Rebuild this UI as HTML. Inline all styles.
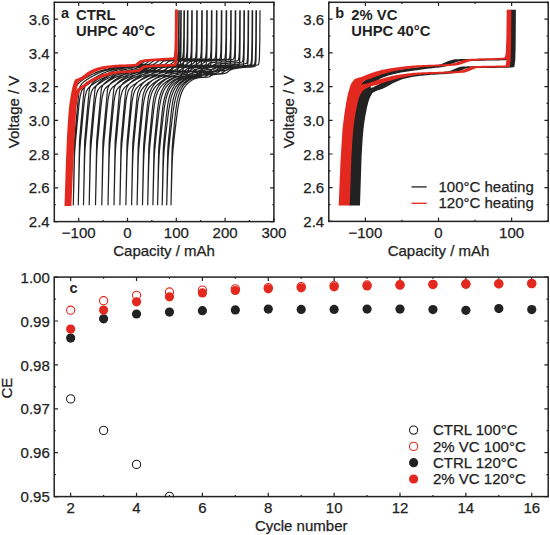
<!DOCTYPE html>
<html><head><meta charset="utf-8"><style>
html,body{margin:0;padding:0;background:#fff;width:550px;height:535px;overflow:hidden}
svg{display:block}
text{font-family:"Liberation Sans", sans-serif}
</style></head><body>
<svg width="550" height="535" viewBox="0 0 550 535" font-family='"Liberation Sans", sans-serif' fill="#222222"><rect width="550" height="535" fill="#fff"/><clipPath id="ca"><rect x="54.3" y="2.3" width="219.59999999999997" height="219.29999999999998"/></clipPath><clipPath id="cb"><rect x="328.8" y="2.3" width="219.40000000000003" height="219.1"/></clipPath><clipPath id="cc"><rect x="54.2" y="277.1" width="494.00000000000006" height="220.5"/></clipPath><g clip-path="url(#ca)" fill="none" stroke-linejoin="round" stroke-linecap="square"><path d="M69.50,204.73 70.72,140.63 70.73,140.47 71.96,126.02 72.09,124.60 73.18,112.07 73.89,104.36 74.41,98.28 75.50,88.33 75.64,87.90 76.87,85.33 77.80,84.12 78.10,83.75 79.32,82.51 79.99,81.92 80.55,81.46 81.78,80.53 82.19,80.24 83.01,79.65 84.14,78.89 84.24,78.83 85.47,78.10 86.69,77.41 87.07,77.20 87.92,76.71 89.15,76.01 90.38,75.32 91.61,74.67 91.95,74.50 92.83,74.06 94.06,73.46 95.29,72.89 96.52,72.34 97.75,71.84 98.78,71.46 98.97,71.40 100.20,70.99 101.43,70.61 102.66,70.25 103.89,69.91 105.11,69.59 106.34,69.29 107.57,68.99 108.54,68.76 108.80,68.70 110.03,68.43 111.26,68.16 112.48,67.90 113.71,67.66 114.94,67.42 116.17,67.19 117.40,66.97 118.62,66.75 118.69,66.74 119.85,66.55 121.08,66.38 122.31,66.22 123.54,66.07 124.76,65.94 125.99,65.81 127.22,65.68 128.45,65.55 129.68,65.41 130.90,65.26 132.13,65.10 133.36,64.91 134.59,64.71 135.82,64.47 137.04,64.20 138.27,63.90 138.36,63.87 139.50,63.33 140.73,62.39 141.96,61.40 143.19,60.67 143.82,60.50 144.41,60.43 145.64,60.29 146.87,60.17 148.10,60.07 149.33,59.98 150.55,59.91 151.78,59.84 153.01,59.78 154.24,59.73 155.47,59.69 156.69,59.64 157.92,59.60 159.15,59.55 160.38,59.50 161.61,59.45 162.83,59.39 164.06,59.32 164.16,59.32 165.29,59.25 166.52,59.20 167.75,59.14 168.98,59.08 170.20,59.02 171.43,58.95 172.66,58.86 173.89,58.75 174.90,58.64 175.12,58.62 176.34,58.40 177.34,57.97 177.57,57.34 178.21,51.22 178.60,36.04 178.80,10.73 M179.20,10.73 179.05,44.47 178.81,57.97 178.22,64.21 178.01,64.40 176.82,64.95 176.27,65.05 175.63,65.16 174.44,65.32 173.25,65.46 172.06,65.57 170.87,65.66 169.68,65.74 168.49,65.81 167.30,65.88 166.11,65.95 164.92,66.04 164.56,66.07 163.73,66.13 162.54,66.22 161.35,66.29 160.16,66.36 158.97,66.43 157.78,66.49 156.59,66.56 155.40,66.63 154.21,66.71 153.02,66.80 151.83,66.90 150.64,67.01 149.45,67.14 148.26,67.30 147.43,67.42 147.07,67.49 145.88,67.93 144.69,68.58 143.50,69.28 142.31,69.90 141.12,70.28 141.08,70.28 139.93,70.45 138.74,70.61 137.55,70.74 136.36,70.86 135.17,70.96 133.98,71.05 132.79,71.13 131.60,71.20 130.41,71.26 129.22,71.33 128.03,71.39 126.84,71.47 125.66,71.54 124.47,71.63 123.28,71.73 122.09,71.84 120.96,71.97 120.90,71.98 119.71,72.13 118.52,72.31 117.33,72.51 116.14,72.72 114.95,72.95 113.76,73.19 112.57,73.44 112.34,73.49 111.38,73.70 110.19,73.98 109.00,74.27 107.81,74.58 106.62,74.91 105.43,75.26 104.24,75.63 103.05,76.03 102.58,76.19 101.86,76.45 100.67,76.93 99.48,77.46 98.29,78.02 97.10,78.62 96.24,79.06 95.91,79.23 94.72,79.88 93.53,80.57 92.34,81.30 91.36,81.92 91.15,82.06 89.96,82.87 88.77,83.71 88.43,83.95 87.58,84.52 86.48,85.30 86.39,85.36 85.20,86.30 84.28,87.15 84.01,87.43 82.82,88.82 82.08,90.02 81.63,91.03 80.44,95.04 79.89,97.61 79.25,102.21 78.18,112.79 78.06,113.98 76.87,126.69 76.23,133.88 75.68,139.35 74.76,150.75 74.49,156.83 73.30,204.73 M73.30,204.73 74.51,140.87 74.52,140.63 75.72,126.43 75.89,124.60 76.92,112.75 77.69,104.36 78.13,99.26 79.30,88.33 79.34,88.21 80.55,85.51 81.60,84.12 81.76,83.92 82.96,82.65 83.79,81.92 84.17,81.60 85.38,80.68 85.99,80.24 86.59,79.80 87.79,78.98 87.94,78.89 89.00,78.25 90.21,77.57 90.87,77.20 91.42,76.89 92.63,76.20 93.83,75.51 95.04,74.86 95.75,74.50 96.25,74.25 97.46,73.66 98.67,73.08 99.87,72.54 101.08,72.03 102.29,71.57 102.58,71.46 103.50,71.16 104.70,70.77 105.91,70.41 107.12,70.08 108.33,69.75 109.54,69.45 110.74,69.15 111.95,68.86 112.34,68.76 113.16,68.57 114.37,68.29 115.58,68.02 116.78,67.76 117.99,67.51 119.20,67.27 120.41,67.04 121.61,66.82 121.68,66.80 122.82,66.61 124.03,66.43 125.24,66.27 126.45,66.13 127.65,65.99 128.86,65.87 130.07,65.74 131.28,65.61 132.49,65.47 133.69,65.33 134.90,65.16 136.11,64.98 137.32,64.77 138.52,64.54 139.73,64.27 140.94,63.97 141.03,63.94 142.15,63.40 143.36,62.46 144.56,61.48 145.77,60.75 146.40,60.57 146.98,60.50 148.19,60.37 149.40,60.25 150.60,60.14 151.81,60.06 153.02,59.98 154.23,59.91 155.43,59.85 156.64,59.80 157.85,59.76 159.06,59.71 160.27,59.67 161.47,59.62 162.68,59.57 163.89,59.52 165.10,59.46 166.16,59.40 166.31,59.39 167.51,59.32 168.72,59.26 169.93,59.21 171.14,59.15 172.34,59.09 173.55,59.02 174.76,58.93 175.97,58.82 176.90,58.72 177.18,58.69 178.38,58.47 179.34,58.04 179.59,57.32 180.21,51.30 180.60,36.10 180.80,10.73 M181.20,10.73 181.05,44.47 180.81,57.99 180.22,64.23 180.04,64.40 178.89,64.96 178.27,65.07 177.73,65.16 176.58,65.32 175.42,65.46 174.26,65.57 173.11,65.66 171.95,65.73 170.79,65.80 169.64,65.87 168.48,65.94 167.33,66.02 166.56,66.08 166.17,66.12 165.01,66.20 163.86,66.28 162.70,66.36 161.54,66.43 160.39,66.49 159.23,66.56 158.08,66.64 156.92,66.72 155.76,66.81 154.61,66.91 153.45,67.03 152.30,67.16 151.14,67.32 150.33,67.44 149.98,67.51 148.83,67.96 147.67,68.61 146.51,69.32 145.36,69.93 144.20,70.31 144.16,70.32 143.05,70.49 141.89,70.64 140.73,70.78 139.58,70.89 138.42,70.99 137.27,71.08 136.11,71.15 134.95,71.22 133.80,71.29 132.64,71.35 131.48,71.42 130.33,71.49 129.17,71.57 128.02,71.66 126.86,71.76 125.70,71.88 124.61,72.02 124.55,72.02 123.39,72.20 122.23,72.40 121.08,72.64 119.92,72.89 118.77,73.16 117.61,73.43 117.34,73.49 116.45,73.70 115.30,73.97 114.14,74.26 112.99,74.55 111.83,74.87 110.67,75.20 109.52,75.55 108.36,75.92 107.58,76.19 107.20,76.32 106.05,76.77 104.89,77.27 103.74,77.81 102.58,78.37 101.42,78.96 101.24,79.06 100.27,79.57 99.11,80.23 97.96,80.92 96.80,81.64 96.36,81.92 95.64,82.39 94.49,83.20 93.43,83.95 93.33,84.01 92.17,84.79 91.48,85.30 91.02,85.65 89.86,86.59 89.28,87.15 88.71,87.75 87.55,89.22 87.08,90.02 86.39,91.66 85.24,95.93 84.89,97.61 84.08,103.76 83.18,112.79 82.92,115.33 81.77,127.82 81.23,133.88 80.61,140.00 79.76,150.75 79.46,157.74 78.30,204.73 M78.30,204.73 79.49,141.30 79.52,140.63 80.68,126.83 80.89,124.60 81.86,113.43 82.69,104.36 83.05,100.25 84.24,88.57 84.30,88.33 85.43,85.71 86.60,84.12 86.61,84.09 87.80,82.80 88.79,81.92 88.99,81.75 90.18,80.83 90.99,80.24 91.36,79.96 92.55,79.14 92.94,78.89 93.74,78.40 94.93,77.73 95.87,77.20 96.11,77.06 97.30,76.38 98.49,75.71 99.68,75.05 100.75,74.50 100.87,74.44 102.05,73.86 103.24,73.28 104.43,72.73 105.62,72.22 106.80,71.74 107.58,71.46 107.99,71.32 109.18,70.94 110.37,70.58 111.55,70.24 112.74,69.92 113.93,69.61 115.12,69.31 116.30,69.02 117.34,68.76 117.49,68.73 118.68,68.44 119.87,68.15 121.06,67.88 122.24,67.61 123.43,67.35 124.62,67.11 125.81,66.88 125.87,66.87 126.99,66.67 128.18,66.49 129.37,66.33 130.56,66.18 131.74,66.05 132.93,65.92 134.12,65.80 135.31,65.67 136.49,65.53 137.68,65.39 138.87,65.23 140.06,65.05 141.24,64.84 142.43,64.61 143.62,64.34 144.81,64.04 144.89,64.02 146.00,63.47 147.18,62.54 148.37,61.55 149.56,60.82 150.18,60.65 150.75,60.58 151.93,60.44 153.12,60.32 154.31,60.22 155.50,60.13 156.68,60.05 157.87,59.98 159.06,59.93 160.25,59.87 161.43,59.83 162.62,59.78 163.81,59.74 165.00,59.69 166.19,59.64 167.37,59.58 168.56,59.52 169.36,59.47 169.75,59.45 170.94,59.39 172.12,59.33 173.31,59.28 174.50,59.22 175.69,59.16 176.87,59.09 178.06,59.00 179.25,58.89 180.10,58.80 180.44,58.75 181.62,58.53 182.54,58.12 182.81,57.29 183.41,51.38 183.80,36.16 184.00,10.73 M184.40,10.73 184.25,44.47 184.01,58.01 183.42,64.25 183.27,64.40 182.13,64.97 181.47,65.09 181.00,65.17 179.87,65.33 178.73,65.46 177.60,65.57 176.46,65.66 175.33,65.74 174.20,65.81 173.06,65.87 171.93,65.94 170.80,66.02 169.76,66.10 169.66,66.11 168.53,66.20 167.39,66.28 166.26,66.36 165.13,66.43 163.99,66.50 162.86,66.57 161.73,66.65 160.59,66.73 159.46,66.82 158.32,66.93 157.19,67.05 156.06,67.19 154.92,67.35 154.13,67.47 153.79,67.54 152.66,67.99 151.52,68.64 150.39,69.35 149.26,69.96 148.12,70.34 148.08,70.35 146.99,70.52 145.85,70.68 144.72,70.81 143.59,70.93 142.45,71.02 141.32,71.11 140.19,71.18 139.05,71.25 137.92,71.32 136.78,71.38 135.65,71.45 134.52,71.52 133.38,71.60 132.25,71.69 131.12,71.80 129.98,71.93 128.91,72.06 128.85,72.07 127.71,72.26 126.58,72.49 125.45,72.76 124.31,73.04 123.18,73.33 122.54,73.49 122.05,73.61 120.91,73.89 119.78,74.17 118.64,74.45 117.51,74.75 116.38,75.06 115.24,75.39 114.11,75.74 112.98,76.12 112.78,76.19 111.84,76.53 110.71,77.00 109.58,77.51 108.44,78.05 107.31,78.61 106.44,79.06 106.17,79.19 105.04,79.81 103.91,80.47 102.77,81.16 101.64,81.87 101.56,81.92 100.51,82.63 99.37,83.43 98.63,83.95 98.24,84.21 97.10,84.98 96.68,85.30 95.97,85.84 94.84,86.80 94.48,87.15 93.70,87.97 92.57,89.51 92.28,90.02 91.44,92.13 90.30,96.56 90.09,97.61 89.17,104.84 88.38,112.79 88.03,116.25 86.90,128.58 86.43,133.88 85.77,140.43 84.96,150.75 84.63,158.37 83.50,204.73 M83.50,204.73 84.67,141.73 84.72,140.63 85.84,127.20 86.09,124.60 87.01,114.08 87.89,104.36 88.17,101.17 89.34,89.04 89.50,88.33 90.51,85.90 91.68,84.26 91.80,84.12 92.85,82.95 93.99,81.92 94.02,81.90 95.19,80.97 96.19,80.24 96.35,80.12 97.52,79.29 98.14,78.89 98.69,78.55 99.86,77.87 101.03,77.22 101.07,77.20 102.20,76.56 103.37,75.89 104.53,75.24 105.70,74.62 105.95,74.50 106.87,74.04 108.04,73.48 109.21,72.93 110.38,72.40 111.54,71.92 112.71,71.49 112.78,71.46 113.88,71.10 115.05,70.73 116.22,70.40 117.39,70.07 118.56,69.77 119.72,69.47 120.89,69.18 122.06,68.89 122.54,68.76 123.23,68.59 124.40,68.29 125.57,68.00 126.74,67.71 127.90,67.44 129.07,67.18 130.24,66.94 130.30,66.93 131.41,66.73 132.58,66.55 133.75,66.39 134.92,66.24 136.08,66.10 137.25,65.98 138.42,65.85 139.59,65.72 140.76,65.59 141.93,65.45 143.10,65.29 144.26,65.11 145.43,64.91 146.60,64.68 147.77,64.41 148.94,64.11 149.02,64.09 150.11,63.54 151.28,62.61 152.44,61.63 153.61,60.90 154.22,60.73 154.78,60.65 155.95,60.51 157.12,60.39 158.29,60.29 159.46,60.20 160.62,60.12 161.79,60.06 162.96,60.00 164.13,59.94 165.30,59.90 166.47,59.85 167.63,59.80 168.80,59.76 169.97,59.71 171.14,59.65 172.31,59.59 172.86,59.55 173.48,59.51 174.65,59.45 175.81,59.40 176.98,59.34 178.15,59.29 179.32,59.23 180.49,59.16 181.66,59.07 182.83,58.96 183.60,58.87 183.99,58.82 185.16,58.59 186.04,58.19 186.33,57.26 186.91,51.45 187.30,36.21 187.50,10.73 M187.90,10.73 187.75,44.47 187.51,58.03 186.92,64.27 186.79,64.40 185.68,64.97 184.97,65.11 184.57,65.18 183.46,65.34 182.36,65.47 181.25,65.58 180.14,65.66 179.03,65.74 177.92,65.81 176.81,65.87 175.70,65.94 174.59,66.01 173.48,66.10 173.26,66.12 172.37,66.19 171.27,66.28 170.16,66.36 169.05,66.43 167.94,66.50 166.83,66.58 165.72,66.66 164.61,66.74 163.50,66.84 162.39,66.94 161.28,67.07 160.18,67.21 159.07,67.37 158.29,67.50 157.96,67.57 156.85,68.02 155.74,68.67 154.63,69.38 153.52,70.00 152.41,70.37 152.37,70.38 151.30,70.56 150.19,70.71 149.09,70.84 147.98,70.96 146.87,71.05 145.76,71.14 144.65,71.21 143.54,71.28 142.43,71.34 141.32,71.41 140.21,71.47 139.10,71.54 138.00,71.63 136.89,71.72 135.78,71.83 134.67,71.96 133.62,72.11 133.56,72.12 132.45,72.33 131.34,72.61 130.23,72.92 129.12,73.24 128.24,73.49 128.01,73.55 126.91,73.83 125.80,74.11 124.69,74.39 123.58,74.68 122.47,74.97 121.36,75.28 120.25,75.61 119.14,75.96 118.48,76.19 118.03,76.35 116.92,76.78 115.82,77.26 114.71,77.77 113.60,78.31 112.49,78.87 112.14,79.06 111.38,79.45 110.27,80.08 109.16,80.73 108.05,81.42 107.26,81.92 106.94,82.13 105.83,82.89 104.73,83.67 104.33,83.95 103.62,84.43 102.51,85.20 102.38,85.30 101.40,86.05 100.29,87.04 100.18,87.15 99.18,88.23 98.07,89.86 97.98,90.02 96.96,92.68 95.85,97.28 95.79,97.61 94.74,106.07 94.08,112.79 93.64,117.28 92.53,129.41 92.13,133.88 91.42,140.92 90.66,150.75 90.31,159.08 89.20,204.73 M89.20,204.73 90.35,142.10 90.42,140.63 91.51,127.50 91.79,124.60 92.66,114.62 93.59,104.36 93.81,101.91 94.96,89.53 95.20,88.33 96.12,86.07 97.27,84.40 97.50,84.12 98.42,83.07 99.58,82.02 99.69,81.92 100.73,81.09 101.88,80.24 101.89,80.24 103.03,79.42 103.84,78.89 104.19,78.67 105.34,78.00 106.49,77.35 106.77,77.20 107.64,76.70 108.80,76.04 109.95,75.39 111.10,74.78 111.65,74.50 112.26,74.20 113.41,73.63 114.56,73.09 115.71,72.56 116.87,72.07 118.02,71.63 118.48,71.46 119.17,71.23 120.33,70.86 121.48,70.52 122.63,70.20 123.78,69.90 124.94,69.60 126.09,69.31 127.24,69.02 128.24,68.76 128.40,68.72 129.55,68.42 130.70,68.11 131.85,67.81 133.01,67.52 134.16,67.25 135.31,67.01 135.37,67.00 136.47,66.80 137.62,66.61 138.77,66.44 139.92,66.30 141.08,66.16 142.23,66.03 143.38,65.91 144.53,65.78 145.69,65.65 146.84,65.51 147.99,65.35 149.15,65.18 150.30,64.98 151.45,64.75 152.60,64.48 153.76,64.18 153.84,64.16 154.91,63.62 156.06,62.69 157.22,61.70 158.37,60.98 158.97,60.80 159.52,60.73 160.67,60.59 161.83,60.47 162.98,60.36 164.13,60.27 165.29,60.19 166.44,60.13 167.59,60.07 168.74,60.02 169.90,59.97 171.05,59.92 172.20,59.87 173.36,59.83 174.51,59.77 175.66,59.72 176.81,59.65 177.16,59.63 177.97,59.58 179.12,59.52 180.27,59.47 181.42,59.41 182.58,59.36 183.73,59.30 184.88,59.23 186.04,59.14 187.19,59.03 187.90,58.95 188.34,58.89 189.49,58.66 190.34,58.26 190.65,57.24 191.21,51.53 191.60,36.27 191.80,10.73 M192.20,10.73 192.05,44.47 191.81,58.05 191.22,64.30 191.11,64.40 190.03,64.98 189.27,65.13 188.94,65.19 187.85,65.34 186.77,65.47 185.68,65.58 184.59,65.67 183.51,65.74 182.42,65.81 181.33,65.87 180.25,65.94 179.16,66.01 178.08,66.09 177.56,66.14 176.99,66.19 175.90,66.27 174.82,66.36 173.73,66.43 172.64,66.51 171.56,66.58 170.47,66.66 169.38,66.75 168.30,66.85 167.21,66.96 166.12,67.08 165.04,67.23 163.95,67.39 163.19,67.52 162.86,67.60 161.78,68.05 160.69,68.71 159.60,69.41 158.52,70.03 157.43,70.41 157.39,70.42 156.34,70.59 155.26,70.75 154.17,70.88 153.09,70.99 152.00,71.08 150.91,71.16 149.83,71.24 148.74,71.30 147.65,71.36 146.57,71.43 145.48,71.49 144.39,71.57 143.31,71.65 142.22,71.75 141.13,71.87 140.05,72.00 139.02,72.16 138.96,72.17 137.87,72.41 136.79,72.75 135.70,73.12 134.61,73.47 134.54,73.49 133.53,73.77 132.44,74.06 131.36,74.33 130.27,74.61 129.18,74.89 128.10,75.17 127.01,75.48 125.92,75.81 124.84,76.17 124.78,76.19 123.75,76.57 122.66,77.02 121.58,77.51 120.49,78.02 119.40,78.56 118.44,79.06 118.32,79.12 117.23,79.70 116.14,80.32 115.06,80.98 113.97,81.66 113.56,81.92 112.88,82.37 111.80,83.12 110.71,83.89 110.63,83.95 109.62,84.62 108.68,85.30 108.54,85.40 107.45,86.26 106.48,87.15 106.37,87.27 105.28,88.48 104.28,90.02 104.19,90.20 103.11,93.23 102.09,97.61 102.02,97.98 100.93,107.21 100.38,112.79 99.85,118.22 98.76,130.16 98.43,133.88 97.67,141.38 96.96,150.75 96.59,159.74 95.50,204.73 M95.50,204.73 96.64,142.47 96.72,140.63 97.78,127.77 98.09,124.60 98.91,115.11 99.89,104.36 100.05,102.59 101.19,90.04 101.50,88.33 102.33,86.24 103.47,84.53 103.80,84.12 104.61,83.19 105.74,82.14 105.99,81.92 106.88,81.20 108.02,80.36 108.19,80.24 109.16,79.54 110.14,78.89 110.30,78.79 111.43,78.11 112.57,77.48 113.07,77.20 113.71,76.83 114.85,76.18 115.99,75.54 117.13,74.92 117.95,74.50 118.26,74.34 119.40,73.78 120.54,73.24 121.68,72.71 122.82,72.22 123.96,71.76 124.78,71.46 125.09,71.36 126.23,70.99 127.37,70.65 128.51,70.33 129.65,70.02 130.78,69.73 131.92,69.44 133.06,69.15 134.20,68.86 134.54,68.76 135.34,68.55 136.48,68.23 137.61,67.91 138.75,67.61 139.89,67.33 141.03,67.07 141.09,67.06 142.17,66.86 143.30,66.67 144.44,66.50 145.58,66.35 146.72,66.22 147.86,66.09 149.00,65.97 150.13,65.84 151.27,65.71 152.41,65.57 153.55,65.42 154.69,65.24 155.82,65.05 156.96,64.82 158.10,64.56 159.24,64.26 159.32,64.23 160.38,63.69 161.52,62.76 162.65,61.78 163.79,61.05 164.38,60.88 164.93,60.80 166.07,60.66 167.21,60.54 168.34,60.44 169.48,60.35 170.62,60.27 171.76,60.20 172.90,60.14 174.04,60.09 175.17,60.04 176.31,59.99 177.45,59.95 178.59,59.90 179.73,59.84 180.87,59.78 182.00,59.72 182.16,59.71 183.14,59.65 184.28,59.59 185.42,59.54 186.56,59.49 187.69,59.43 188.83,59.37 189.97,59.30 191.11,59.21 192.25,59.10 192.90,59.02 193.39,58.96 194.52,58.72 195.34,58.34 195.66,57.23 196.21,51.61 196.60,36.33 196.80,10.73 M197.20,10.73 197.05,44.47 196.81,58.07 196.22,64.32 196.13,64.41 195.06,64.99 194.27,65.15 193.98,65.20 192.91,65.36 191.84,65.48 190.77,65.59 189.70,65.68 188.62,65.75 187.55,65.82 186.48,65.88 185.41,65.94 184.34,66.01 183.27,66.09 182.56,66.15 182.19,66.19 181.12,66.28 180.05,66.36 178.98,66.44 177.91,66.52 176.83,66.59 175.76,66.68 174.69,66.77 173.62,66.86 172.55,66.98 171.47,67.10 170.40,67.25 169.33,67.42 168.58,67.55 168.26,67.63 167.19,68.08 166.11,68.74 165.04,69.44 163.97,70.06 162.90,70.44 162.86,70.45 161.83,70.62 160.76,70.78 159.68,70.91 158.61,71.02 157.54,71.11 156.47,71.19 155.40,71.26 154.32,71.33 153.25,71.39 152.18,71.45 151.11,71.52 150.04,71.59 148.96,71.68 147.89,71.78 146.82,71.90 145.75,72.04 144.73,72.20 144.68,72.21 143.60,72.49 142.53,72.88 141.46,73.28 140.84,73.49 140.39,73.62 139.32,73.93 138.24,74.21 137.17,74.48 136.10,74.75 135.03,75.02 133.96,75.30 132.89,75.61 131.81,75.94 131.08,76.19 130.74,76.31 129.67,76.72 128.60,77.18 127.53,77.67 126.45,78.19 125.38,78.72 124.74,79.06 124.31,79.28 123.24,79.87 122.17,80.49 121.09,81.14 120.02,81.82 119.86,81.92 118.95,82.53 117.88,83.28 116.93,83.95 116.81,84.03 115.73,84.75 114.98,85.30 114.66,85.53 113.59,86.39 112.78,87.15 112.52,87.42 111.45,88.65 110.58,90.02 110.38,90.45 109.30,93.60 108.39,97.61 108.23,98.50 107.16,107.95 106.68,112.79 106.09,118.84 105.02,130.66 104.73,133.88 103.94,141.68 103.26,150.75 102.87,160.17 101.80,204.73 M101.80,204.73 102.92,142.85 103.02,140.63 104.05,128.05 104.39,124.60 105.17,115.61 106.19,104.36 106.29,103.25 107.42,90.62 107.80,88.33 108.54,86.41 109.67,84.66 110.10,84.12 110.79,83.31 111.91,82.25 112.29,81.92 113.04,81.31 114.16,80.47 114.49,80.24 115.28,79.66 116.41,78.91 116.44,78.89 117.53,78.23 118.65,77.60 119.37,77.20 119.78,76.97 120.90,76.32 122.02,75.69 123.15,75.07 124.25,74.50 124.27,74.49 125.40,73.93 126.52,73.39 127.64,72.86 128.77,72.37 129.89,71.90 131.01,71.49 131.08,71.46 132.14,71.11 133.26,70.77 134.38,70.45 135.51,70.15 136.63,69.86 137.76,69.57 138.88,69.28 140.00,68.99 140.84,68.76 141.13,68.69 142.25,68.36 143.37,68.03 144.50,67.70 145.62,67.40 146.74,67.14 146.80,67.13 147.87,66.92 148.99,66.72 150.11,66.56 151.24,66.41 152.36,66.27 153.49,66.14 154.61,66.02 155.73,65.90 156.86,65.77 157.98,65.63 159.10,65.48 160.23,65.31 161.35,65.11 162.47,64.89 163.60,64.63 164.72,64.33 164.80,64.30 165.84,63.76 166.97,62.84 168.09,61.86 169.22,61.13 169.80,60.95 170.34,60.88 171.46,60.74 172.59,60.62 173.71,60.51 174.83,60.42 175.96,60.34 177.08,60.27 178.20,60.21 179.33,60.16 180.45,60.11 181.58,60.06 182.70,60.02 183.82,59.97 184.95,59.91 186.07,59.85 187.16,59.79 187.19,59.78 188.32,59.72 189.44,59.66 190.56,59.61 191.69,59.56 192.81,59.50 193.93,59.44 195.06,59.37 196.18,59.28 197.31,59.17 197.90,59.10 198.43,59.03 199.55,58.79 200.34,58.41 200.68,57.22 201.21,51.69 201.60,36.39 201.80,10.73 M202.20,10.73 202.05,44.47 201.81,58.09 201.22,64.34 201.14,64.42 200.08,65.01 199.27,65.17 199.02,65.21 197.97,65.37 196.91,65.50 195.85,65.60 194.79,65.69 193.73,65.76 192.67,65.83 191.62,65.89 190.56,65.95 189.50,66.02 188.44,66.09 187.56,66.17 187.38,66.19 186.32,66.28 185.27,66.36 184.21,66.44 183.15,66.52 182.09,66.60 181.03,66.69 179.97,66.78 178.91,66.88 177.86,66.99 176.80,67.12 175.74,67.27 174.68,67.44 173.94,67.58 173.62,67.66 172.56,68.11 171.51,68.77 170.45,69.48 169.39,70.09 168.33,70.47 168.29,70.48 167.27,70.66 166.21,70.81 165.16,70.94 164.10,71.05 163.04,71.15 161.98,71.22 160.92,71.29 159.86,71.35 158.80,71.41 157.75,71.48 156.69,71.54 155.63,71.62 154.57,71.71 153.51,71.81 152.45,71.93 151.40,72.08 150.39,72.25 150.34,72.26 149.28,72.58 148.22,73.02 147.16,73.45 147.04,73.49 146.10,73.78 145.04,74.08 143.99,74.35 142.93,74.62 141.87,74.88 140.81,75.14 139.75,75.43 138.69,75.73 137.64,76.07 137.28,76.19 136.58,76.44 135.52,76.87 134.46,77.33 133.40,77.82 132.34,78.34 131.29,78.88 130.94,79.06 130.23,79.43 129.17,80.02 128.11,80.64 127.05,81.29 126.06,81.92 125.99,81.96 124.93,82.68 123.88,83.42 123.13,83.95 122.82,84.16 121.76,84.87 121.18,85.30 120.70,85.66 119.64,86.52 118.98,87.15 118.58,87.56 117.53,88.81 116.78,90.02 116.47,90.69 115.41,93.95 114.59,97.61 114.35,99.03 113.29,108.64 112.88,112.79 112.23,119.41 111.18,131.11 110.93,133.88 110.12,141.96 109.46,150.75 109.06,160.58 108.00,204.73 M108.00,204.73 109.11,143.21 109.22,140.63 110.22,128.30 110.59,124.60 111.33,116.07 112.39,104.36 112.44,103.84 113.55,91.21 114.00,88.33 114.66,86.58 115.77,84.78 116.30,84.12 116.88,83.42 117.99,82.36 118.49,81.92 119.10,81.42 120.21,80.58 120.69,80.24 121.32,79.78 122.43,79.02 122.64,78.89 123.54,78.34 124.65,77.71 125.57,77.20 125.76,77.09 126.87,76.46 127.98,75.82 129.09,75.21 130.20,74.62 130.45,74.50 131.31,74.07 132.42,73.53 133.53,73.01 134.64,72.51 135.75,72.04 136.86,71.61 137.28,71.46 137.97,71.23 139.08,70.88 140.19,70.56 141.30,70.26 142.41,69.97 143.52,69.69 144.63,69.41 145.74,69.12 146.85,68.82 147.04,68.76 147.96,68.49 149.07,68.14 150.18,67.80 151.29,67.48 152.40,67.20 152.46,67.19 153.51,66.98 154.62,66.78 155.73,66.61 156.84,66.46 157.96,66.32 159.07,66.20 160.18,66.08 161.29,65.96 162.40,65.83 163.51,65.69 164.62,65.54 165.73,65.37 166.84,65.18 167.95,64.96 169.06,64.70 170.17,64.40 170.24,64.38 171.28,63.84 172.39,62.91 173.50,61.93 174.61,61.21 175.18,61.03 175.72,60.95 176.83,60.81 177.94,60.69 179.05,60.58 180.16,60.49 181.27,60.41 182.38,60.34 183.49,60.28 184.60,60.23 185.71,60.18 186.82,60.13 187.93,60.09 189.04,60.04 190.15,59.98 191.26,59.92 192.16,59.86 192.37,59.85 193.48,59.78 194.59,59.73 195.70,59.68 196.81,59.63 197.92,59.57 199.03,59.51 200.14,59.44 201.25,59.35 202.36,59.24 202.90,59.17 203.47,59.10 204.58,58.85 205.34,58.49 205.69,57.21 206.21,51.77 206.60,36.45 206.80,10.73 M207.20,10.73 207.05,44.47 206.81,58.10 206.22,64.36 206.15,64.43 205.11,65.02 204.27,65.19 204.06,65.23 203.01,65.38 201.96,65.51 200.92,65.61 199.87,65.70 198.82,65.77 197.78,65.84 196.73,65.90 195.68,65.96 194.63,66.02 193.59,66.10 192.56,66.19 192.54,66.19 191.49,66.28 190.44,66.37 189.40,66.45 188.35,66.53 187.30,66.61 186.26,66.70 185.21,66.79 184.16,66.90 183.11,67.01 182.07,67.15 181.02,67.30 179.97,67.47 179.24,67.61 178.93,67.68 177.88,68.14 176.83,68.80 175.78,69.51 174.74,70.12 173.69,70.51 173.65,70.51 172.64,70.69 171.60,70.85 170.55,70.98 169.50,71.09 168.45,71.18 167.41,71.25 166.36,71.32 165.31,71.38 164.27,71.44 163.22,71.50 162.17,71.57 161.12,71.64 160.08,71.73 159.03,71.84 157.98,71.97 156.93,72.12 155.94,72.30 155.89,72.31 154.84,72.67 153.79,73.17 153.04,73.49 152.75,73.59 151.70,73.91 150.65,74.21 149.60,74.48 148.56,74.73 147.51,74.99 146.46,75.25 145.42,75.53 144.37,75.83 143.32,76.17 143.28,76.19 142.27,76.56 141.23,76.99 140.18,77.46 139.13,77.95 138.09,78.47 137.04,79.00 136.94,79.06 135.99,79.56 134.94,80.15 133.90,80.77 132.85,81.42 132.06,81.92 131.80,82.09 130.76,82.80 129.71,83.54 129.13,83.95 128.66,84.26 127.61,84.98 127.18,85.30 126.57,85.76 125.52,86.63 124.98,87.15 124.47,87.68 123.42,88.96 122.78,90.02 122.38,90.90 121.33,94.26 120.59,97.61 120.28,99.50 119.24,109.22 118.88,112.79 118.19,119.89 117.14,131.49 116.93,133.88 116.09,142.20 115.46,150.75 115.05,160.92 114.00,204.73 M114.00,204.73 115.10,143.62 115.22,140.63 116.19,128.56 116.59,124.60 117.29,116.57 118.38,104.46 118.39,104.36 119.48,91.89 120.00,88.33 120.57,86.78 121.67,84.91 122.30,84.12 122.76,83.55 123.86,82.47 124.49,81.92 124.96,81.53 126.05,80.70 126.69,80.24 127.15,79.90 128.24,79.14 128.64,78.89 129.34,78.46 130.43,77.83 131.53,77.22 131.57,77.20 132.62,76.60 133.72,75.97 134.81,75.36 135.91,74.77 136.45,74.50 137.01,74.22 138.10,73.69 139.20,73.16 140.29,72.66 141.39,72.19 142.48,71.75 143.28,71.46 143.58,71.36 144.67,71.01 145.77,70.69 146.87,70.39 147.96,70.10 149.06,69.83 150.15,69.55 151.25,69.26 152.34,68.97 153.04,68.76 153.44,68.64 154.53,68.28 155.63,67.91 156.72,67.56 157.82,67.27 157.88,67.25 158.92,67.04 160.01,66.84 161.11,66.66 162.20,66.51 163.30,66.37 164.39,66.25 165.49,66.13 166.58,66.01 167.68,65.89 168.78,65.75 169.87,65.61 170.97,65.44 172.06,65.25 173.16,65.02 174.25,64.77 175.35,64.47 175.43,64.45 176.44,63.91 177.54,62.99 178.63,62.01 179.73,61.28 180.30,61.11 180.83,61.03 181.92,60.89 183.02,60.76 184.11,60.66 185.21,60.56 186.30,60.49 187.40,60.42 188.49,60.36 189.59,60.30 190.69,60.25 191.78,60.20 192.88,60.16 193.97,60.10 195.07,60.05 196.16,59.99 196.86,59.94 197.26,59.92 198.35,59.85 199.45,59.80 200.54,59.75 201.64,59.70 202.74,59.64 203.83,59.58 204.93,59.51 206.02,59.42 207.12,59.31 207.60,59.25 208.21,59.17 209.31,58.92 210.04,58.56 210.40,57.18 210.91,51.84 211.30,36.51 211.50,10.73 M211.90,10.73 211.75,44.47 211.51,58.12 210.92,64.38 210.87,64.44 209.83,65.03 208.97,65.21 208.80,65.24 207.77,65.39 206.73,65.52 205.70,65.62 204.66,65.71 203.63,65.78 202.60,65.85 201.56,65.90 200.53,65.96 199.50,66.03 198.46,66.10 197.43,66.19 197.26,66.21 196.39,66.29 195.36,66.37 194.33,66.46 193.29,66.54 192.26,66.62 191.23,66.71 190.19,66.81 189.16,66.91 188.12,67.03 187.09,67.16 186.06,67.32 185.02,67.50 184.30,67.63 183.99,67.71 182.96,68.17 181.92,68.83 180.89,69.54 179.86,70.16 178.82,70.54 178.78,70.55 177.79,70.73 176.75,70.88 175.72,71.01 174.69,71.12 173.65,71.20 172.62,71.28 171.59,71.34 170.55,71.40 169.52,71.46 168.48,71.52 167.45,71.58 166.42,71.66 165.38,71.75 164.35,71.86 163.32,72.00 162.28,72.16 161.30,72.34 161.25,72.35 160.21,72.81 159.18,73.39 158.94,73.49 158.15,73.77 157.11,74.09 156.08,74.37 155.05,74.63 154.01,74.88 152.98,75.12 151.94,75.37 150.91,75.65 149.88,75.96 149.18,76.19 148.84,76.31 147.81,76.71 146.78,77.14 145.74,77.61 144.71,78.11 143.68,78.63 142.84,79.06 142.64,79.16 141.61,79.71 140.57,80.31 139.54,80.93 138.51,81.57 137.96,81.92 137.47,82.24 136.44,82.95 135.41,83.68 135.03,83.95 134.37,84.39 133.34,85.10 133.08,85.30 132.30,85.89 131.27,86.77 130.88,87.15 130.24,87.82 129.20,89.14 128.68,90.02 128.17,91.18 127.14,94.64 126.49,97.61 126.10,100.10 125.07,109.91 124.78,112.79 124.03,120.47 123.00,131.94 122.83,133.88 121.97,142.49 121.36,150.75 120.93,161.34 119.90,204.73 M119.90,204.73 120.99,144.73 121.12,141.47 122.07,129.67 122.49,125.55 123.16,117.92 124.24,106.04 124.29,105.52 125.33,94.02 125.90,90.02 126.41,88.46 127.50,86.31 128.20,85.28 128.58,84.73 129.67,83.46 130.39,82.72 130.75,82.38 131.84,81.43 132.59,80.83 132.92,80.56 134.01,79.76 134.54,79.39 135.10,79.03 136.18,78.37 137.27,77.74 137.47,77.62 138.35,77.11 139.44,76.48 140.52,75.87 141.61,75.29 142.35,74.92 142.69,74.75 143.78,74.23 144.86,73.73 145.95,73.24 147.03,72.79 148.12,72.36 149.18,71.99 149.21,71.98 150.29,71.65 151.38,71.35 152.46,71.08 153.55,70.83 154.63,70.59 155.72,70.33 156.80,70.05 157.89,69.74 158.94,69.40 158.97,69.39 160.06,68.90 161.14,68.32 162.23,67.75 163.32,67.33 163.37,67.32 164.40,67.07 165.49,66.84 166.57,66.65 167.66,66.48 168.74,66.34 169.83,66.22 170.91,66.10 172.00,65.99 173.08,65.88 174.17,65.76 175.26,65.63 176.34,65.48 177.43,65.30 178.51,65.09 179.60,64.84 180.68,64.54 180.76,64.52 181.77,63.98 182.85,63.06 183.94,62.08 185.02,61.36 185.59,61.18 186.11,61.11 187.19,60.96 188.28,60.84 189.37,60.73 190.45,60.64 191.54,60.56 192.62,60.49 193.71,60.43 194.79,60.38 195.88,60.33 196.96,60.28 198.05,60.23 199.13,60.18 200.22,60.12 201.30,60.05 201.86,60.02 202.39,59.98 203.48,59.92 204.56,59.87 205.65,59.82 206.73,59.77 207.82,59.71 208.90,59.65 209.99,59.58 211.07,59.49 212.16,59.38 212.60,59.33 213.24,59.24 214.33,58.99 215.04,58.63 215.41,57.19 215.91,51.92 216.30,36.56 216.50,10.73 M216.90,10.73 216.75,44.47 216.51,58.14 215.92,64.40 215.88,64.45 214.86,65.04 213.97,65.23 213.83,65.25 212.81,65.40 211.79,65.53 210.77,65.63 209.74,65.72 208.72,65.79 207.70,65.86 206.68,65.91 205.65,65.97 204.63,66.04 203.61,66.11 202.59,66.19 202.26,66.22 201.56,66.29 200.54,66.38 199.52,66.46 198.50,66.55 197.47,66.63 196.45,66.72 195.43,66.82 194.41,66.93 193.38,67.05 192.36,67.19 191.34,67.34 190.32,67.52 189.60,67.66 189.29,67.74 188.27,68.20 187.25,68.86 186.23,69.57 185.20,70.19 184.18,70.57 184.14,70.58 183.16,70.76 182.14,70.91 181.11,71.03 180.09,71.13 179.07,71.21 178.05,71.28 177.02,71.34 176.00,71.39 174.98,71.44 173.96,71.49 172.93,71.56 171.91,71.64 170.89,71.73 169.87,71.85 168.84,72.00 167.82,72.18 166.85,72.39 166.80,72.40 165.78,73.21 164.94,73.89 164.75,73.97 163.73,74.35 162.71,74.66 161.69,74.92 160.66,75.14 159.64,75.33 158.62,75.53 157.60,75.73 156.57,75.96 155.55,76.24 155.18,76.36 154.53,76.57 153.51,76.95 152.48,77.36 151.46,77.81 150.44,78.27 149.42,78.77 148.84,79.06 148.39,79.28 147.37,79.84 146.35,80.44 145.33,81.08 144.30,81.74 143.96,81.96 143.28,82.42 142.26,83.16 141.24,83.92 141.03,84.07 140.21,84.67 139.19,85.47 139.08,85.57 138.17,86.37 137.15,87.41 136.88,87.72 136.12,88.66 135.10,90.24 134.68,91.07 134.08,92.63 133.06,96.42 132.49,99.19 132.03,102.25 131.01,111.90 130.78,114.16 129.99,122.12 128.97,133.19 128.83,134.72 127.94,143.57 127.36,151.59 126.92,162.42 125.90,204.73 M125.90,204.73 126.97,145.90 127.12,142.31 128.05,130.81 128.49,126.50 129.12,119.34 130.19,107.69 130.29,106.68 131.27,96.24 131.90,91.71 132.34,90.23 133.41,87.76 134.20,86.44 134.48,85.97 135.56,84.49 136.39,83.53 136.63,83.27 137.70,82.20 138.59,81.42 138.78,81.26 139.85,80.40 140.54,79.90 140.92,79.63 142.00,78.94 143.07,78.28 143.47,78.04 144.14,77.64 145.21,77.02 146.29,76.41 147.36,75.84 148.35,75.34 148.43,75.30 149.51,74.80 150.58,74.31 151.65,73.84 152.73,73.40 153.80,72.99 154.87,72.62 155.18,72.52 155.94,72.29 157.02,72.01 158.09,71.77 159.16,71.55 160.24,71.33 161.31,71.10 162.38,70.84 163.46,70.55 164.53,70.19 164.94,70.03 165.60,69.68 166.68,68.85 167.75,67.99 168.82,67.40 168.88,67.38 169.89,67.10 170.97,66.85 172.04,66.64 173.11,66.47 174.19,66.33 175.26,66.20 176.33,66.09 177.41,65.99 178.48,65.89 179.55,65.78 180.62,65.66 181.70,65.52 182.77,65.35 183.84,65.15 184.92,64.91 185.99,64.62 186.06,64.59 187.06,64.06 188.14,63.14 189.21,62.16 190.28,61.43 190.84,61.26 191.36,61.18 192.43,61.04 193.50,60.91 194.57,60.80 195.65,60.71 196.72,60.63 197.79,60.56 198.87,60.50 199.94,60.45 201.01,60.40 202.09,60.35 203.16,60.30 204.23,60.25 205.30,60.19 206.38,60.12 206.76,60.10 207.45,60.05 208.52,59.99 209.60,59.94 210.67,59.89 211.74,59.84 212.82,59.79 213.89,59.72 214.96,59.65 216.03,59.56 217.11,59.45 217.50,59.40 218.18,59.31 219.25,59.05 219.94,58.71 220.33,57.18 220.81,52.00 221.20,36.62 221.40,10.73 M221.80,10.73 221.65,44.47 221.41,58.16 220.82,64.42 220.79,64.46 219.77,65.06 218.87,65.25 218.76,65.27 217.75,65.42 216.73,65.54 215.72,65.65 214.71,65.73 213.69,65.80 212.68,65.87 211.67,65.92 210.65,65.98 209.64,66.04 208.62,66.12 207.61,66.20 207.16,66.24 206.60,66.29 205.58,66.39 204.57,66.47 203.56,66.56 202.54,66.64 201.53,66.74 200.52,66.83 199.50,66.94 198.49,67.07 197.48,67.21 196.46,67.36 195.45,67.55 194.74,67.69 194.44,67.77 193.42,68.23 192.41,68.89 191.40,69.60 190.38,70.22 189.37,70.61 189.33,70.61 188.36,70.79 187.34,70.94 186.33,71.06 185.31,71.16 184.30,71.23 183.29,71.29 182.27,71.34 181.26,71.39 180.25,71.43 179.23,71.49 178.22,71.55 177.21,71.63 176.19,71.73 175.18,71.86 174.17,72.02 173.15,72.21 172.19,72.44 172.14,72.45 171.13,73.78 170.64,74.29 170.11,74.52 169.10,74.88 168.09,75.16 167.07,75.38 166.06,75.56 165.04,75.71 164.03,75.86 163.02,76.03 162.00,76.23 160.99,76.49 160.88,76.52 159.98,76.81 158.96,77.16 157.95,77.54 156.94,77.96 155.92,78.40 154.91,78.88 154.54,79.06 153.90,79.38 152.88,79.94 151.87,80.56 150.86,81.21 149.84,81.88 149.66,82.01 148.83,82.59 147.82,83.35 146.80,84.14 146.73,84.20 145.79,84.95 144.78,85.84 144.78,85.85 143.76,86.87 142.75,88.07 142.58,88.29 141.73,89.51 140.72,91.36 140.38,92.13 139.71,94.07 138.69,98.18 138.19,100.77 137.68,104.29 136.67,113.75 136.48,115.53 135.65,123.64 134.64,134.35 134.53,135.57 133.63,144.61 133.06,152.44 132.61,163.42 131.60,204.73 M131.60,204.73 132.66,147.00 132.82,143.16 133.73,131.91 134.19,127.45 134.79,120.68 135.85,109.23 135.99,107.84 136.91,98.32 137.60,93.39 137.98,92.00 139.04,89.23 139.90,87.60 140.10,87.22 141.17,85.54 142.09,84.33 142.23,84.16 143.29,82.97 144.29,82.01 144.36,81.95 145.42,81.04 146.24,80.40 146.48,80.23 147.54,79.49 148.61,78.81 149.17,78.46 149.67,78.16 150.73,77.53 151.80,76.92 152.86,76.35 153.92,75.83 154.05,75.77 154.98,75.33 156.05,74.86 157.11,74.41 158.17,73.99 159.24,73.59 160.30,73.23 160.88,73.05 161.36,72.90 162.42,72.64 163.49,72.41 164.55,72.21 165.61,72.02 166.68,71.82 167.74,71.59 168.80,71.31 169.87,70.97 170.64,70.66 170.93,70.51 171.99,69.50 173.05,68.28 174.12,67.47 174.17,67.45 175.18,67.14 176.24,66.88 177.31,66.66 178.37,66.48 179.43,66.33 180.49,66.21 181.56,66.10 182.62,66.01 183.68,65.91 184.75,65.81 185.81,65.70 186.87,65.57 187.93,65.41 189.00,65.21 190.06,64.97 191.12,64.69 191.20,64.66 192.19,64.13 193.25,63.21 194.31,62.23 195.38,61.51 195.93,61.33 196.44,61.26 197.50,61.11 198.56,60.99 199.63,60.88 200.69,60.78 201.75,60.71 202.82,60.64 203.88,60.57 204.94,60.52 206.00,60.47 207.07,60.42 208.13,60.37 209.19,60.32 210.26,60.26 211.32,60.19 211.56,60.17 212.38,60.12 213.44,60.06 214.51,60.01 215.57,59.96 216.63,59.91 217.70,59.86 218.76,59.79 219.82,59.72 220.89,59.63 221.95,59.52 222.30,59.48 223.01,59.39 224.07,59.12 224.74,58.78 225.14,57.18 225.61,52.08 226.00,36.68 226.20,10.73 M226.60,10.73 226.45,44.47 226.21,58.18 225.62,64.45 225.59,64.47 224.59,65.07 223.67,65.27 223.58,65.28 222.58,65.43 221.57,65.56 220.57,65.66 219.56,65.75 218.56,65.82 217.55,65.88 216.54,65.94 215.54,65.99 214.53,66.05 213.53,66.12 212.52,66.21 211.96,66.26 211.52,66.30 210.51,66.39 209.50,66.48 208.50,66.57 207.49,66.66 206.49,66.75 205.48,66.85 204.48,66.96 203.47,67.09 202.47,67.23 201.46,67.39 200.45,67.57 199.75,67.71 199.45,67.80 198.44,68.26 197.44,68.92 196.43,69.63 195.43,70.25 194.42,70.64 194.38,70.65 193.41,70.83 192.41,70.97 191.40,71.09 190.40,71.18 189.39,71.25 188.39,71.31 187.38,71.36 186.38,71.40 185.37,71.44 184.36,71.49 183.36,71.55 182.35,71.63 181.35,71.74 180.34,71.87 179.34,72.04 178.33,72.24 177.38,72.48 177.32,72.51 176.32,74.51 176.14,74.69 175.31,75.03 174.31,75.36 173.30,75.60 172.30,75.78 171.29,75.92 170.29,76.04 169.28,76.16 168.27,76.30 167.27,76.48 166.38,76.69 166.26,76.73 165.26,77.02 164.25,77.34 163.25,77.70 162.24,78.09 161.23,78.51 160.23,78.97 160.04,79.06 159.22,79.46 158.22,80.03 157.21,80.66 156.21,81.33 155.20,82.02 155.16,82.05 154.20,82.74 153.19,83.53 152.23,84.33 152.18,84.36 151.18,85.24 150.28,86.12 150.17,86.23 149.17,87.37 148.16,88.74 148.08,88.86 147.16,90.38 146.15,92.50 145.88,93.18 145.14,95.53 144.14,99.93 143.69,102.36 143.13,106.28 142.13,115.53 141.98,116.91 141.12,125.10 140.12,135.46 140.03,136.41 139.11,145.62 138.56,153.28 138.11,164.38 137.10,204.73 M137.10,204.73 138.15,148.11 138.32,144.00 139.21,133.01 139.69,128.40 140.26,122.01 141.31,110.76 141.49,109.00 142.36,100.36 143.10,95.08 143.42,93.82 144.47,90.73 145.40,88.75 145.52,88.50 146.58,86.62 147.59,85.13 147.63,85.08 148.68,83.77 149.73,82.65 149.79,82.60 150.79,81.68 151.74,80.91 151.84,80.83 152.89,80.06 153.94,79.35 154.67,78.89 155.00,78.68 156.05,78.05 157.10,77.44 158.16,76.87 159.21,76.35 159.55,76.19 160.26,75.87 161.31,75.41 162.37,74.98 163.42,74.57 164.47,74.19 165.53,73.83 166.38,73.57 166.58,73.52 167.63,73.25 168.68,73.04 169.74,72.86 170.79,72.69 171.84,72.52 172.90,72.31 173.95,72.06 175.00,71.74 176.05,71.33 176.14,71.30 177.11,70.30 178.16,68.65 179.21,67.53 179.27,67.51 180.27,67.19 181.32,66.91 182.37,66.68 183.42,66.49 184.48,66.34 185.53,66.22 186.58,66.12 187.63,66.03 188.69,65.94 189.74,65.85 190.79,65.74 191.85,65.62 192.90,65.47 193.95,65.28 195.00,65.04 196.06,64.76 196.13,64.74 197.11,64.20 198.16,63.28 199.22,62.31 200.27,61.59 200.82,61.41 201.32,61.33 202.37,61.19 203.43,61.06 204.48,60.95 205.53,60.86 206.59,60.78 207.64,60.71 208.69,60.65 209.74,60.59 210.80,60.54 211.85,60.49 212.90,60.44 213.96,60.39 215.01,60.33 216.06,60.26 216.16,60.25 217.11,60.19 218.17,60.13 219.22,60.08 220.27,60.03 221.32,59.98 222.38,59.93 223.43,59.87 224.48,59.79 225.54,59.70 226.59,59.59 226.90,59.55 227.64,59.46 228.69,59.19 229.34,58.86 229.75,57.18 230.21,52.16 230.60,36.74 230.80,10.73 M231.20,10.73 231.05,44.47 230.81,58.20 230.22,64.47 230.20,64.49 229.21,65.09 228.27,65.29 228.21,65.30 227.21,65.45 226.22,65.57 225.22,65.67 224.22,65.76 223.23,65.83 222.23,65.89 221.23,65.95 220.24,66.00 219.24,66.06 218.24,66.13 217.25,66.21 216.56,66.28 216.25,66.31 215.25,66.40 214.26,66.49 213.26,66.58 212.26,66.67 211.27,66.76 210.27,66.86 209.27,66.98 208.28,67.10 207.28,67.25 206.28,67.41 205.29,67.60 204.59,67.74 204.29,67.82 203.29,68.29 202.30,68.95 201.30,69.67 200.30,70.29 199.31,70.67 199.27,70.68 198.31,70.86 197.31,71.01 196.32,71.12 195.32,71.21 194.32,71.28 193.33,71.33 192.33,71.37 191.33,71.40 190.34,71.44 189.34,71.49 188.34,71.55 187.35,71.64 186.35,71.74 185.36,71.88 184.36,72.06 183.36,72.28 182.42,72.53 182.37,72.57 181.54,75.09 181.37,75.17 180.37,75.54 179.38,75.82 178.38,76.01 177.38,76.15 176.39,76.26 175.39,76.35 174.39,76.44 173.40,76.56 172.40,76.73 171.78,76.86 171.40,76.96 170.41,77.23 169.41,77.53 168.41,77.86 167.42,78.23 166.42,78.63 165.44,79.06 165.42,79.06 164.43,79.56 163.43,80.14 162.43,80.78 161.44,81.47 160.56,82.09 160.44,82.17 159.44,82.92 158.45,83.74 157.63,84.45 157.45,84.61 156.45,85.56 155.68,86.39 155.46,86.65 154.46,87.93 153.48,89.43 153.46,89.46 152.47,91.32 151.47,93.71 151.28,94.24 150.47,97.07 149.48,101.76 149.09,103.94 148.48,108.32 147.48,117.34 147.38,118.28 146.49,126.58 145.49,136.60 145.43,137.25 144.49,146.67 143.96,154.12 143.50,165.37 142.50,204.73 M142.50,204.73 143.54,149.21 143.72,144.84 144.59,134.11 145.09,129.35 145.63,123.34 146.67,112.28 146.89,110.16 147.71,102.35 148.50,96.77 148.76,95.68 149.80,92.28 150.80,89.91 150.84,89.81 151.88,87.73 152.93,86.03 152.99,85.93 153.97,84.59 155.01,83.37 155.19,83.19 156.06,82.34 157.10,81.45 157.14,81.42 158.14,80.64 159.18,79.89 160.07,79.31 160.23,79.21 161.27,78.57 162.31,77.96 163.35,77.39 164.40,76.86 164.95,76.61 165.44,76.39 166.48,75.95 167.52,75.53 168.57,75.14 169.61,74.77 170.65,74.43 171.70,74.12 171.78,74.10 172.74,73.86 173.78,73.66 174.82,73.49 175.87,73.34 176.91,73.19 177.95,73.01 178.99,72.79 180.04,72.50 181.08,72.13 181.54,71.93 182.12,71.29 183.17,69.15 184.21,67.60 184.26,67.58 185.25,67.24 186.29,66.94 187.34,66.71 188.38,66.52 189.42,66.36 190.46,66.24 191.51,66.14 192.55,66.06 193.59,65.97 194.63,65.89 195.68,65.79 196.72,65.67 197.76,65.53 198.81,65.34 199.85,65.11 200.89,64.83 200.96,64.81 201.93,64.28 202.98,63.36 204.02,62.39 205.06,61.66 205.60,61.49 206.10,61.41 207.15,61.26 208.19,61.13 209.23,61.03 210.28,60.93 211.32,60.85 212.36,60.78 213.40,60.72 214.45,60.67 215.49,60.61 216.53,60.56 217.57,60.51 218.62,60.46 219.66,60.40 220.66,60.33 220.70,60.33 221.74,60.26 222.79,60.20 223.83,60.15 224.87,60.11 225.92,60.06 226.96,60.00 228.00,59.94 229.04,59.86 230.09,59.77 231.13,59.66 231.40,59.63 232.17,59.53 233.21,59.25 233.84,58.93 234.26,57.18 234.71,52.23 235.10,36.80 235.30,10.73 M235.70,10.73 235.55,44.47 235.31,58.22 234.72,64.49 234.71,64.50 233.72,65.10 232.77,65.31 232.73,65.31 231.74,65.46 230.76,65.59 229.77,65.69 228.78,65.77 227.79,65.84 226.80,65.90 225.81,65.96 224.82,66.02 223.83,66.07 222.85,66.14 221.86,66.22 221.06,66.29 220.87,66.31 219.88,66.41 218.89,66.50 217.90,66.59 216.91,66.68 215.92,66.77 214.94,66.88 213.95,66.99 212.96,67.12 211.97,67.27 210.98,67.43 209.99,67.62 209.30,67.77 209.00,67.85 208.01,68.32 207.03,68.98 206.04,69.70 205.05,70.32 204.06,70.70 204.02,70.71 203.07,70.89 202.08,71.04 201.09,71.15 200.10,71.24 199.12,71.30 198.13,71.35 197.14,71.38 196.15,71.42 195.16,71.45 194.17,71.50 193.18,71.56 192.19,71.64 191.21,71.75 190.22,71.90 189.23,72.08 188.24,72.31 187.30,72.58 187.25,72.65 186.74,75.49 186.26,75.68 185.27,75.99 184.28,76.22 183.30,76.37 182.31,76.48 181.32,76.55 180.33,76.62 179.34,76.69 178.35,76.80 177.36,76.95 176.98,77.03 176.37,77.17 175.39,77.41 174.40,77.69 173.41,78.00 172.42,78.35 171.43,78.73 170.64,79.06 170.44,79.14 169.45,79.64 168.46,80.24 167.48,80.90 166.49,81.60 165.76,82.13 165.50,82.32 164.51,83.10 163.52,83.94 162.83,84.58 162.53,84.86 161.54,85.88 160.88,86.67 160.55,87.08 159.57,88.49 158.68,90.00 158.58,90.19 157.59,92.27 156.60,94.93 156.48,95.29 155.61,98.61 154.62,103.57 154.29,105.52 153.63,110.30 152.64,119.08 152.58,119.65 151.66,128.00 150.67,137.70 150.63,138.10 149.68,147.69 149.16,154.97 148.69,166.31 147.70,204.73 M147.70,204.73 148.73,150.25 148.92,145.69 149.77,135.16 150.29,130.30 150.80,124.59 151.84,113.69 152.09,111.32 152.87,104.21 153.70,98.45 153.91,97.52 154.94,93.83 155.98,91.12 156.00,91.07 157.01,88.83 158.05,86.96 158.19,86.73 159.08,85.40 160.12,84.09 160.39,83.78 161.15,82.99 162.19,82.05 162.34,81.92 163.22,81.20 164.26,80.42 165.27,79.73 165.29,79.71 166.33,79.06 167.36,78.45 168.40,77.88 169.43,77.36 170.15,77.03 170.47,76.89 171.50,76.46 172.54,76.06 173.57,75.68 174.61,75.33 175.64,75.01 176.68,74.71 176.98,74.63 177.71,74.45 178.74,74.25 179.78,74.09 180.81,73.95 181.85,73.81 182.88,73.65 183.92,73.45 184.95,73.20 185.99,72.86 186.74,72.56 187.02,72.33 188.06,70.38 189.09,68.78 189.15,68.76 190.13,68.43 191.16,68.15 192.20,67.93 193.23,67.74 194.27,67.60 195.30,67.48 196.34,67.39 197.37,67.31 198.41,67.24 199.44,67.16 200.48,67.07 201.51,66.96 202.55,66.82 203.58,66.65 204.62,66.43 205.65,66.16 205.72,66.14 206.69,65.62 207.72,64.72 208.76,63.77 209.79,63.06 210.33,62.88 210.82,62.81 211.86,62.66 212.89,62.54 213.93,62.44 214.96,62.35 216.00,62.27 217.03,62.20 218.07,62.14 219.10,62.09 220.14,62.04 221.17,61.99 222.21,61.94 223.24,61.89 224.28,61.82 225.16,61.76 225.31,61.75 226.35,61.69 227.38,61.63 228.42,61.58 229.45,61.53 230.49,61.47 231.52,61.42 232.56,61.35 233.59,61.27 234.63,61.17 235.66,61.06 235.90,61.03 236.70,60.92 237.73,60.62 238.34,60.29 238.77,58.51 239.21,53.67 239.60,37.87 239.80,10.73 M240.20,10.73 240.05,44.47 239.81,58.58 239.22,64.88 239.22,64.89 238.24,65.46 237.27,65.67 237.26,65.67 236.28,65.81 235.30,65.93 234.31,66.02 233.33,66.10 232.35,66.17 231.37,66.23 230.39,66.28 229.41,66.33 228.43,66.39 227.45,66.45 226.47,66.53 225.56,66.62 225.49,66.62 224.51,66.72 223.52,66.82 222.54,66.92 221.56,67.03 220.58,67.14 219.60,67.26 218.62,67.39 217.64,67.54 216.66,67.71 215.68,67.90 214.70,68.11 214.01,68.27 213.72,68.36 212.73,68.85 211.75,69.53 210.77,70.26 209.79,70.90 208.81,71.31 208.77,71.32 207.83,71.52 206.85,71.68 205.87,71.81 204.89,71.90 203.91,71.96 202.93,72.01 201.94,72.05 200.96,72.09 199.98,72.13 199.00,72.18 198.02,72.25 197.04,72.34 196.06,72.47 195.08,72.64 194.10,72.85 193.12,73.12 192.19,73.44 192.14,73.70 191.94,75.89 191.16,76.16 190.17,76.41 189.19,76.58 188.21,76.70 187.23,76.77 186.25,76.82 185.27,76.87 184.29,76.93 183.31,77.03 182.33,77.17 182.18,77.20 181.35,77.37 180.37,77.59 179.38,77.85 178.40,78.13 177.42,78.46 176.44,78.82 175.84,79.06 175.46,79.22 174.48,79.73 173.50,80.34 172.52,81.02 171.54,81.74 170.96,82.18 170.56,82.48 169.58,83.28 168.59,84.16 168.03,84.71 167.61,85.13 166.63,86.23 166.08,86.94 165.65,87.53 164.67,89.08 163.88,90.57 163.69,90.96 162.71,93.26 161.73,96.20 161.68,96.35 160.75,100.19 159.77,105.42 159.49,107.10 158.79,112.27 157.80,120.81 157.78,121.02 156.82,129.40 155.84,138.79 155.83,138.94 154.86,148.72 154.36,155.81 153.88,167.25 152.90,204.73 M152.90,204.73 153.92,151.38 154.12,146.53 154.95,136.28 155.49,131.24 155.97,125.95 156.99,115.22 157.29,112.48 158.02,106.16 158.90,100.14 159.04,99.48 160.07,95.50 161.09,92.52 161.20,92.23 162.11,90.02 163.14,87.98 163.39,87.53 164.16,86.29 165.18,84.86 165.59,84.37 166.21,83.69 167.23,82.70 167.54,82.43 168.25,81.82 169.28,81.00 170.30,80.26 170.47,80.15 171.32,79.60 172.35,78.98 173.37,78.41 174.40,77.88 175.35,77.45 175.42,77.42 176.44,77.00 177.47,76.61 178.49,76.25 179.51,75.92 180.54,75.60 181.56,75.32 182.18,75.15 182.58,75.06 183.61,74.85 184.63,74.69 185.66,74.56 186.68,74.44 187.70,74.30 188.73,74.14 189.75,73.92 190.77,73.63 191.80,73.25 191.94,73.19 192.82,71.77 193.84,69.96 193.89,69.94 194.87,69.63 195.89,69.35 196.91,69.14 197.94,68.96 198.96,68.83 199.99,68.72 201.01,68.63 202.03,68.56 203.06,68.49 204.08,68.42 205.10,68.34 206.13,68.24 207.15,68.11 208.17,67.95 209.20,67.74 210.22,67.48 210.29,67.46 211.24,66.96 212.27,66.08 213.29,65.15 214.32,64.45 214.85,64.28 215.34,64.21 216.36,64.07 217.39,63.95 218.41,63.85 219.43,63.76 220.46,63.69 221.48,63.62 222.50,63.57 223.53,63.52 224.55,63.47 225.58,63.42 226.60,63.37 227.62,63.31 228.65,63.25 229.36,63.20 229.67,63.18 230.69,63.11 231.72,63.05 232.74,63.00 233.76,62.95 234.79,62.89 235.81,62.83 236.83,62.76 237.86,62.67 238.88,62.57 239.91,62.45 240.10,62.43 240.93,62.30 241.95,61.99 242.54,61.65 242.98,59.81 243.41,55.10 243.80,38.95 244.00,10.73 M244.40,10.73 244.25,44.47 244.01,58.94 243.42,65.28 243.42,65.28 242.45,65.83 241.47,66.02 241.47,66.02 240.50,66.16 239.52,66.27 238.55,66.36 237.57,66.44 236.60,66.50 235.62,66.55 234.65,66.60 233.67,66.65 232.70,66.71 231.72,66.77 230.75,66.84 229.77,66.94 229.76,66.94 228.80,67.04 227.82,67.15 226.84,67.26 225.87,67.37 224.89,67.50 223.92,67.64 222.94,67.79 221.97,67.96 220.99,68.15 220.02,68.36 219.04,68.59 218.36,68.77 218.07,68.87 217.09,69.38 216.12,70.08 215.14,70.83 214.17,71.49 213.19,71.92 213.15,71.93 212.22,72.15 211.24,72.32 210.27,72.46 209.29,72.55 208.31,72.62 207.34,72.67 206.36,72.71 205.39,72.75 204.41,72.79 203.44,72.85 202.46,72.92 201.49,73.03 200.51,73.18 199.54,73.37 198.56,73.62 197.59,73.94 196.66,74.30 196.64,76.29 196.61,76.30 195.64,76.58 194.66,76.77 193.69,76.90 192.71,76.99 191.73,77.04 190.76,77.07 189.78,77.11 188.81,77.16 187.83,77.24 186.88,77.37 186.86,77.37 185.88,77.54 184.91,77.74 183.93,77.98 182.96,78.24 181.98,78.54 181.01,78.88 180.54,79.06 180.03,79.27 179.06,79.79 178.08,80.42 177.11,81.12 176.13,81.86 175.66,82.22 175.16,82.61 174.18,83.43 173.20,84.35 172.73,84.83 172.23,85.37 171.25,86.56 170.78,87.22 170.28,87.97 169.30,89.66 168.58,91.14 168.33,91.71 167.35,94.23 166.38,97.40 166.38,97.42 165.40,101.72 164.43,107.20 164.19,108.68 163.45,114.11 162.48,122.39 162.48,122.42 161.50,130.70 160.53,139.78 160.53,139.81 159.55,149.69 159.06,156.65 158.58,168.12 157.60,204.73 M157.60,204.73 158.62,152.35 158.82,147.38 159.64,137.29 160.19,132.19 160.65,127.12 161.67,116.53 161.99,113.64 162.69,107.85 163.60,101.83 163.71,101.31 164.73,97.07 165.74,93.83 165.90,93.39 166.76,91.14 167.78,88.93 168.09,88.33 168.80,87.10 169.82,85.57 170.29,84.96 170.83,84.32 171.85,83.30 172.24,82.93 172.87,82.37 173.89,81.52 174.91,80.75 175.17,80.57 175.92,80.08 176.94,79.45 177.96,78.88 178.98,78.35 180.00,77.90 180.05,77.87 181.01,77.49 182.03,77.11 183.05,76.77 184.07,76.45 185.09,76.15 186.10,75.88 186.88,75.68 187.12,75.62 188.14,75.42 189.16,75.27 190.18,75.14 191.19,75.03 192.21,74.91 193.23,74.76 194.25,74.56 195.27,74.31 196.28,73.97 196.64,73.83 197.30,72.89 198.32,71.15 198.37,71.12 199.34,70.83 200.36,70.57 201.37,70.36 202.39,70.20 203.41,70.07 204.43,69.97 205.44,69.89 206.46,69.82 207.48,69.76 208.50,69.69 209.52,69.62 210.53,69.52 211.55,69.40 212.57,69.25 213.59,69.05 214.61,68.81 214.68,68.79 215.62,68.30 216.64,67.44 217.66,66.53 218.68,65.85 219.21,65.68 219.70,65.61 220.71,65.47 221.73,65.36 222.75,65.26 223.77,65.18 224.79,65.11 225.80,65.04 226.82,64.99 227.84,64.94 228.86,64.89 229.88,64.85 230.89,64.80 231.91,64.74 232.93,64.68 233.56,64.63 233.95,64.60 234.97,64.54 235.98,64.48 237.00,64.42 238.02,64.37 239.04,64.31 240.06,64.25 241.07,64.17 242.09,64.08 243.11,63.98 244.13,63.85 244.30,63.82 245.15,63.69 246.16,63.36 246.74,63.02 247.18,61.16 247.61,56.53 248.00,40.02 248.20,10.73 M248.60,10.73 248.45,44.47 248.21,59.30 247.63,65.67 247.62,65.67 246.66,66.19 245.69,66.38 245.67,66.38 244.72,66.51 243.75,66.62 242.78,66.70 241.80,66.77 240.83,66.83 239.86,66.88 238.89,66.93 237.92,66.97 236.95,67.03 235.98,67.09 235.01,67.16 234.04,67.25 233.96,67.26 233.07,67.36 232.10,67.47 231.13,67.59 230.16,67.72 229.18,67.86 228.21,68.01 227.24,68.19 226.27,68.38 225.30,68.59 224.33,68.82 223.36,69.08 222.68,69.28 222.39,69.38 221.42,69.91 220.45,70.63 219.48,71.40 218.51,72.08 217.53,72.53 217.50,72.54 216.56,72.78 215.59,72.97 214.62,73.11 213.65,73.22 212.68,73.29 211.71,73.35 210.74,73.39 209.77,73.44 208.80,73.49 207.83,73.55 206.86,73.65 205.89,73.78 204.91,73.95 203.94,74.18 202.97,74.47 202.00,74.83 201.26,75.16 201.24,76.69 201.03,76.75 200.06,76.95 199.09,77.09 198.12,77.18 197.15,77.24 196.18,77.28 195.21,77.30 194.24,77.33 193.27,77.37 192.29,77.45 191.48,77.54 191.32,77.56 190.35,77.70 189.38,77.88 188.41,78.09 187.44,78.34 186.47,78.61 185.50,78.93 185.14,79.06 184.53,79.31 183.56,79.83 182.59,80.48 181.62,81.20 180.64,81.96 180.26,82.26 179.67,82.73 178.70,83.58 177.73,84.53 177.33,84.96 176.76,85.61 175.79,86.87 175.38,87.49 174.82,88.39 173.85,90.22 173.18,91.71 172.88,92.44 171.91,95.20 170.98,98.45 170.94,98.64 169.97,103.23 169.00,108.94 168.79,110.26 168.02,115.89 167.08,123.76 167.05,123.97 166.08,131.95 165.13,140.63 165.11,140.78 164.14,150.64 163.66,157.50 163.17,168.95 162.20,204.73 M162.20,204.73 163.21,152.55 163.42,147.38 164.22,137.41 164.79,132.19 165.23,127.34 166.24,116.79 166.59,113.64 167.26,108.12 168.20,101.83 168.27,101.51 169.28,97.24 170.29,93.98 170.50,93.39 171.30,91.28 172.31,89.06 172.69,88.33 173.32,87.23 174.33,85.68 174.89,84.96 175.35,84.42 176.36,83.38 176.84,82.93 177.37,82.46 178.38,81.60 179.39,80.83 179.77,80.57 180.40,80.16 181.41,79.53 182.42,78.95 183.44,78.42 184.45,77.96 184.65,77.87 185.46,77.55 186.47,77.17 187.48,76.82 188.49,76.50 189.50,76.20 190.51,75.92 191.48,75.68 191.53,75.67 192.54,75.46 193.55,75.29 194.56,75.15 195.57,75.03 196.58,74.90 197.59,74.76 198.60,74.58 199.62,74.35 200.63,74.05 201.24,73.83 201.64,73.49 202.65,72.33 202.70,72.31 203.66,72.04 204.67,71.81 205.68,71.62 206.69,71.47 207.71,71.36 208.72,71.26 209.73,71.19 210.74,71.12 211.75,71.06 212.76,70.99 213.77,70.91 214.78,70.82 215.80,70.70 216.81,70.55 217.82,70.36 218.83,70.13 218.90,70.11 219.84,69.64 220.85,68.81 221.86,67.91 222.87,67.24 223.40,67.08 223.89,67.01 224.90,66.88 225.91,66.77 226.92,66.67 227.93,66.59 228.94,66.52 229.95,66.47 230.96,66.41 231.98,66.37 232.99,66.32 234.00,66.27 235.01,66.22 236.02,66.17 237.03,66.10 237.56,66.07 238.04,66.03 239.05,65.96 240.07,65.91 241.08,65.85 242.09,65.79 243.10,65.73 244.11,65.66 245.12,65.58 246.13,65.49 247.14,65.38 248.16,65.24 248.30,65.22 249.17,65.08 250.18,64.73 250.74,64.38 251.19,62.50 251.61,57.97 252.00,41.10 252.20,10.73 M252.60,10.73 252.45,44.47 252.21,59.66 251.63,66.05 251.62,66.07 250.67,66.56 249.70,66.74 249.67,66.74 248.74,66.86 247.77,66.96 246.81,67.04 245.84,67.11 244.88,67.16 243.91,67.21 242.95,67.25 241.98,67.30 241.02,67.35 240.05,67.41 239.09,67.48 238.12,67.57 237.96,67.58 237.16,67.67 236.19,67.79 235.23,67.92 234.26,68.06 233.30,68.21 232.33,68.39 231.37,68.58 230.40,68.79 229.44,69.03 228.47,69.28 227.51,69.56 226.83,69.78 226.54,69.89 225.58,70.44 224.61,71.18 223.64,71.97 222.68,72.66 221.71,73.14 221.68,73.15 220.75,73.41 219.78,73.62 218.82,73.77 217.85,73.89 216.89,73.97 215.92,74.03 214.96,74.08 213.99,74.13 213.03,74.19 212.06,74.27 211.10,74.38 210.13,74.54 209.17,74.74 208.20,75.00 207.24,75.34 206.27,75.76 205.76,76.02 205.74,76.69 205.31,76.80 204.34,76.98 203.38,77.11 202.41,77.19 201.45,77.25 200.48,77.28 199.52,77.31 198.55,77.34 197.59,77.39 196.62,77.46 195.98,77.54 195.66,77.58 194.69,77.73 193.72,77.91 192.76,78.13 191.79,78.37 190.83,78.66 189.86,78.97 189.64,79.06 188.90,79.37 187.93,79.91 186.97,80.56 186.00,81.29 185.04,82.04 184.76,82.26 184.07,82.81 183.11,83.67 182.14,84.62 181.83,84.96 181.18,85.71 180.21,86.99 179.88,87.49 179.25,88.52 178.28,90.36 177.68,91.71 177.32,92.60 176.35,95.38 175.48,98.45 175.39,98.84 174.42,103.47 173.46,109.19 173.29,110.26 172.49,116.16 171.58,123.76 171.53,124.20 170.56,132.14 169.63,140.63 169.60,140.95 168.63,150.78 168.16,157.50 167.67,169.12 166.70,204.73 M166.70,204.73 167.70,152.80 167.92,147.38 168.71,137.55 169.29,132.19 169.71,127.60 170.71,117.09 171.09,113.64 171.72,108.43 172.70,101.83 172.72,101.74 173.72,97.44 174.73,94.17 175.00,93.39 175.73,91.46 176.73,89.22 177.19,88.33 177.74,87.37 178.74,85.82 179.39,84.96 179.74,84.54 180.75,83.49 181.34,82.93 181.75,82.56 182.75,81.70 183.76,80.93 184.27,80.57 184.76,80.25 185.76,79.62 186.77,79.04 187.77,78.50 188.77,78.03 189.15,77.87 189.78,77.62 190.78,77.24 191.78,76.89 192.79,76.56 193.79,76.26 194.79,75.98 195.80,75.73 195.98,75.68 196.80,75.50 197.80,75.33 198.81,75.20 199.81,75.08 200.81,74.97 201.82,74.84 202.82,74.67 203.82,74.45 204.83,74.16 205.74,73.83 205.83,73.77 206.83,72.33 206.88,72.31 207.84,72.03 208.84,71.78 209.84,71.59 210.85,71.44 211.85,71.32 212.86,71.22 213.86,71.15 214.86,71.09 215.87,71.03 216.87,70.97 217.87,70.90 218.88,70.81 219.88,70.69 220.88,70.55 221.89,70.36 222.89,70.13 222.96,70.11 223.89,69.64 224.90,68.81 225.90,67.91 226.90,67.24 227.42,67.08 227.91,67.01 228.91,66.88 229.91,66.76 230.92,66.67 231.92,66.59 232.92,66.52 233.93,66.46 234.93,66.41 235.93,66.36 236.94,66.32 237.94,66.27 238.94,66.22 239.95,66.16 240.95,66.10 241.36,66.07 241.95,66.02 242.96,65.96 243.96,65.90 244.96,65.84 245.97,65.79 246.97,65.73 247.97,65.66 248.98,65.58 249.98,65.48 250.98,65.37 251.99,65.24 252.10,65.22 252.99,65.07 253.99,64.72 254.54,64.38 255.00,62.44 255.41,57.97 255.80,41.10 256.00,10.73 M256.40,10.73 256.25,44.47 256.01,59.66 255.44,66.05 255.42,66.07 254.48,66.56 253.52,66.73 253.47,66.74 252.56,66.86 251.60,66.96 250.64,67.04 249.68,67.10 248.72,67.16 247.76,67.21 246.80,67.25 245.84,67.29 244.89,67.34 243.93,67.40 242.97,67.47 242.01,67.56 241.76,67.58 241.05,67.66 240.09,67.78 239.13,67.91 238.17,68.05 237.21,68.21 236.25,68.38 235.29,68.57 234.33,68.79 233.37,69.02 232.41,69.28 231.45,69.56 230.78,69.78 230.49,69.89 229.53,70.44 228.57,71.18 227.61,71.96 226.65,72.66 225.69,73.14 225.66,73.15 224.73,73.41 223.78,73.62 222.82,73.78 221.86,73.89 220.90,73.97 219.94,74.03 218.98,74.08 218.02,74.13 217.06,74.20 216.10,74.28 215.14,74.40 214.18,74.57 213.22,74.78 212.26,75.07 211.30,75.43 210.34,75.87 210.06,76.02 210.04,76.69 209.38,76.85 208.42,77.02 207.46,77.13 206.50,77.21 205.54,77.25 204.58,77.29 203.62,77.31 202.67,77.34 201.71,77.40 200.75,77.48 200.28,77.54 199.79,77.61 198.83,77.76 197.87,77.95 196.91,78.16 195.95,78.41 194.99,78.70 194.03,79.02 193.94,79.06 193.07,79.43 192.11,79.99 191.15,80.65 190.19,81.37 189.23,82.12 189.06,82.26 188.27,82.90 187.31,83.76 186.35,84.72 186.13,84.96 185.39,85.81 184.43,87.10 184.18,87.49 183.47,88.65 182.51,90.51 181.98,91.71 181.56,92.76 180.60,95.56 179.78,98.45 179.64,99.05 178.68,103.71 177.72,109.44 177.59,110.26 176.76,116.44 175.88,123.76 175.80,124.44 174.84,132.33 173.93,140.63 173.88,141.11 172.92,150.92 172.46,157.50 171.96,169.28 171.00,204.73 M171.00,204.73 172.00,152.91 172.22,147.38 173.00,137.61 173.59,132.19 174.00,127.71 175.00,117.22 175.39,113.64 176.00,108.56 177.00,101.84 177.00,101.83 178.00,97.53 179.00,94.25 179.30,93.39 180.00,91.53 181.00,89.29 181.49,88.33 182.00,87.43 183.00,85.87 183.69,84.96 184.00,84.59 185.00,83.54 185.64,82.93 186.00,82.61 187.00,81.75 188.00,80.97 188.57,80.57 189.00,80.29 190.00,79.66 191.00,79.07 192.00,78.54 193.00,78.07 193.45,77.87 194.00,77.65 195.00,77.27 196.00,76.92 197.00,76.59 198.00,76.29 199.00,76.01 200.00,75.75 200.28,75.68 201.00,75.52 202.00,75.35 203.00,75.22 204.00,75.11 205.00,75.00 206.00,74.87 207.00,74.71 208.00,74.50 209.00,74.21 210.00,73.84 210.04,73.83 211.00,72.33 211.05,72.31 212.00,72.02 213.00,71.77 214.00,71.57 215.00,71.42 216.00,71.30 217.00,71.21 218.00,71.13 219.00,71.07 220.00,71.01 221.00,70.96 222.00,70.89 223.00,70.80 224.00,70.69 225.00,70.55 226.00,70.36 227.00,70.13 227.07,70.11 228.00,69.64 229.00,68.81 230.00,67.91 231.00,67.24 231.52,67.08 232.00,67.01 233.00,66.88 234.00,66.76 235.00,66.67 236.00,66.59 237.00,66.52 238.00,66.46 239.00,66.41 240.00,66.36 241.00,66.31 242.00,66.27 243.00,66.22 244.00,66.16 245.00,66.09 245.36,66.07 246.00,66.02 247.00,65.95 248.00,65.90 249.00,65.84 250.00,65.78 251.00,65.72 252.00,65.65 253.00,65.58 254.00,65.48 255.00,65.37 256.00,65.24 256.10,65.22 257.00,65.07 258.00,64.72 258.54,64.38 259.00,62.41 259.41,57.97 259.80,41.10 260.00,10.73" stroke="#222222" stroke-width="1.2"/><path d="M65.80,204.73 67.02,165.93 67.04,165.38 68.28,135.82 68.39,133.88 69.52,116.21 70.19,108.58 70.76,103.67 71.80,96.77 72.00,95.61 73.24,89.17 74.10,85.80 74.48,84.51 75.72,80.97 76.29,80.24 76.96,79.96 78.20,79.66 78.49,79.56 79.44,79.10 80.44,78.55 80.69,78.42 81.93,77.73 83.17,76.99 83.37,76.86 84.41,76.12 85.65,75.11 86.89,74.11 88.13,73.22 88.25,73.15 89.37,72.49 90.61,71.79 91.85,71.15 93.09,70.57 94.33,70.05 95.08,69.78 95.57,69.61 96.81,69.20 98.05,68.82 99.29,68.46 100.53,68.13 101.77,67.84 103.01,67.57 104.25,67.34 104.84,67.25 105.49,67.15 106.73,66.97 107.98,66.80 109.22,66.65 110.46,66.51 111.70,66.39 112.94,66.27 114.18,66.17 115.42,66.07 115.48,66.07 116.66,65.99 117.90,65.92 119.14,65.86 120.38,65.81 121.62,65.77 122.86,65.73 124.10,65.70 125.34,65.66 126.58,65.62 127.82,65.58 129.06,65.53 130.30,65.46 131.54,65.39 132.78,65.30 134.02,65.19 135.27,65.06 135.35,65.05 136.51,64.59 137.75,63.60 138.99,62.46 140.23,61.58 140.87,61.34 141.47,61.23 142.71,61.00 143.95,60.81 145.19,60.63 146.43,60.47 147.67,60.33 148.91,60.21 150.15,60.09 151.39,59.99 152.63,59.90 153.87,59.82 155.11,59.74 156.35,59.66 157.59,59.58 158.83,59.51 160.07,59.42 161.31,59.34 161.56,59.32 162.56,59.25 163.80,59.18 165.04,59.12 166.28,59.07 167.52,59.01 168.76,58.94 170.00,58.86 171.24,58.76 172.30,58.64 172.48,58.62 173.72,58.41 174.74,57.97 174.96,57.40 175.61,51.22 176.00,36.04 176.20,10.73 M176.20,10.73 176.05,42.79 175.81,57.97 175.22,64.38 175.00,64.55 173.79,64.99 173.27,65.05 172.59,65.11 171.38,65.20 170.18,65.27 168.97,65.32 167.77,65.36 166.56,65.39 165.36,65.42 164.16,65.46 162.95,65.50 161.75,65.55 161.56,65.56 160.54,65.61 159.34,65.67 158.13,65.72 156.93,65.77 155.72,65.82 154.52,65.87 153.31,65.93 152.11,66.00 150.91,66.07 149.70,66.15 148.50,66.25 147.29,66.36 146.09,66.48 144.88,66.63 144.04,66.74 143.68,66.82 142.47,67.42 141.27,68.37 140.07,69.40 138.86,70.29 137.66,70.78 137.61,70.79 136.45,70.96 135.25,71.10 134.04,71.23 132.84,71.34 131.63,71.43 130.43,71.50 129.22,71.57 128.02,71.63 126.82,71.68 125.61,71.74 124.41,71.79 123.20,71.85 122.00,71.92 120.79,71.99 119.59,72.08 118.38,72.19 117.24,72.31 117.18,72.31 115.98,72.46 114.77,72.64 113.57,72.84 112.36,73.06 111.16,73.30 109.95,73.56 108.75,73.83 108.04,73.99 107.54,74.11 106.34,74.43 105.13,74.77 103.93,75.15 102.73,75.55 101.52,75.97 100.32,76.41 99.11,76.87 98.28,77.20 97.91,77.35 96.70,77.87 95.50,78.43 94.29,79.03 93.09,79.64 91.94,80.24 91.89,80.26 90.68,80.87 89.48,81.49 88.27,82.16 87.07,82.93 87.06,82.93 85.86,83.94 84.66,85.05 84.13,85.47 83.45,85.89 82.25,86.60 82.18,86.65 81.04,87.47 79.98,88.33 79.84,88.45 78.64,89.40 77.78,90.36 77.43,90.95 76.23,94.30 75.59,96.77 75.02,99.63 73.88,108.58 73.82,109.21 72.61,128.97 71.93,142.31 71.41,152.04 70.46,170.99 70.20,176.58 69.00,204.73 M66.50,204.73 67.72,165.93 67.73,165.55 68.97,136.05 69.09,133.88 70.20,116.46 70.89,108.58 71.44,103.87 72.50,96.77 72.67,95.79 73.91,89.34 74.80,85.80 75.14,84.65 76.37,81.07 76.99,80.24 77.61,79.98 78.84,79.68 79.19,79.56 80.08,79.14 81.14,78.55 81.31,78.46 82.55,77.78 83.78,77.05 84.07,76.86 85.01,76.19 86.25,75.20 87.48,74.19 88.72,73.30 88.95,73.15 89.95,72.55 91.19,71.86 92.42,71.21 93.65,70.63 94.89,70.11 95.78,69.78 96.12,69.66 97.36,69.25 98.59,68.87 99.83,68.51 101.06,68.18 102.29,67.88 103.53,67.61 104.76,67.38 105.54,67.25 106.00,67.18 107.23,66.99 108.47,66.82 109.70,66.67 110.93,66.52 112.17,66.39 113.40,66.27 114.64,66.17 115.87,66.07 115.93,66.07 117.11,65.99 118.34,65.92 119.57,65.86 120.81,65.81 122.04,65.77 123.28,65.73 124.51,65.70 125.74,65.66 126.98,65.62 128.21,65.58 129.45,65.53 130.68,65.46 131.92,65.39 133.15,65.30 134.38,65.19 135.62,65.06 135.71,65.05 136.85,64.59 138.09,63.60 139.32,62.46 140.56,61.58 141.20,61.34 141.79,61.23 143.02,61.00 144.26,60.80 145.49,60.63 146.73,60.47 147.96,60.33 149.20,60.20 150.43,60.09 151.66,59.99 152.90,59.90 154.13,59.81 155.37,59.73 156.60,59.66 157.84,59.58 159.07,59.50 160.30,59.42 161.54,59.33 161.71,59.32 162.77,59.25 164.01,59.18 165.24,59.12 166.48,59.07 167.71,59.01 168.94,58.94 170.18,58.86 171.41,58.75 172.45,58.64 172.65,58.62 173.88,58.41 174.89,57.97 175.12,57.37 175.76,51.22 176.15,36.04 176.35,10.73 M176.35,10.73 176.20,42.79 175.96,57.97 175.37,64.38 175.15,64.54 173.95,64.99 173.42,65.05 172.74,65.11 171.54,65.20 170.34,65.27 169.14,65.32 167.94,65.36 166.74,65.39 165.53,65.42 164.33,65.46 163.13,65.50 161.93,65.55 161.71,65.56 160.73,65.61 159.53,65.66 158.32,65.72 157.12,65.77 155.92,65.82 154.72,65.87 153.52,65.93 152.32,66.00 151.11,66.07 149.91,66.15 148.71,66.25 147.51,66.36 146.31,66.48 145.11,66.63 144.26,66.74 143.90,66.82 142.70,67.42 141.50,68.37 140.30,69.40 139.10,70.29 137.90,70.78 137.85,70.79 136.69,70.96 135.49,71.10 134.29,71.23 133.09,71.34 131.89,71.43 130.69,71.50 129.48,71.57 128.28,71.63 127.08,71.68 125.88,71.74 124.68,71.79 123.48,71.85 122.27,71.91 121.07,71.99 119.87,72.08 118.67,72.19 117.53,72.31 117.47,72.31 116.27,72.47 115.06,72.64 113.86,72.85 112.66,73.07 111.46,73.32 110.26,73.58 109.06,73.85 108.44,73.99 107.85,74.14 106.65,74.45 105.45,74.80 104.25,75.18 103.05,75.58 101.85,76.00 100.64,76.44 99.44,76.90 98.68,77.20 98.24,77.38 97.04,77.90 95.84,78.46 94.64,79.06 93.43,79.67 92.34,80.24 92.23,80.29 91.03,80.90 89.83,81.52 88.63,82.19 87.46,82.93 87.43,82.96 86.22,83.98 85.02,85.08 84.53,85.47 83.82,85.91 82.62,86.62 82.58,86.65 81.42,87.49 80.38,88.33 80.22,88.47 79.01,89.42 78.18,90.36 77.81,90.99 76.61,94.36 75.99,96.77 75.41,99.71 74.28,108.58 74.21,109.33 73.01,129.13 72.33,142.31 71.80,152.15 70.86,170.99 70.60,176.64 69.40,204.73 M67.20,204.73 68.42,165.93 68.43,165.71 69.66,136.29 69.79,133.88 70.88,116.70 71.59,108.58 72.11,104.06 73.20,96.77 73.34,95.96 74.57,89.51 75.50,85.80 75.80,84.80 77.02,81.18 77.69,80.24 78.25,80.00 79.48,79.69 79.89,79.56 80.71,79.18 81.84,78.55 81.94,78.50 83.17,77.82 84.39,77.10 84.77,76.86 85.62,76.26 86.85,75.28 88.08,74.27 89.31,73.37 89.65,73.15 90.53,72.62 91.76,71.93 92.99,71.28 94.22,70.69 95.45,70.16 96.48,69.78 96.67,69.71 97.90,69.30 99.13,68.92 100.36,68.56 101.59,68.23 102.81,67.92 104.04,67.65 105.27,67.41 106.24,67.25 106.50,67.21 107.73,67.02 108.96,66.84 110.18,66.68 111.41,66.53 112.64,66.40 113.87,66.28 115.10,66.17 116.32,66.07 116.38,66.07 117.55,65.99 118.78,65.92 120.01,65.86 121.24,65.81 122.46,65.77 123.69,65.73 124.92,65.70 126.15,65.66 127.38,65.62 128.60,65.58 129.83,65.53 131.06,65.46 132.29,65.39 133.52,65.30 134.74,65.19 135.97,65.06 136.06,65.05 137.20,64.59 138.43,63.60 139.66,62.46 140.89,61.58 141.52,61.34 142.11,61.23 143.34,61.00 144.57,60.80 145.80,60.62 147.03,60.47 148.25,60.33 149.48,60.20 150.71,60.09 151.94,59.99 153.17,59.90 154.39,59.81 155.62,59.73 156.85,59.65 158.08,59.57 159.31,59.50 160.53,59.41 161.76,59.33 161.86,59.32 162.99,59.24 164.22,59.17 165.45,59.12 166.68,59.06 167.90,59.01 169.13,58.94 170.36,58.86 171.59,58.75 172.60,58.64 172.82,58.62 174.04,58.40 175.04,57.97 175.27,57.34 175.91,51.22 176.30,36.04 176.50,10.73 M176.50,10.73 176.35,42.79 176.11,57.97 175.52,64.38 175.30,64.54 174.10,64.99 173.57,65.05 172.90,65.11 171.70,65.20 170.51,65.27 169.31,65.32 168.11,65.36 166.91,65.39 165.71,65.42 164.51,65.45 163.31,65.50 162.11,65.55 161.86,65.56 160.91,65.61 159.72,65.66 158.52,65.71 157.32,65.77 156.12,65.82 154.92,65.87 153.72,65.93 152.52,66.00 151.32,66.07 150.12,66.15 148.93,66.25 147.73,66.36 146.53,66.48 145.33,66.63 144.49,66.74 144.13,66.82 142.93,67.42 141.73,68.37 140.53,69.40 139.33,70.29 138.14,70.78 138.09,70.79 136.94,70.96 135.74,71.10 134.54,71.23 133.34,71.34 132.14,71.43 130.94,71.50 129.74,71.57 128.54,71.63 127.35,71.68 126.15,71.73 124.95,71.79 123.75,71.85 122.55,71.91 121.35,71.99 120.15,72.08 118.95,72.19 117.81,72.31 117.76,72.31 116.56,72.47 115.36,72.65 114.16,72.85 112.96,73.08 111.76,73.33 110.56,73.59 109.36,73.87 108.84,73.99 108.16,74.16 106.97,74.48 105.77,74.83 104.57,75.21 103.37,75.61 102.17,76.03 100.97,76.47 99.77,76.93 99.08,77.20 98.57,77.40 97.37,77.93 96.18,78.49 94.98,79.09 93.78,79.70 92.74,80.24 92.58,80.32 91.38,80.92 90.18,81.54 88.98,82.22 87.86,82.93 87.78,82.99 86.58,84.01 85.39,85.11 84.93,85.47 84.19,85.93 82.99,86.64 82.98,86.65 81.79,87.51 80.78,88.33 80.59,88.49 79.39,89.44 78.58,90.36 78.19,91.03 76.99,94.42 76.39,96.77 75.79,99.79 74.68,108.58 74.60,109.45 73.40,129.30 72.73,142.31 72.20,152.25 71.26,170.99 71.00,176.70 69.80,204.73 M67.90,204.73 69.12,165.93 69.12,165.88 70.34,136.52 70.49,133.88 71.57,116.95 72.29,108.58 72.79,104.25 73.90,96.77 74.01,96.14 75.23,89.68 76.20,85.80 76.45,84.94 77.68,81.29 78.39,80.24 78.90,80.02 80.12,79.71 80.59,79.56 81.34,79.21 82.54,78.55 82.56,78.54 83.78,77.87 85.01,77.15 85.47,76.86 86.23,76.33 87.45,75.36 88.67,74.36 89.89,73.44 90.35,73.15 91.12,72.69 92.34,72.00 93.56,71.35 94.78,70.75 96.00,70.22 97.18,69.78 97.23,69.76 98.45,69.35 99.67,68.97 100.89,68.61 102.11,68.27 103.34,67.97 104.56,67.70 105.78,67.45 106.94,67.25 107.00,67.24 108.22,67.04 109.44,66.87 110.67,66.70 111.89,66.55 113.11,66.41 114.33,66.28 115.55,66.17 116.78,66.07 116.84,66.07 118.00,65.99 119.22,65.91 120.44,65.86 121.66,65.81 122.89,65.77 124.11,65.73 125.33,65.69 126.55,65.66 127.77,65.62 129.00,65.58 130.22,65.52 131.44,65.46 132.66,65.39 133.88,65.30 135.11,65.19 136.33,65.06 136.41,65.05 137.55,64.59 138.77,63.60 139.99,62.46 141.21,61.58 141.85,61.34 142.44,61.23 143.66,61.00 144.88,60.80 146.10,60.62 147.32,60.46 148.55,60.32 149.77,60.20 150.99,60.08 152.21,59.98 153.43,59.89 154.66,59.81 155.88,59.73 157.10,59.65 158.32,59.57 159.54,59.49 160.77,59.41 161.99,59.32 162.01,59.32 163.21,59.24 164.43,59.17 165.65,59.11 166.87,59.06 168.10,59.00 169.32,58.94 170.54,58.85 171.76,58.75 172.75,58.64 172.98,58.62 174.21,58.40 175.19,57.97 175.43,57.31 176.06,51.22 176.45,36.04 176.65,10.73 M176.65,10.73 176.50,42.79 176.26,57.97 175.67,64.38 175.45,64.54 174.26,64.99 173.72,65.05 173.06,65.11 171.87,65.20 170.67,65.27 169.47,65.32 168.28,65.36 167.08,65.39 165.89,65.42 164.69,65.45 163.49,65.49 162.30,65.55 162.01,65.56 161.10,65.61 159.91,65.66 158.71,65.71 157.51,65.76 156.32,65.82 155.12,65.87 153.92,65.93 152.73,65.99 151.53,66.07 150.34,66.15 149.14,66.25 147.94,66.36 146.75,66.48 145.55,66.63 144.72,66.74 144.36,66.82 143.16,67.42 141.96,68.37 140.77,69.40 139.57,70.29 138.38,70.78 138.33,70.79 137.18,70.96 135.98,71.10 134.79,71.23 133.59,71.33 132.40,71.42 131.20,71.50 130.00,71.57 128.81,71.63 127.61,71.68 126.42,71.73 125.22,71.79 124.02,71.85 122.83,71.91 121.63,71.99 120.43,72.08 119.24,72.19 118.10,72.31 118.04,72.31 116.85,72.47 115.65,72.65 114.45,72.86 113.26,73.09 112.06,73.35 110.87,73.61 109.67,73.89 109.24,73.99 108.47,74.18 107.28,74.51 106.08,74.86 104.89,75.23 103.69,75.64 102.49,76.06 101.30,76.50 100.10,76.96 99.48,77.20 98.91,77.43 97.71,77.96 96.51,78.52 95.32,79.12 94.12,79.73 93.14,80.24 92.93,80.34 91.73,80.95 90.53,81.57 89.34,82.24 88.26,82.93 88.14,83.02 86.94,84.05 85.75,85.14 85.33,85.47 84.55,85.95 83.38,86.65 83.36,86.66 82.16,87.54 81.18,88.33 80.96,88.51 79.77,89.46 78.98,90.36 78.57,91.07 77.38,94.48 76.79,96.77 76.18,99.88 75.08,108.58 74.98,109.58 73.79,129.47 73.13,142.31 72.59,152.36 71.66,170.99 71.40,176.76 70.20,204.73" stroke="#e2281f" stroke-width="2.5"/></g><g clip-path="url(#cb)" fill="none" stroke-linejoin="round" stroke-linecap="square"><path d="M349.60,204.55 351.42,160.97 351.43,160.73 353.23,131.43 353.48,128.70 355.05,115.77 356.18,108.48 356.86,104.20 358.60,95.00 358.68,94.65 360.49,87.73 362.03,84.04 362.31,83.68 364.13,81.99 365.32,81.18 365.94,80.78 367.76,79.80 368.61,79.32 369.57,78.70 371.39,77.54 371.54,77.47 373.20,76.75 375.02,76.09 375.93,75.78 376.84,75.48 378.65,74.89 380.47,74.35 382.28,73.84 383.24,73.59 384.10,73.38 385.91,72.94 387.73,72.53 389.55,72.14 391.36,71.78 393.18,71.45 393.48,71.40 394.99,71.15 396.81,70.87 398.62,70.61 400.44,70.36 402.26,70.12 404.07,69.89 405.89,69.66 407.70,69.43 408.11,69.38 409.52,69.20 411.33,68.98 413.15,68.76 414.97,68.55 416.78,68.33 418.60,68.13 420.41,67.92 422.23,67.70 422.32,67.69 424.04,67.50 425.86,67.31 427.68,67.13 429.49,66.95 431.31,66.75 433.12,66.54 434.94,66.30 436.76,66.03 436.86,66.01 438.57,65.65 440.39,65.12 442.20,64.49 444.02,63.78 445.83,63.03 447.65,62.30 449.47,61.61 451.28,61.01 453.10,60.53 454.91,60.21 456.26,60.11 456.73,60.09 458.54,60.04 460.36,60.00 462.18,59.96 463.99,59.92 465.81,59.90 467.62,59.87 469.44,59.85 471.25,59.83 473.07,59.81 474.89,59.79 476.70,59.78 478.52,59.76 480.33,59.74 482.15,59.72 483.96,59.70 485.78,59.67 487.60,59.64 489.26,59.60 489.41,59.60 491.23,59.56 493.04,59.53 494.86,59.49 496.67,59.45 498.49,59.40 500.31,59.34 502.12,59.27 503.94,59.18 505.35,59.10 505.75,59.07 507.57,58.85 509.01,58.42 509.38,57.86 510.32,52.86 510.91,36.01 511.20,10.73 M511.60,10.73 511.38,44.43 511.01,59.60 510.14,66.34 509.79,66.43 507.98,66.65 507.21,66.68 506.17,66.72 504.36,66.78 502.54,66.83 500.73,66.86 498.92,66.90 497.11,66.92 495.30,66.95 493.49,66.97 491.68,66.99 489.87,67.02 489.66,67.02 488.06,67.04 486.25,67.06 484.43,67.08 482.62,67.10 480.81,67.12 479.00,67.13 477.19,67.14 475.38,67.16 473.57,67.18 471.76,67.20 469.95,67.22 468.14,67.25 466.32,67.28 464.51,67.32 463.25,67.36 462.70,67.38 460.89,67.66 459.08,68.16 457.27,68.82 455.46,69.58 453.65,70.37 451.84,71.11 450.02,71.76 448.21,72.24 447.13,72.41 446.40,72.50 444.59,72.69 442.78,72.85 440.97,73.00 439.16,73.13 437.35,73.25 435.54,73.35 433.73,73.45 431.91,73.55 430.10,73.65 428.29,73.75 426.48,73.85 424.67,73.97 422.95,74.10 422.86,74.10 421.05,74.24 419.24,74.37 417.43,74.50 415.62,74.64 413.80,74.79 411.99,74.95 410.18,75.14 408.92,75.28 408.37,75.34 406.56,75.59 404.75,75.86 402.94,76.18 401.13,76.52 399.32,76.91 397.51,77.32 395.69,77.77 394.30,78.14 393.88,78.26 392.07,78.85 390.26,79.54 388.45,80.32 386.64,81.15 384.83,82.00 384.79,82.02 383.02,82.94 381.21,83.97 379.39,85.03 377.58,86.01 377.48,86.06 375.77,86.90 373.96,87.73 373.09,88.09 372.15,88.43 370.34,89.04 370.16,89.10 368.53,89.66 366.87,90.28 366.72,90.34 364.91,91.13 363.58,91.96 363.10,92.43 361.28,95.38 360.29,97.52 359.47,99.69 357.73,105.95 357.66,106.24 355.85,115.18 354.81,121.96 354.04,127.88 352.61,143.87 352.23,150.59 350.42,204.55 M350.42,204.55 352.23,161.08 352.25,160.73 354.04,131.56 354.29,128.70 355.85,115.88 357.00,108.48 357.66,104.34 359.41,95.00 359.47,94.77 361.28,87.84 362.85,84.04 363.09,83.73 364.90,82.03 366.14,81.18 366.71,80.81 368.52,79.83 369.43,79.32 370.33,78.74 372.14,77.58 372.36,77.47 373.95,76.78 375.76,76.12 376.75,75.78 377.57,75.51 379.38,74.92 381.19,74.37 383.00,73.87 384.06,73.59 384.81,73.40 386.62,72.97 388.43,72.56 390.24,72.17 392.05,71.81 393.86,71.48 394.30,71.40 395.67,71.17 397.48,70.89 399.29,70.63 401.10,70.38 402.91,70.14 404.72,69.91 406.53,69.68 408.34,69.45 408.92,69.38 410.15,69.22 411.96,69.00 413.77,68.78 415.58,68.56 417.39,68.34 419.20,68.13 421.01,67.92 422.82,67.70 422.91,67.69 424.63,67.50 426.44,67.31 428.25,67.13 430.06,66.94 431.87,66.75 433.68,66.54 435.49,66.30 437.30,66.03 437.41,66.01 439.11,65.65 440.92,65.12 442.73,64.49 444.54,63.78 446.35,63.03 448.16,62.30 449.97,61.61 451.78,61.01 453.59,60.53 455.40,60.21 456.74,60.11 457.21,60.09 459.02,60.04 460.83,60.00 462.64,59.96 464.45,59.92 466.26,59.90 468.07,59.87 469.88,59.85 471.69,59.83 473.50,59.81 475.31,59.79 477.12,59.78 478.93,59.76 480.74,59.74 482.55,59.72 484.36,59.69 486.17,59.67 487.98,59.64 489.57,59.60 489.79,59.60 491.60,59.56 493.41,59.53 495.22,59.49 497.03,59.45 498.84,59.40 500.65,59.34 502.46,59.27 504.27,59.18 505.66,59.10 506.08,59.07 507.89,58.85 509.32,58.42 509.70,57.85 510.63,52.86 511.22,36.01 511.51,10.73 M511.91,10.73 511.69,44.43 511.32,59.60 510.45,66.34 510.10,66.43 508.30,66.65 507.52,66.68 506.49,66.72 504.69,66.78 502.88,66.83 501.08,66.86 499.27,66.89 497.47,66.92 495.66,66.94 493.86,66.97 492.05,66.99 490.25,67.01 489.97,67.02 488.44,67.04 486.63,67.06 484.83,67.08 483.02,67.10 481.22,67.11 479.41,67.13 477.61,67.14 475.80,67.16 474.00,67.18 472.19,67.20 470.39,67.22 468.58,67.25 466.78,67.28 464.97,67.32 463.71,67.36 463.17,67.38 461.36,67.66 459.56,68.16 457.75,68.82 455.94,69.58 454.14,70.37 452.33,71.11 450.53,71.76 448.72,72.24 447.64,72.41 446.92,72.50 445.11,72.69 443.31,72.85 441.50,73.00 439.70,73.13 437.89,73.25 436.09,73.35 434.28,73.45 432.48,73.55 430.67,73.65 428.86,73.75 427.06,73.85 425.25,73.97 423.54,74.10 423.45,74.10 421.64,74.24 419.84,74.37 418.03,74.51 416.23,74.65 414.42,74.80 412.62,74.97 410.81,75.16 409.74,75.28 409.01,75.37 407.20,75.61 405.40,75.89 403.59,76.21 401.79,76.56 399.98,76.94 398.17,77.36 396.37,77.81 395.12,78.14 394.56,78.30 392.76,78.89 390.95,79.59 389.15,80.37 387.34,81.20 385.61,82.02 385.54,82.05 383.73,82.99 381.93,84.03 380.12,85.08 378.32,86.05 378.30,86.06 376.51,86.94 374.71,87.76 373.91,88.09 372.90,88.45 371.09,89.06 370.98,89.10 369.29,89.67 367.69,90.28 367.48,90.36 365.68,91.15 364.40,91.96 363.87,92.48 362.07,95.45 361.11,97.52 360.26,99.77 358.55,105.95 358.46,106.33 356.65,115.28 355.62,121.96 354.85,127.98 353.43,143.87 353.04,150.70 351.24,204.55 M351.24,204.55 353.04,161.18 353.06,160.73 354.84,131.70 355.11,128.70 356.65,116.00 357.82,108.48 358.45,104.48 360.23,95.00 360.26,94.89 362.06,87.96 363.67,84.04 363.87,83.78 365.67,82.06 366.96,81.18 367.47,80.84 369.28,79.86 370.25,79.32 371.08,78.79 372.89,77.62 373.18,77.47 374.69,76.80 376.50,76.15 377.56,75.78 378.30,75.53 380.11,74.95 381.91,74.40 383.71,73.90 384.88,73.59 385.52,73.43 387.32,73.00 389.13,72.58 390.93,72.19 392.74,71.83 394.54,71.50 395.12,71.40 396.34,71.20 398.15,70.92 399.95,70.65 401.76,70.41 403.56,70.17 405.37,69.94 407.17,69.71 408.97,69.48 409.74,69.38 410.78,69.24 412.58,69.02 414.39,68.79 416.19,68.57 418.00,68.35 419.80,68.13 421.60,67.92 423.41,67.70 423.50,67.69 425.21,67.50 427.02,67.31 428.82,67.13 430.63,66.94 432.43,66.75 434.23,66.54 436.04,66.30 437.84,66.03 437.95,66.01 439.65,65.65 441.45,65.12 443.26,64.49 445.06,63.78 446.86,63.03 448.67,62.30 450.47,61.61 452.28,61.01 454.08,60.53 455.89,60.21 457.22,60.11 457.69,60.09 459.49,60.04 461.30,60.00 463.10,59.96 464.91,59.92 466.71,59.90 468.52,59.87 470.32,59.85 472.12,59.83 473.93,59.81 475.73,59.79 477.54,59.78 479.34,59.76 481.15,59.74 482.95,59.72 484.75,59.69 486.56,59.67 488.36,59.63 489.88,59.60 490.17,59.60 491.97,59.56 493.78,59.53 495.58,59.49 497.38,59.45 499.19,59.40 500.99,59.34 502.80,59.27 504.60,59.18 505.97,59.10 506.41,59.07 508.21,58.85 509.62,58.42 510.01,57.83 510.94,52.86 511.53,36.01 511.82,10.73 M512.22,10.73 512.00,44.43 511.63,59.60 510.76,66.34 510.42,66.43 508.62,66.65 507.83,66.68 506.82,66.72 505.02,66.78 503.22,66.82 501.42,66.86 499.62,66.89 497.82,66.92 496.02,66.94 494.22,66.97 492.42,66.99 490.62,67.01 490.28,67.02 488.82,67.04 487.02,67.06 485.22,67.08 483.42,67.10 481.63,67.11 479.83,67.13 478.03,67.14 476.23,67.16 474.43,67.18 472.63,67.20 470.83,67.22 469.03,67.25 467.23,67.28 465.43,67.32 464.17,67.36 463.63,67.38 461.83,67.66 460.03,68.16 458.23,68.82 456.43,69.58 454.63,70.37 452.83,71.11 451.03,71.76 449.23,72.24 448.15,72.41 447.43,72.50 445.63,72.69 443.83,72.85 442.03,73.00 440.23,73.13 438.43,73.25 436.64,73.35 434.84,73.45 433.04,73.55 431.24,73.64 429.44,73.74 427.64,73.85 425.84,73.97 424.13,74.10 424.04,74.10 422.24,74.24 420.44,74.38 418.64,74.51 416.84,74.66 415.04,74.81 413.24,74.98 411.44,75.17 410.56,75.28 409.64,75.39 407.84,75.64 406.04,75.93 404.24,76.24 402.44,76.59 400.64,76.98 398.84,77.40 397.04,77.85 395.93,78.14 395.24,78.34 393.45,78.94 391.65,79.65 389.85,80.43 388.05,81.26 386.43,82.02 386.25,82.10 384.45,83.05 382.65,84.09 380.85,85.13 379.11,86.06 379.05,86.10 377.25,86.98 375.45,87.79 374.73,88.09 373.65,88.48 371.85,89.08 371.80,89.10 370.05,89.69 368.51,90.28 368.25,90.38 366.45,91.17 365.22,91.96 364.65,92.52 362.85,95.52 361.93,97.52 361.05,99.86 359.37,105.95 359.25,106.43 357.45,115.38 356.44,121.96 355.65,128.08 354.25,143.87 353.85,150.82 352.05,204.55 M352.05,204.55 353.85,161.29 353.88,160.73 355.65,131.84 355.93,128.70 357.45,116.12 358.64,108.48 359.25,104.62 361.05,95.01 361.05,95.00 362.85,88.07 364.49,84.04 364.64,83.83 366.44,82.09 367.78,81.18 368.24,80.88 370.04,79.89 371.07,79.32 371.84,78.83 373.64,77.66 373.99,77.47 375.44,76.83 377.23,76.17 378.38,75.78 379.03,75.56 380.83,74.98 382.63,74.43 384.43,73.92 385.70,73.59 386.23,73.46 388.03,73.02 389.82,72.61 391.62,72.22 393.42,71.86 395.22,71.52 395.93,71.40 397.02,71.22 398.82,70.94 400.62,70.68 402.41,70.43 404.21,70.19 406.01,69.96 407.81,69.73 409.61,69.50 410.56,69.38 411.41,69.27 413.21,69.04 415.00,68.81 416.80,68.58 418.60,68.36 420.40,68.14 422.20,67.92 424.00,67.70 424.09,67.69 425.80,67.50 427.59,67.31 429.39,67.12 431.19,66.94 432.99,66.75 434.79,66.54 436.59,66.30 438.39,66.03 438.49,66.01 440.18,65.65 441.98,65.12 443.78,64.49 445.58,63.78 447.38,63.03 449.18,62.30 450.98,61.61 452.77,61.01 454.57,60.53 456.37,60.21 457.70,60.11 458.17,60.09 459.97,60.04 461.77,60.00 463.57,59.96 465.36,59.92 467.16,59.89 468.96,59.87 470.76,59.85 472.56,59.83 474.36,59.81 476.16,59.79 477.95,59.77 479.75,59.76 481.55,59.74 483.35,59.72 485.15,59.69 486.95,59.66 488.75,59.63 490.19,59.60 490.54,59.60 492.34,59.56 494.14,59.52 495.94,59.49 497.74,59.45 499.54,59.40 501.34,59.34 503.13,59.27 504.93,59.18 506.28,59.10 506.73,59.07 508.53,58.84 509.93,58.42 510.33,57.82 511.25,52.86 511.83,36.01 512.13,10.73 M512.53,10.73 512.31,44.43 511.94,59.60 511.06,66.34 510.73,66.43 508.94,66.65 508.14,66.68 507.15,66.72 505.35,66.78 503.56,66.82 501.76,66.86 499.97,66.89 498.18,66.92 496.38,66.94 494.59,66.96 492.79,66.99 491.00,67.01 490.59,67.02 489.21,67.04 487.41,67.06 485.62,67.08 483.83,67.10 482.03,67.11 480.24,67.13 478.44,67.14 476.65,67.16 474.86,67.18 473.06,67.20 471.27,67.22 469.47,67.25 467.68,67.28 465.89,67.32 464.63,67.36 464.09,67.38 462.30,67.66 460.51,68.16 458.71,68.82 456.92,69.58 455.12,70.37 453.33,71.11 451.54,71.76 449.74,72.24 448.67,72.41 447.95,72.50 446.15,72.69 444.36,72.85 442.57,73.00 440.77,73.13 438.98,73.24 437.18,73.35 435.39,73.45 433.60,73.54 431.80,73.64 430.01,73.74 428.22,73.85 426.42,73.97 424.72,74.10 424.63,74.10 422.83,74.24 421.04,74.38 419.25,74.52 417.45,74.67 415.66,74.83 413.86,75.00 412.07,75.20 411.38,75.28 410.28,75.42 408.48,75.67 406.69,75.96 404.89,76.28 403.10,76.63 401.31,77.01 399.51,77.43 397.72,77.88 396.75,78.14 395.93,78.38 394.13,78.99 392.34,79.70 390.54,80.48 388.75,81.31 387.25,82.02 386.96,82.16 385.16,83.11 383.37,84.15 381.57,85.19 379.93,86.06 379.78,86.14 377.99,87.02 376.19,87.82 375.54,88.09 374.40,88.50 372.62,89.10 372.61,89.10 370.81,89.71 369.33,90.28 369.02,90.41 367.22,91.20 366.04,91.96 365.43,92.57 363.64,95.59 362.75,97.52 361.84,99.95 360.19,105.95 360.05,106.52 358.25,115.48 357.26,121.96 356.46,128.18 355.07,143.87 354.67,150.94 352.87,204.55 M352.87,204.55 354.67,161.40 354.70,160.73 356.46,131.98 356.75,128.70 358.25,116.23 359.45,108.48 360.04,104.76 361.84,95.13 361.87,95.00 363.63,88.19 365.31,84.04 365.42,83.88 367.22,82.13 368.60,81.18 369.01,80.91 370.80,79.92 371.89,79.32 372.59,78.87 374.39,77.69 374.81,77.47 376.18,76.86 377.97,76.20 379.20,75.78 379.77,75.59 381.56,75.01 383.35,74.46 385.14,73.95 386.51,73.59 386.94,73.49 388.73,73.05 390.52,72.64 392.32,72.25 394.11,71.88 395.90,71.55 396.75,71.40 397.69,71.24 399.49,70.96 401.28,70.70 403.07,70.45 404.87,70.22 406.66,69.99 408.45,69.76 410.24,69.53 411.38,69.38 412.04,69.29 413.83,69.06 415.62,68.83 417.42,68.60 419.21,68.37 421.00,68.15 422.79,67.92 424.59,67.70 424.68,67.69 426.38,67.50 428.17,67.31 429.97,67.12 431.76,66.94 433.55,66.75 435.34,66.54 437.14,66.30 438.93,66.03 439.04,66.01 440.72,65.65 442.52,65.12 444.31,64.49 446.10,63.78 447.89,63.03 449.69,62.30 451.48,61.61 453.27,61.01 455.07,60.53 456.86,60.21 458.18,60.11 458.65,60.09 460.44,60.04 462.24,60.00 464.03,59.96 465.82,59.92 467.62,59.89 469.41,59.87 471.20,59.85 472.99,59.83 474.79,59.81 476.58,59.79 478.37,59.77 480.17,59.76 481.96,59.74 483.75,59.72 485.54,59.69 487.34,59.66 489.13,59.63 490.50,59.60 490.92,59.59 492.72,59.56 494.51,59.52 496.30,59.49 498.09,59.44 499.89,59.40 501.68,59.34 503.47,59.26 505.26,59.18 506.59,59.10 507.06,59.07 508.85,58.84 510.24,58.42 510.64,57.80 511.56,52.86 512.14,36.01 512.44,10.73 M512.84,10.73 512.62,44.43 512.25,59.60 511.37,66.34 511.05,66.43 509.26,66.65 508.45,66.68 507.47,66.72 505.68,66.78 503.90,66.82 502.11,66.86 500.32,66.89 498.53,66.92 496.74,66.94 494.95,66.96 493.17,66.99 491.38,67.01 490.90,67.02 489.59,67.04 487.80,67.06 486.01,67.08 484.23,67.10 482.44,67.11 480.65,67.13 478.86,67.14 477.07,67.16 475.29,67.18 473.50,67.20 471.71,67.22 469.92,67.25 468.13,67.28 466.34,67.32 465.09,67.36 464.56,67.38 462.77,67.66 460.98,68.16 459.19,68.82 457.40,69.58 455.62,70.37 453.83,71.11 452.04,71.76 450.25,72.24 449.18,72.41 448.46,72.50 446.67,72.69 444.89,72.85 443.10,73.00 441.31,73.13 439.52,73.24 437.73,73.35 435.95,73.45 434.16,73.54 432.37,73.64 430.58,73.74 428.79,73.85 427.01,73.97 425.31,74.10 425.22,74.10 423.43,74.25 421.64,74.38 419.85,74.53 418.06,74.68 416.28,74.84 414.49,75.02 412.70,75.22 412.20,75.28 410.91,75.44 409.12,75.70 407.34,75.99 405.55,76.31 403.76,76.66 401.97,77.05 400.18,77.47 398.39,77.92 397.57,78.14 396.61,78.42 394.82,79.04 393.03,79.75 391.24,80.54 389.45,81.36 388.06,82.02 387.67,82.21 385.88,83.17 384.09,84.20 382.30,85.24 380.75,86.06 380.51,86.18 378.73,87.05 376.94,87.85 376.36,88.09 375.15,88.52 373.44,89.10 373.36,89.12 371.57,89.73 370.15,90.28 369.78,90.43 368.00,91.22 366.85,91.96 366.21,92.62 364.42,95.66 363.56,97.52 362.63,100.03 361.00,105.95 360.84,106.62 359.06,115.58 358.08,121.96 357.27,128.27 355.88,143.87 355.48,151.06 353.69,204.55 M353.69,204.55 355.48,161.51 355.52,160.73 357.27,132.12 357.57,128.70 359.05,116.35 360.27,108.48 360.84,104.90 362.63,95.25 362.69,95.00 364.41,88.30 366.12,84.04 366.20,83.94 367.99,82.16 369.41,81.18 369.78,80.94 371.56,79.95 372.71,79.32 373.35,78.91 375.14,77.73 375.63,77.47 376.92,76.89 378.71,76.23 380.02,75.78 380.50,75.62 382.28,75.04 384.07,74.49 385.86,73.98 387.33,73.59 387.65,73.51 389.43,73.08 391.22,72.66 393.01,72.27 394.79,71.91 396.58,71.57 397.57,71.40 398.37,71.27 400.16,70.99 401.94,70.72 403.73,70.48 405.52,70.24 407.30,70.01 409.09,69.78 410.88,69.55 412.20,69.38 412.67,69.32 414.45,69.08 416.24,68.84 418.03,68.61 419.81,68.38 421.60,68.15 423.39,67.93 425.18,67.70 425.27,67.69 426.96,67.49 428.75,67.30 430.54,67.12 432.32,66.94 434.11,66.75 435.90,66.54 437.69,66.30 439.47,66.03 439.58,66.01 441.26,65.65 443.05,65.12 444.83,64.49 446.62,63.78 448.41,63.03 450.20,62.30 451.98,61.61 453.77,61.01 455.56,60.53 457.34,60.21 458.67,60.11 459.13,60.09 460.92,60.04 462.71,60.00 464.49,59.96 466.28,59.92 468.07,59.89 469.85,59.87 471.64,59.85 473.43,59.83 475.22,59.81 477.00,59.79 478.79,59.77 480.58,59.76 482.36,59.74 484.15,59.71 485.94,59.69 487.73,59.66 489.51,59.63 490.81,59.60 491.30,59.59 493.09,59.56 494.87,59.52 496.66,59.48 498.45,59.44 500.24,59.39 502.02,59.34 503.81,59.26 505.60,59.17 506.89,59.10 507.38,59.06 509.17,58.84 510.55,58.42 510.96,57.79 511.87,52.86 512.45,36.01 512.75,10.73 M513.15,10.73 512.93,44.43 512.56,59.60 511.68,66.34 511.36,66.42 509.58,66.65 508.76,66.68 507.80,66.72 506.02,66.78 504.23,66.82 502.45,66.86 500.67,66.89 498.89,66.92 497.10,66.94 495.32,66.96 493.54,66.99 491.76,67.01 491.21,67.02 489.97,67.04 488.19,67.06 486.41,67.08 484.63,67.10 482.84,67.11 481.06,67.13 479.28,67.14 477.50,67.16 475.71,67.18 473.93,67.20 472.15,67.22 470.37,67.25 468.58,67.28 466.80,67.32 465.55,67.36 465.02,67.38 463.24,67.66 461.45,68.16 459.67,68.82 457.89,69.58 456.11,70.37 454.33,71.11 452.54,71.76 450.76,72.24 449.69,72.41 448.98,72.50 447.20,72.69 445.41,72.85 443.63,73.00 441.85,73.13 440.07,73.24 438.28,73.35 436.50,73.44 434.72,73.54 432.94,73.64 431.15,73.74 429.37,73.85 427.59,73.97 425.90,74.10 425.81,74.10 424.02,74.25 422.24,74.39 420.46,74.53 418.68,74.69 416.89,74.85 415.11,75.03 413.33,75.24 413.02,75.28 411.55,75.47 409.76,75.73 407.98,76.02 406.20,76.34 404.42,76.70 402.63,77.09 400.85,77.51 399.07,77.96 398.39,78.14 397.29,78.47 395.51,79.09 393.72,79.80 391.94,80.59 390.16,81.42 388.88,82.02 388.38,82.27 386.59,83.22 384.81,84.26 383.03,85.29 381.57,86.06 381.25,86.22 379.46,87.09 377.68,87.88 377.18,88.09 375.90,88.55 374.26,89.10 374.12,89.15 372.33,89.75 370.96,90.28 370.55,90.45 368.77,91.25 367.67,91.96 366.99,92.67 365.20,95.73 364.38,97.52 363.42,100.12 361.82,105.95 361.64,106.71 359.86,115.68 358.90,121.96 358.07,128.37 356.70,143.87 356.29,151.17 354.51,204.55 M354.51,204.55 356.29,161.62 356.34,160.73 358.07,132.26 358.39,128.70 359.85,116.47 361.09,108.48 361.63,105.05 363.42,95.37 363.50,95.00 365.20,88.42 366.94,84.04 366.98,83.99 368.76,82.20 370.23,81.18 370.54,80.97 372.32,79.98 373.52,79.32 374.10,78.95 375.89,77.77 376.45,77.47 377.67,76.92 379.45,76.26 380.84,75.78 381.23,75.65 383.01,75.07 384.79,74.52 386.57,74.01 388.15,73.59 388.36,73.54 390.14,73.10 391.92,72.69 393.70,72.30 395.48,71.94 397.26,71.60 398.39,71.40 399.04,71.29 400.83,71.01 402.61,70.75 404.39,70.50 406.17,70.26 407.95,70.03 409.73,69.81 411.51,69.58 413.02,69.38 413.30,69.34 415.08,69.10 416.86,68.86 418.64,68.62 420.42,68.39 422.20,68.16 423.98,67.93 425.77,67.70 425.85,67.69 427.55,67.49 429.33,67.30 431.11,67.12 432.89,66.94 434.67,66.75 436.45,66.54 438.24,66.30 440.02,66.03 440.12,66.01 441.80,65.65 443.58,65.12 445.36,64.49 447.14,63.78 448.92,63.03 450.71,62.30 452.49,61.61 454.27,61.01 456.05,60.53 457.83,60.21 459.15,60.11 459.61,60.09 461.39,60.04 463.18,60.00 464.96,59.96 466.74,59.92 468.52,59.89 470.30,59.87 472.08,59.85 473.86,59.83 475.64,59.81 477.43,59.79 479.21,59.77 480.99,59.75 482.77,59.74 484.55,59.71 486.33,59.69 488.11,59.66 489.90,59.63 491.11,59.60 491.68,59.59 493.46,59.56 495.24,59.52 497.02,59.48 498.80,59.44 500.58,59.39 502.37,59.33 504.15,59.26 505.93,59.17 507.20,59.10 507.71,59.06 509.49,58.84 510.86,58.42 511.27,57.77 512.18,52.86 512.76,36.01 513.05,10.73 M513.45,10.73 513.24,44.43 512.87,59.60 511.99,66.34 511.68,66.42 509.90,66.64 509.07,66.68 508.12,66.72 506.35,66.77 504.57,66.82 502.79,66.86 501.02,66.89 499.24,66.92 497.46,66.94 495.69,66.96 493.91,66.98 492.13,67.01 491.51,67.02 490.36,67.04 488.58,67.06 486.80,67.08 485.03,67.10 483.25,67.11 481.47,67.13 479.70,67.14 477.92,67.16 476.14,67.18 474.37,67.20 472.59,67.22 470.81,67.25 469.04,67.28 467.26,67.32 466.02,67.36 465.48,67.38 463.71,67.66 461.93,68.16 460.15,68.82 458.38,69.58 456.60,70.37 454.82,71.11 453.05,71.76 451.27,72.24 450.20,72.41 449.49,72.50 447.72,72.69 445.94,72.85 444.16,73.00 442.39,73.13 440.61,73.24 438.83,73.34 437.06,73.44 435.28,73.54 433.50,73.64 431.73,73.74 429.95,73.85 428.17,73.97 426.48,74.10 426.40,74.10 424.62,74.25 422.84,74.39 421.07,74.54 419.29,74.70 417.51,74.87 415.74,75.05 413.96,75.26 413.83,75.28 412.18,75.50 410.41,75.76 408.63,76.05 406.85,76.38 405.08,76.73 403.30,77.12 401.52,77.54 399.75,78.00 399.21,78.14 397.97,78.51 396.19,79.14 394.41,79.86 392.64,80.64 390.86,81.47 389.70,82.02 389.08,82.32 387.31,83.28 385.53,84.32 383.75,85.34 382.39,86.06 381.98,86.27 380.20,87.13 378.42,87.92 378.00,88.09 376.65,88.57 375.07,89.10 374.87,89.17 373.09,89.77 371.78,90.28 371.32,90.47 369.54,91.27 368.49,91.96 367.76,92.72 365.99,95.80 365.20,97.52 364.21,100.21 362.64,105.95 362.43,106.81 360.66,115.79 359.72,121.96 358.88,128.47 357.52,143.87 357.10,151.29 355.33,204.55 M355.33,204.55 357.10,161.74 357.16,160.73 358.88,132.40 359.20,128.70 360.65,116.59 361.91,108.48 362.43,105.19 364.21,95.49 364.32,95.00 365.98,88.54 367.76,84.05 367.76,84.04 369.53,82.23 371.05,81.18 371.31,81.01 373.08,80.01 374.34,79.32 374.86,79.00 376.64,77.82 377.27,77.47 378.41,76.96 380.19,76.28 381.66,75.78 381.96,75.68 383.74,75.10 385.51,74.55 387.29,74.04 388.97,73.59 389.07,73.57 390.84,73.13 392.62,72.72 394.39,72.33 396.17,71.96 397.94,71.62 399.21,71.40 399.72,71.31 401.50,71.03 403.27,70.77 405.05,70.52 406.82,70.29 408.60,70.06 410.37,69.83 412.15,69.60 413.83,69.38 413.93,69.37 415.70,69.12 417.48,68.88 419.25,68.64 421.03,68.40 422.80,68.16 424.58,67.93 426.35,67.70 426.44,67.69 428.13,67.49 429.91,67.30 431.68,67.12 433.46,66.94 435.23,66.74 437.01,66.54 438.78,66.30 440.56,66.03 440.67,66.01 442.34,65.65 444.11,65.12 445.89,64.49 447.66,63.78 449.44,63.03 451.21,62.30 452.99,61.61 454.77,61.01 456.54,60.53 458.32,60.21 459.63,60.11 460.09,60.09 461.87,60.04 463.64,60.00 465.42,59.96 467.20,59.92 468.97,59.89 470.75,59.87 472.52,59.85 474.30,59.83 476.07,59.81 477.85,59.79 479.63,59.77 481.40,59.75 483.18,59.73 484.95,59.71 486.73,59.69 488.50,59.66 490.28,59.63 491.42,59.60 492.06,59.59 493.83,59.55 495.61,59.52 497.38,59.48 499.16,59.44 500.93,59.39 502.71,59.33 504.49,59.26 506.26,59.17 507.51,59.10 508.04,59.06 509.81,58.83 511.17,58.42 511.59,57.75 512.49,52.86 513.07,36.01 513.36,10.73 M513.76,10.73 513.54,44.43 513.18,59.60 512.30,66.34 511.99,66.42 510.22,66.64 509.38,66.68 508.45,66.72 506.68,66.77 504.91,66.82 503.14,66.86 501.37,66.89 499.60,66.92 497.82,66.94 496.05,66.96 494.28,66.98 492.51,67.01 491.82,67.02 490.74,67.04 488.97,67.06 487.20,67.08 485.43,67.10 483.66,67.11 481.89,67.13 480.11,67.14 478.34,67.16 476.57,67.18 474.80,67.20 473.03,67.22 471.26,67.25 469.49,67.28 467.72,67.32 466.48,67.36 465.95,67.38 464.18,67.66 462.40,68.16 460.63,68.82 458.86,69.58 457.09,70.37 455.32,71.11 453.55,71.76 451.78,72.24 450.72,72.41 450.01,72.50 448.24,72.69 446.47,72.85 444.69,73.00 442.92,73.12 441.15,73.24 439.38,73.34 437.61,73.44 435.84,73.54 434.07,73.63 432.30,73.73 430.53,73.84 428.76,73.97 427.07,74.10 426.99,74.10 425.21,74.25 423.44,74.40 421.67,74.55 419.90,74.71 418.13,74.88 416.36,75.07 414.65,75.28 414.59,75.29 412.82,75.52 411.05,75.79 409.28,76.09 407.50,76.41 405.73,76.77 403.96,77.16 402.19,77.58 400.42,78.04 400.03,78.14 398.65,78.56 396.88,79.19 395.11,79.91 393.34,80.70 391.57,81.52 390.52,82.02 389.79,82.38 388.02,83.34 386.25,84.37 384.48,85.39 383.20,86.06 382.71,86.31 380.94,87.17 379.17,87.95 378.82,88.09 377.40,88.59 375.89,89.10 375.63,89.19 373.86,89.79 372.60,90.28 372.08,90.49 370.31,91.30 369.31,91.96 368.54,92.77 366.77,95.87 366.02,97.52 365.00,100.30 363.46,105.95 363.23,106.91 361.46,115.89 360.53,121.96 359.69,128.57 358.34,143.87 357.92,151.41 356.15,204.55 M356.15,204.55 357.92,161.85 357.97,160.73 359.69,132.55 360.02,128.70 361.46,116.71 362.73,108.48 363.23,105.33 365.00,95.61 365.14,95.00 366.77,88.66 368.54,84.10 368.58,84.04 370.31,82.27 371.87,81.18 372.08,81.04 373.85,80.04 375.16,79.32 375.62,79.04 377.39,77.86 378.09,77.47 379.16,76.99 380.93,76.31 382.47,75.78 382.69,75.71 384.46,75.12 386.23,74.58 388.00,74.06 389.77,73.59 389.79,73.59 391.54,73.16 393.31,72.74 395.08,72.35 396.85,71.99 398.62,71.65 400.03,71.40 400.39,71.34 402.16,71.05 403.93,70.79 405.70,70.55 407.47,70.31 409.24,70.08 411.01,69.86 412.78,69.63 414.55,69.39 414.65,69.38 416.32,69.15 418.09,68.90 419.86,68.66 421.63,68.41 423.40,68.17 425.17,67.93 426.94,67.70 427.03,67.69 428.71,67.49 430.48,67.30 432.25,67.12 434.02,66.93 435.79,66.74 437.56,66.54 439.33,66.30 441.10,66.03 441.21,66.01 442.87,65.65 444.64,65.12 446.41,64.49 448.18,63.78 449.95,63.03 451.72,62.30 453.49,61.61 455.26,61.01 457.03,60.53 458.80,60.21 460.11,60.11 460.57,60.09 462.34,60.04 464.11,60.00 465.88,59.96 467.65,59.92 469.42,59.89 471.19,59.87 472.96,59.85 474.73,59.83 476.50,59.81 478.27,59.79 480.04,59.77 481.81,59.75 483.58,59.73 485.35,59.71 487.12,59.69 488.89,59.66 490.66,59.63 491.73,59.60 492.43,59.59 494.20,59.55 495.97,59.52 497.74,59.48 499.51,59.44 501.28,59.39 503.05,59.33 504.82,59.26 506.59,59.17 507.82,59.10 508.36,59.06 510.13,58.83 511.48,58.42 511.90,57.74 512.80,52.86 513.38,36.01 513.67,10.73 M514.07,10.73 513.85,44.43 513.49,59.60 512.61,66.34 512.31,66.42 510.54,66.64 509.68,66.68 508.78,66.72 507.01,66.77 505.25,66.82 503.48,66.86 501.72,66.89 499.95,66.92 498.19,66.94 496.42,66.96 494.65,66.98 492.89,67.01 492.13,67.02 491.12,67.03 489.36,67.06 487.59,67.08 485.83,67.10 484.06,67.11 482.30,67.13 480.53,67.14 478.77,67.16 477.00,67.18 475.24,67.20 473.47,67.22 471.71,67.25 469.94,67.28 468.18,67.32 466.94,67.36 466.41,67.38 464.65,67.66 462.88,68.16 461.11,68.82 459.35,69.58 457.58,70.37 455.82,71.11 454.05,71.76 452.29,72.24 451.23,72.41 450.52,72.50 448.76,72.69 446.99,72.85 445.23,73.00 443.46,73.12 441.70,73.24 439.93,73.34 438.17,73.44 436.40,73.53 434.64,73.63 432.87,73.73 431.11,73.84 429.34,73.97 427.66,74.10 427.57,74.10 425.81,74.25 424.04,74.40 422.28,74.55 420.51,74.72 418.75,74.90 416.98,75.09 415.47,75.28 415.22,75.31 413.45,75.55 411.69,75.82 409.92,76.12 408.16,76.45 406.39,76.81 404.63,77.20 402.86,77.62 401.10,78.07 400.84,78.14 399.33,78.60 397.56,79.24 395.80,79.97 394.03,80.75 392.27,81.58 391.34,82.02 390.50,82.43 388.74,83.40 386.97,84.43 385.21,85.44 384.02,86.06 383.44,86.35 381.68,87.20 379.91,87.98 379.63,88.09 378.15,88.61 376.71,89.10 376.38,89.21 374.62,89.82 373.42,90.28 372.85,90.51 371.09,91.32 370.13,91.96 369.32,92.83 367.56,95.95 366.84,97.52 365.79,100.39 364.28,105.95 364.02,107.01 362.26,115.99 361.35,121.96 360.49,128.67 359.16,143.87 358.73,151.53 356.96,204.55 M356.96,204.55 358.73,161.96 358.79,160.73 360.49,132.69 360.84,128.70 362.26,116.82 363.55,108.48 364.02,105.47 365.78,95.74 365.96,95.00 367.55,88.78 369.31,84.16 369.40,84.04 371.08,82.30 372.69,81.18 372.84,81.07 374.61,80.07 375.98,79.32 376.37,79.08 378.13,77.90 378.90,77.47 379.90,77.02 381.66,76.34 383.29,75.78 383.43,75.74 385.19,75.15 386.96,74.60 388.72,74.09 390.48,73.62 390.60,73.59 392.25,73.19 394.01,72.77 395.78,72.38 397.54,72.01 399.31,71.67 400.84,71.40 401.07,71.36 402.83,71.08 404.60,70.82 406.36,70.57 408.13,70.34 409.89,70.11 411.66,69.88 413.42,69.65 415.18,69.42 415.47,69.38 416.95,69.17 418.71,68.92 420.48,68.67 422.24,68.42 424.01,68.18 425.77,67.94 427.53,67.70 427.62,67.69 429.30,67.49 431.06,67.30 432.83,67.11 434.59,66.93 436.35,66.74 438.12,66.53 439.88,66.30 441.65,66.03 441.75,66.01 443.41,65.65 445.18,65.12 446.94,64.49 448.70,63.78 450.47,63.03 452.23,62.30 454.00,61.61 455.76,61.01 457.53,60.53 459.29,60.21 460.60,60.11 461.05,60.09 462.82,60.04 464.58,60.00 466.35,59.96 468.11,59.92 469.88,59.89 471.64,59.87 473.40,59.84 475.17,59.82 476.93,59.81 478.70,59.79 480.46,59.77 482.23,59.75 483.99,59.73 485.75,59.71 487.52,59.69 489.28,59.66 491.05,59.62 492.04,59.60 492.81,59.59 494.58,59.55 496.34,59.52 498.10,59.48 499.87,59.44 501.63,59.39 503.40,59.33 505.16,59.26 506.92,59.17 508.13,59.10 508.69,59.06 510.45,58.83 511.79,58.42 512.22,57.72 513.10,52.86 513.69,36.01 513.98,10.73 M514.38,10.73 514.16,44.43 513.80,59.60 512.92,66.34 512.62,66.42 510.86,66.64 509.99,66.68 509.10,66.72 507.34,66.77 505.58,66.82 503.82,66.86 502.06,66.89 500.31,66.92 498.55,66.94 496.79,66.96 495.03,66.98 493.27,67.01 492.44,67.02 491.51,67.03 489.75,67.06 487.99,67.08 486.23,67.09 484.47,67.11 482.71,67.13 480.95,67.14 479.19,67.16 477.43,67.18 475.67,67.20 473.91,67.22 472.15,67.25 470.39,67.28 468.63,67.32 467.40,67.36 466.87,67.38 465.11,67.66 463.35,68.16 461.60,68.82 459.84,69.58 458.08,70.37 456.32,71.11 454.56,71.76 452.80,72.24 451.74,72.41 451.04,72.50 449.28,72.69 447.52,72.85 445.76,73.00 444.00,73.12 442.24,73.24 440.48,73.34 438.72,73.44 436.96,73.53 435.20,73.63 433.44,73.73 431.68,73.84 429.92,73.96 428.25,74.10 428.16,74.10 426.40,74.25 424.64,74.40 422.89,74.56 421.13,74.73 419.37,74.91 417.61,75.11 416.29,75.28 415.85,75.34 414.09,75.58 412.33,75.85 410.57,76.15 408.81,76.48 407.05,76.84 405.29,77.23 403.53,77.66 401.77,78.11 401.66,78.14 400.01,78.65 398.25,79.29 396.49,80.02 394.73,80.81 392.97,81.63 392.15,82.02 391.21,82.49 389.45,83.46 387.69,84.49 385.93,85.49 384.84,86.06 384.18,86.39 382.42,87.24 380.66,88.01 380.45,88.09 378.90,88.64 377.53,89.10 377.14,89.23 375.38,89.84 374.24,90.28 373.62,90.53 371.86,91.35 370.95,91.96 370.10,92.88 368.34,96.02 367.65,97.52 366.58,100.48 365.10,105.95 364.82,107.10 363.06,116.10 362.17,121.96 361.30,128.77 359.98,143.87 359.54,151.65 357.78,204.55 M357.78,204.55 359.54,162.07 359.61,160.73 361.30,132.84 361.66,128.70 363.06,116.94 364.36,108.48 364.82,105.62 366.57,95.87 366.78,95.00 368.33,88.90 370.09,84.22 370.21,84.04 371.85,82.34 373.51,81.18 373.61,81.11 375.37,80.10 376.80,79.32 377.13,79.12 378.88,77.94 379.72,77.47 380.64,77.05 382.40,76.37 384.11,75.78 384.16,75.77 385.92,75.18 387.68,74.63 389.44,74.12 391.19,73.65 391.42,73.59 392.95,73.21 394.71,72.80 396.47,72.41 398.23,72.04 399.99,71.70 401.66,71.40 401.75,71.39 403.50,71.10 405.26,70.84 407.02,70.59 408.78,70.36 410.54,70.13 412.30,69.91 414.05,69.68 415.81,69.44 416.29,69.38 417.57,69.20 419.33,68.94 421.09,68.69 422.85,68.43 424.61,68.18 426.36,67.94 428.12,67.70 428.21,67.69 429.88,67.49 431.64,67.29 433.40,67.11 435.16,66.93 436.92,66.74 438.67,66.53 440.43,66.30 442.19,66.03 442.30,66.01 443.95,65.65 445.71,65.12 447.47,64.49 449.23,63.78 450.98,63.03 452.74,62.30 454.50,61.61 456.26,61.01 458.02,60.53 459.78,60.21 461.08,60.11 461.54,60.09 463.29,60.04 465.05,60.00 466.81,59.96 468.57,59.92 470.33,59.89 472.09,59.87 473.84,59.84 475.60,59.82 477.36,59.81 479.12,59.79 480.88,59.77 482.64,59.75 484.40,59.73 486.15,59.71 487.91,59.69 489.67,59.66 491.43,59.62 492.35,59.60 493.19,59.59 494.95,59.55 496.71,59.52 498.46,59.48 500.22,59.44 501.98,59.39 503.74,59.33 505.50,59.26 507.26,59.17 508.44,59.10 509.02,59.06 510.77,58.83 512.10,58.42 512.53,57.70 513.41,52.86 514.00,36.01 514.29,10.73 M514.69,10.73 514.47,44.43 514.11,59.60 513.23,66.34 512.94,66.42 511.18,66.64 510.30,66.68 509.43,66.71 507.68,66.77 505.92,66.82 504.17,66.86 502.41,66.89 500.66,66.91 498.91,66.94 497.15,66.96 495.40,66.98 493.64,67.01 492.75,67.02 491.89,67.03 490.14,67.06 488.38,67.08 486.63,67.09 484.88,67.11 483.12,67.13 481.37,67.14 479.61,67.16 477.86,67.17 476.11,67.20 474.35,67.22 472.60,67.25 470.85,67.28 469.09,67.32 467.86,67.36 467.34,67.38 465.58,67.66 463.83,68.16 462.08,68.82 460.32,69.58 458.57,70.37 456.81,71.11 455.06,71.76 453.31,72.24 452.25,72.41 451.55,72.50 449.80,72.69 448.05,72.85 446.29,72.99 444.54,73.12 442.78,73.23 441.03,73.34 439.28,73.43 437.52,73.53 435.77,73.63 434.01,73.73 432.26,73.84 430.51,73.96 428.84,74.10 428.75,74.10 427.00,74.26 425.25,74.41 423.49,74.57 421.74,74.74 419.98,74.93 418.23,75.13 417.11,75.28 416.48,75.36 414.72,75.61 412.97,75.89 411.21,76.19 409.46,76.52 407.71,76.88 405.95,77.27 404.20,77.69 402.48,78.14 402.45,78.15 400.69,78.69 398.94,79.34 397.18,80.08 395.43,80.86 393.68,81.69 392.97,82.02 391.92,82.54 390.17,83.52 388.42,84.55 386.66,85.54 385.66,86.06 384.91,86.44 383.15,87.28 381.40,88.04 381.27,88.09 379.65,88.66 378.35,89.10 377.89,89.25 376.14,89.86 375.06,90.28 374.38,90.55 372.63,91.37 371.76,91.96 370.88,92.93 369.12,96.09 368.47,97.52 367.37,100.58 365.91,105.95 365.62,107.20 363.86,116.20 362.99,121.96 362.11,128.87 360.79,143.87 360.35,151.77 358.60,204.55 M358.60,204.55 360.35,162.18 360.43,160.73 362.11,132.98 362.48,128.70 363.86,117.06 365.18,108.48 365.61,105.76 367.36,96.00 367.60,95.00 369.12,89.02 370.87,84.28 371.03,84.04 372.62,82.37 374.32,81.18 374.38,81.14 376.13,80.13 377.61,79.32 377.88,79.16 379.63,77.99 380.54,77.47 381.39,77.08 383.14,76.40 384.89,75.79 384.93,75.78 386.64,75.21 388.40,74.66 390.15,74.15 391.90,73.68 392.24,73.59 393.66,73.24 395.41,72.83 397.16,72.43 398.91,72.07 400.67,71.72 402.42,71.41 402.48,71.40 404.17,71.12 405.93,70.86 407.68,70.62 409.43,70.38 411.18,70.16 412.94,69.93 414.69,69.71 416.44,69.47 417.11,69.38 418.20,69.22 419.95,68.97 421.70,68.71 423.45,68.45 425.21,68.19 426.96,67.94 428.71,67.70 428.80,67.69 430.47,67.49 432.22,67.29 433.97,67.11 435.72,66.93 437.48,66.74 439.23,66.53 440.98,66.30 442.73,66.03 442.84,66.01 444.49,65.65 446.24,65.12 447.99,64.49 449.75,63.78 451.50,63.04 453.25,62.30 455.00,61.61 456.76,61.01 458.51,60.53 460.26,60.21 461.56,60.11 462.02,60.09 463.77,60.04 465.52,60.00 467.27,59.96 469.03,59.92 470.78,59.89 472.53,59.87 474.29,59.84 476.04,59.82 477.79,59.81 479.54,59.79 481.30,59.77 483.05,59.75 484.80,59.73 486.56,59.71 488.31,59.68 490.06,59.65 491.81,59.62 492.66,59.60 493.57,59.58 495.32,59.55 497.07,59.51 498.82,59.48 500.58,59.44 502.33,59.39 504.08,59.33 505.84,59.25 507.59,59.17 508.75,59.10 509.34,59.06 511.09,58.82 512.41,58.42 512.85,57.69 513.72,52.86 514.31,36.01 514.60,10.73 M515.00,10.73 514.78,44.43 514.41,59.60 513.54,66.34 513.25,66.42 511.50,66.64 510.61,66.68 509.74,66.71 507.99,66.77 506.24,66.82 504.49,66.86 502.74,66.89 500.99,66.91 499.23,66.94 497.48,66.96 495.73,66.98 493.98,67.00 493.06,67.02 492.23,67.03 490.48,67.06 488.72,67.08 486.97,67.09 485.22,67.11 483.47,67.13 481.72,67.14 479.97,67.16 478.21,67.17 476.46,67.20 474.71,67.22 472.96,67.25 471.21,67.28 469.46,67.32 468.23,67.36 467.70,67.38 465.95,67.66 464.20,68.16 462.45,68.82 460.70,69.58 458.95,70.37 457.19,71.11 455.44,71.76 453.69,72.24 452.64,72.41 451.94,72.50 450.19,72.69 448.44,72.85 446.68,72.99 444.93,73.12 443.18,73.23 441.43,73.34 439.68,73.43 437.93,73.53 436.17,73.63 434.42,73.73 432.67,73.84 430.92,73.96 429.26,74.10 429.17,74.10 427.42,74.26 425.66,74.41 423.91,74.57 422.16,74.75 420.41,74.94 418.66,75.14 417.61,75.28 416.91,75.37 415.15,75.62 413.40,75.90 411.65,76.20 409.90,76.53 408.15,76.89 406.40,77.28 404.64,77.71 402.98,78.14 402.89,78.17 401.14,78.71 399.39,79.36 397.64,80.10 395.89,80.89 394.13,81.71 393.47,82.02 392.38,82.57 390.63,83.54 388.88,84.57 387.13,85.56 386.16,86.06 385.38,86.45 383.62,87.29 381.87,88.05 381.77,88.09 380.12,88.67 378.85,89.10 378.37,89.26 376.62,89.86 375.56,90.28 374.87,90.56 373.11,91.38 372.26,91.96 371.36,92.95 369.61,96.12 368.97,97.52 367.86,100.61 366.41,105.95 366.11,107.24 364.36,116.24 363.49,121.96 362.60,128.91 361.29,143.87 360.85,151.82 359.10,204.55" stroke="#222222" stroke-width="1.8"/><path d="M339.60,204.55 341.43,160.73 341.49,159.60 343.38,129.78 343.48,128.70 345.26,114.33 346.18,108.48 347.15,102.45 348.60,95.00 349.04,93.20 350.93,86.65 352.03,84.04 352.81,82.69 354.70,80.28 355.32,79.83 356.59,79.27 358.48,78.69 358.61,78.65 360.36,78.15 361.54,77.81 362.25,77.56 364.14,76.83 365.93,76.12 366.03,76.08 367.91,75.36 369.80,74.64 371.69,73.95 373.24,73.42 373.58,73.32 375.47,72.72 377.35,72.15 379.24,71.61 381.13,71.11 383.02,70.66 383.48,70.56 384.90,70.26 386.79,69.87 388.68,69.51 390.57,69.17 392.45,68.85 394.34,68.55 396.23,68.28 398.11,68.03 398.12,68.03 400.00,67.80 401.89,67.57 403.78,67.36 405.67,67.16 407.56,66.97 409.44,66.80 411.33,66.63 413.22,66.49 415.11,66.35 415.20,66.34 416.99,66.23 418.88,66.13 420.77,66.03 422.66,65.95 424.54,65.87 426.43,65.80 428.32,65.74 430.21,65.67 432.09,65.61 433.98,65.55 435.87,65.48 437.76,65.41 439.64,65.33 441.53,65.25 443.42,65.15 445.31,65.04 447.20,64.92 449.08,64.78 450.48,64.66 450.97,64.61 452.86,64.31 454.75,63.85 456.63,63.29 458.52,62.67 460.41,62.02 462.30,61.39 464.18,60.82 466.07,60.36 467.96,60.04 468.96,59.94 469.85,59.88 471.73,59.77 473.62,59.68 475.51,59.61 477.40,59.54 479.29,59.48 481.17,59.42 483.06,59.36 484.95,59.29 485.66,59.27 486.84,59.22 488.72,59.16 490.61,59.10 492.50,59.04 494.39,58.98 496.27,58.91 498.16,58.82 500.05,58.71 501.75,58.59 501.94,58.58 503.82,58.37 505.41,57.92 505.71,57.56 506.72,52.86 507.31,36.01 507.60,10.73 M508.00,10.73 507.78,44.43 507.41,59.60 506.54,66.01 506.12,66.11 504.23,66.32 503.61,66.34 502.35,66.39 500.47,66.45 498.58,66.49 496.70,66.52 494.82,66.55 492.93,66.57 491.05,66.60 489.17,66.62 487.29,66.66 486.06,66.68 485.40,66.70 483.52,66.74 481.64,66.78 479.75,66.82 477.87,66.88 475.99,66.95 474.48,67.02 474.10,67.05 472.22,67.36 470.34,67.93 468.45,68.66 466.57,69.47 464.69,70.27 462.80,70.98 460.92,71.50 459.40,71.74 459.04,71.77 457.16,71.92 455.27,72.05 453.39,72.17 451.51,72.27 449.62,72.36 447.74,72.45 445.86,72.52 443.97,72.58 442.09,72.64 440.21,72.69 438.32,72.74 436.44,72.79 434.56,72.84 432.67,72.89 430.79,72.94 428.91,72.99 427.02,73.05 425.14,73.12 423.26,73.19 421.38,73.28 419.49,73.37 417.61,73.48 415.82,73.59 415.73,73.60 413.84,73.74 411.96,73.91 410.08,74.10 408.19,74.31 406.31,74.54 404.43,74.79 402.54,75.06 400.66,75.34 398.91,75.61 398.78,75.63 396.89,75.96 395.01,76.34 393.13,76.75 391.24,77.19 389.36,77.66 387.48,78.14 385.60,78.64 384.28,78.99 383.71,79.14 381.83,79.67 379.95,80.23 378.06,80.82 376.18,81.41 374.77,81.85 374.30,82.00 372.41,82.63 370.53,83.27 368.65,83.87 367.46,84.21 366.76,84.38 364.88,84.79 363.07,85.22 363.00,85.24 361.11,85.85 360.15,86.23 359.23,86.64 357.35,87.63 356.86,87.92 355.47,88.76 353.58,90.26 353.56,90.28 351.70,92.89 350.27,95.84 349.82,97.05 347.93,104.15 347.71,105.11 346.05,113.61 344.79,121.96 344.17,126.75 342.59,143.87 342.28,149.16 340.40,204.55 M340.40,204.55 342.23,160.73 342.28,159.73 344.16,129.92 344.28,128.70 346.04,114.46 346.98,108.48 347.92,102.61 349.40,95.00 349.81,93.33 351.69,86.76 352.83,84.04 353.57,82.77 355.45,80.33 356.12,79.83 357.33,79.29 359.21,78.71 359.41,78.65 361.09,78.17 362.34,77.81 362.97,77.59 364.85,76.86 366.73,76.12 366.74,76.12 368.62,75.40 370.50,74.68 372.38,73.99 374.04,73.42 374.26,73.35 376.14,72.76 378.02,72.19 379.90,71.65 381.78,71.15 383.67,70.69 384.28,70.56 385.55,70.29 387.43,69.90 389.31,69.54 391.19,69.20 393.07,68.88 394.95,68.58 396.83,68.31 398.71,68.05 398.91,68.03 400.60,67.82 402.48,67.59 404.36,67.38 406.24,67.17 408.12,66.98 410.00,66.80 411.88,66.64 413.76,66.49 415.64,66.35 415.74,66.34 417.53,66.23 419.41,66.12 421.29,66.03 423.17,65.95 425.05,65.87 426.93,65.80 428.81,65.74 430.69,65.67 432.57,65.61 434.46,65.55 436.34,65.48 438.22,65.41 440.10,65.33 441.98,65.25 443.86,65.15 445.74,65.04 447.62,64.92 449.50,64.78 450.90,64.66 451.39,64.61 453.27,64.31 455.15,63.85 457.03,63.30 458.91,62.67 460.79,62.02 462.67,61.39 464.55,60.82 466.43,60.36 468.32,60.04 469.31,59.94 470.20,59.88 472.08,59.77 473.96,59.68 475.84,59.61 477.72,59.54 479.60,59.48 481.48,59.42 483.36,59.36 485.24,59.29 485.88,59.27 487.13,59.22 489.01,59.15 490.89,59.10 492.77,59.04 494.65,58.98 496.53,58.91 498.41,58.82 500.29,58.71 501.97,58.59 502.17,58.58 504.06,58.36 505.62,57.92 505.94,57.55 506.94,52.86 507.53,36.01 507.82,10.73 M508.22,10.73 508.00,44.43 507.63,59.60 506.76,66.01 506.34,66.11 504.46,66.32 503.83,66.34 502.59,66.39 500.71,66.45 498.84,66.49 496.96,66.52 495.08,66.55 493.21,66.57 491.33,66.59 489.45,66.62 487.58,66.65 486.28,66.68 485.70,66.70 483.82,66.74 481.95,66.78 480.07,66.82 478.19,66.88 476.32,66.95 474.81,67.02 474.44,67.05 472.56,67.36 470.69,67.93 468.81,68.67 466.93,69.47 465.06,70.27 463.18,70.98 461.30,71.50 459.78,71.74 459.43,71.77 457.55,71.92 455.67,72.05 453.80,72.17 451.92,72.27 450.04,72.36 448.17,72.44 446.29,72.52 444.41,72.58 442.54,72.64 440.66,72.69 438.78,72.74 436.91,72.79 435.03,72.84 433.15,72.89 431.28,72.94 429.40,72.99 427.52,73.05 425.65,73.12 423.77,73.19 421.89,73.28 420.02,73.37 418.14,73.48 416.36,73.59 416.26,73.60 414.39,73.74 412.51,73.91 410.63,74.11 408.76,74.32 406.88,74.56 405.00,74.81 403.13,75.09 401.25,75.37 399.71,75.61 399.37,75.67 397.50,76.00 395.62,76.38 393.75,76.79 391.87,77.24 389.99,77.70 388.12,78.19 386.24,78.68 385.08,78.99 384.36,79.18 382.49,79.71 380.61,80.27 378.73,80.86 376.86,81.45 375.57,81.85 374.98,82.04 373.10,82.67 371.23,83.31 369.35,83.90 368.26,84.21 367.47,84.40 365.60,84.81 363.87,85.22 363.72,85.26 361.84,85.88 360.95,86.23 359.97,86.67 358.09,87.66 357.66,87.92 356.21,88.79 354.36,90.28 354.34,90.31 352.46,92.96 351.07,95.84 350.58,97.14 348.71,104.26 348.51,105.11 346.83,113.73 345.59,121.96 344.95,126.86 343.39,143.87 343.08,149.29 341.20,204.55 M341.20,204.55 343.03,160.73 343.07,159.85 344.95,130.07 345.08,128.70 346.82,114.59 347.78,108.48 348.70,102.77 350.20,95.00 350.57,93.46 352.45,86.87 353.63,84.04 354.32,82.84 356.20,80.37 356.92,79.83 358.07,79.31 359.95,78.73 360.21,78.65 361.82,78.19 363.14,77.81 363.69,77.62 365.57,76.90 367.44,76.15 367.53,76.12 369.32,75.44 371.19,74.72 373.07,74.03 374.84,73.42 374.94,73.39 376.82,72.80 378.69,72.23 380.57,71.69 382.44,71.18 384.32,70.73 385.08,70.56 386.19,70.32 388.06,69.94 389.94,69.58 391.81,69.23 393.69,68.91 395.56,68.62 397.44,68.34 399.31,68.08 399.71,68.03 401.19,67.84 403.06,67.61 404.94,67.39 406.81,67.19 408.68,66.99 410.56,66.81 412.43,66.64 414.31,66.49 416.18,66.35 416.28,66.34 418.06,66.23 419.93,66.12 421.81,66.03 423.68,65.94 425.56,65.87 427.43,65.80 429.30,65.73 431.18,65.67 433.05,65.61 434.93,65.55 436.80,65.48 438.68,65.41 440.55,65.33 442.43,65.25 444.30,65.15 446.18,65.04 448.05,64.92 449.92,64.78 451.31,64.66 451.80,64.61 453.67,64.31 455.55,63.85 457.42,63.30 459.30,62.67 461.17,62.02 463.05,61.39 464.92,60.83 466.80,60.36 468.67,60.04 469.66,59.94 470.55,59.88 472.42,59.77 474.29,59.68 476.17,59.61 478.04,59.54 479.92,59.48 481.79,59.42 483.67,59.36 485.54,59.29 486.10,59.27 487.42,59.21 489.29,59.15 491.17,59.09 493.04,59.04 494.91,58.98 496.79,58.91 498.66,58.82 500.54,58.71 502.19,58.59 502.41,58.57 504.29,58.36 505.84,57.92 506.16,57.53 507.16,52.86 507.74,36.01 508.04,10.73 M508.44,10.73 508.22,44.43 507.85,59.60 506.97,66.01 506.57,66.11 504.70,66.32 504.05,66.34 502.83,66.39 500.96,66.44 499.09,66.49 497.22,66.52 495.35,66.55 493.48,66.57 491.61,66.59 489.74,66.62 487.87,66.65 486.50,66.68 486.00,66.69 484.13,66.73 482.26,66.78 480.39,66.82 478.52,66.88 476.65,66.95 475.15,67.02 474.78,67.05 472.91,67.37 471.03,67.93 469.16,68.67 467.29,69.47 465.42,70.28 463.55,70.98 461.68,71.50 460.17,71.74 459.81,71.77 457.94,71.92 456.07,72.05 454.20,72.17 452.33,72.27 450.46,72.36 448.59,72.44 446.72,72.52 444.85,72.58 442.98,72.64 441.11,72.69 439.24,72.74 437.37,72.79 435.50,72.84 433.63,72.88 431.76,72.93 429.89,72.99 428.02,73.05 426.15,73.12 424.28,73.19 422.41,73.27 420.54,73.37 418.67,73.48 416.90,73.59 416.80,73.60 414.93,73.74 413.06,73.92 411.19,74.11 409.32,74.33 407.45,74.58 405.58,74.84 403.71,75.11 401.84,75.40 400.51,75.61 399.97,75.70 398.10,76.04 396.23,76.42 394.36,76.84 392.49,77.28 390.62,77.75 388.75,78.23 386.88,78.72 385.88,78.99 385.01,79.22 383.14,79.75 381.27,80.32 379.40,80.90 377.53,81.49 376.37,81.85 375.66,82.08 373.79,82.71 371.92,83.34 370.05,83.93 369.06,84.21 368.18,84.42 366.31,84.82 364.67,85.22 364.44,85.29 362.57,85.91 361.75,86.23 360.70,86.70 358.83,87.70 358.46,87.92 356.96,88.83 355.16,90.28 355.09,90.35 353.22,93.03 351.87,95.84 351.35,97.24 349.48,104.37 349.31,105.11 347.61,113.84 346.39,121.96 345.74,126.97 344.19,143.87 343.87,149.42 342.00,204.55 M342.00,204.55 343.83,160.73 343.87,159.97 345.74,130.21 345.88,128.70 347.60,114.72 348.58,108.48 349.47,102.92 351.00,95.00 351.34,93.59 353.21,86.99 354.43,84.04 355.08,82.92 356.94,80.42 357.72,79.83 358.81,79.33 360.68,78.75 361.01,78.65 362.55,78.21 363.94,77.81 364.42,77.64 366.28,76.93 368.15,76.19 368.33,76.12 370.02,75.47 371.89,74.76 373.76,74.07 375.62,73.43 375.64,73.42 377.49,72.84 379.36,72.27 381.23,71.73 383.10,71.22 384.96,70.76 385.88,70.56 386.83,70.35 388.70,69.97 390.57,69.61 392.44,69.27 394.30,68.95 396.17,68.65 398.04,68.37 399.91,68.11 400.51,68.03 401.78,67.87 403.64,67.63 405.51,67.41 407.38,67.20 409.25,67.00 411.12,66.82 412.99,66.64 414.85,66.49 416.72,66.35 416.81,66.34 418.59,66.23 420.46,66.12 422.33,66.03 424.19,65.94 426.06,65.87 427.93,65.80 429.80,65.73 431.67,65.67 433.53,65.61 435.40,65.55 437.27,65.48 439.14,65.41 441.01,65.33 442.87,65.25 444.74,65.15 446.61,65.04 448.48,64.92 450.35,64.77 451.73,64.66 452.21,64.61 454.08,64.31 455.95,63.85 457.82,63.30 459.69,62.67 461.55,62.02 463.42,61.39 465.29,60.83 467.16,60.36 469.03,60.04 470.02,59.94 470.89,59.88 472.76,59.77 474.63,59.68 476.50,59.60 478.37,59.54 480.23,59.48 482.10,59.42 483.97,59.36 485.84,59.29 486.31,59.27 487.71,59.21 489.57,59.15 491.44,59.09 493.31,59.04 495.18,58.98 497.05,58.90 498.91,58.82 500.78,58.71 502.40,58.59 502.65,58.57 504.52,58.36 506.06,57.92 506.39,57.52 507.38,52.86 507.96,36.01 508.25,10.73 M508.65,10.73 508.44,44.43 508.07,59.60 507.19,66.01 506.79,66.10 504.93,66.32 504.27,66.34 503.06,66.39 501.20,66.44 499.34,66.49 497.47,66.52 495.61,66.55 493.75,66.57 491.88,66.59 490.02,66.62 488.16,66.65 486.71,66.68 486.29,66.69 484.43,66.73 482.57,66.77 480.70,66.82 478.84,66.88 476.97,66.95 475.48,67.02 475.11,67.05 473.25,67.37 471.38,67.93 469.52,68.67 467.66,69.48 465.79,70.28 463.93,70.98 462.07,71.50 460.56,71.74 460.20,71.77 458.34,71.92 456.48,72.05 454.61,72.17 452.75,72.27 450.88,72.36 449.02,72.44 447.16,72.51 445.29,72.58 443.43,72.64 441.57,72.69 439.70,72.74 437.84,72.79 435.98,72.83 434.11,72.88 432.25,72.93 430.39,72.99 428.52,73.05 426.66,73.11 424.80,73.19 422.93,73.27 421.07,73.37 419.20,73.48 417.43,73.59 417.34,73.60 415.48,73.74 413.61,73.92 411.75,74.12 409.89,74.35 408.02,74.59 406.16,74.86 404.30,75.14 402.43,75.43 401.31,75.61 400.57,75.74 398.71,76.08 396.84,76.47 394.98,76.88 393.12,77.33 391.25,77.79 389.39,78.27 387.52,78.76 386.68,78.99 385.66,79.26 383.80,79.79 381.93,80.36 380.07,80.94 378.21,81.53 377.17,81.85 376.34,82.12 374.48,82.74 372.62,83.37 370.75,83.96 369.86,84.21 368.89,84.45 367.03,84.84 365.47,85.22 365.16,85.31 363.30,85.94 362.55,86.23 361.44,86.73 359.57,87.73 359.26,87.92 357.71,88.86 355.96,90.28 355.84,90.40 353.98,93.11 352.67,95.84 352.12,97.34 350.25,104.49 350.11,105.11 348.39,113.96 347.19,121.96 346.53,127.08 344.99,143.87 344.66,149.54 342.80,204.55 M342.80,204.55 344.63,160.73 344.66,160.10 346.52,130.36 346.68,128.70 348.38,114.85 349.38,108.48 350.25,103.08 351.80,95.00 352.11,93.72 353.97,87.10 355.23,84.04 355.83,83.00 357.69,80.47 358.52,79.83 359.55,79.35 361.41,78.77 361.81,78.65 363.28,78.23 364.74,77.81 365.14,77.67 367.00,76.96 368.86,76.22 369.13,76.12 370.72,75.51 372.58,74.80 374.45,74.11 376.31,73.47 376.44,73.42 378.17,72.88 380.03,72.31 381.89,71.76 383.75,71.26 385.61,70.80 386.68,70.56 387.48,70.39 389.34,70.00 391.20,69.64 393.06,69.30 394.92,68.98 396.78,68.68 398.64,68.40 400.51,68.14 401.31,68.03 402.37,67.89 404.23,67.66 406.09,67.43 407.95,67.22 409.81,67.01 411.68,66.82 413.54,66.65 415.40,66.49 417.26,66.35 417.35,66.34 419.12,66.23 420.98,66.12 422.84,66.03 424.71,65.94 426.57,65.86 428.43,65.79 430.29,65.73 432.15,65.67 434.01,65.61 435.87,65.54 437.74,65.48 439.60,65.41 441.46,65.33 443.32,65.25 445.18,65.15 447.04,65.04 448.91,64.92 450.77,64.77 452.14,64.66 452.63,64.61 454.49,64.31 456.35,63.86 458.21,63.30 460.07,62.67 461.94,62.02 463.80,61.40 465.66,60.83 467.52,60.36 469.38,60.04 470.37,59.94 471.24,59.88 473.10,59.77 474.97,59.68 476.83,59.60 478.69,59.54 480.55,59.48 482.41,59.42 484.27,59.35 486.13,59.28 486.53,59.27 488.00,59.21 489.86,59.15 491.72,59.09 493.58,59.03 495.44,58.97 497.30,58.90 499.17,58.82 501.03,58.71 502.62,58.59 502.89,58.57 504.75,58.36 506.28,57.92 506.61,57.51 507.60,52.86 508.18,36.01 508.47,10.73 M508.87,10.73 508.65,44.43 508.29,59.60 507.41,66.01 507.02,66.10 505.16,66.32 504.48,66.34 503.30,66.39 501.44,66.44 499.59,66.49 497.73,66.52 495.87,66.55 494.02,66.57 492.16,66.59 490.30,66.62 488.45,66.65 486.93,66.68 486.59,66.69 484.73,66.73 482.87,66.77 481.02,66.82 479.16,66.88 477.30,66.95 475.82,67.02 475.45,67.05 473.59,67.37 471.73,67.94 469.88,68.67 468.02,69.48 466.16,70.28 464.30,70.98 462.45,71.50 460.94,71.74 460.59,71.77 458.73,71.92 456.88,72.05 455.02,72.17 453.16,72.27 451.31,72.36 449.45,72.44 447.59,72.51 445.73,72.58 443.88,72.64 442.02,72.69 440.16,72.74 438.31,72.78 436.45,72.83 434.59,72.88 432.74,72.93 430.88,72.98 429.02,73.04 427.16,73.11 425.31,73.19 423.45,73.27 421.59,73.37 419.74,73.48 417.97,73.59 417.88,73.60 416.02,73.75 414.17,73.92 412.31,74.13 410.45,74.36 408.59,74.61 406.74,74.88 404.88,75.17 403.02,75.46 402.11,75.61 401.17,75.77 399.31,76.12 397.45,76.51 395.60,76.93 393.74,77.37 391.88,77.84 390.02,78.32 388.17,78.80 387.48,78.99 386.31,79.30 384.45,79.84 382.60,80.40 380.74,80.98 378.88,81.56 377.97,81.85 377.03,82.15 375.17,82.78 373.31,83.41 371.45,83.99 370.66,84.21 369.60,84.47 367.74,84.86 366.27,85.22 365.88,85.33 364.03,85.96 363.35,86.23 362.17,86.76 360.31,87.76 360.06,87.92 358.46,88.90 356.76,90.28 356.60,90.45 354.74,93.18 353.47,95.84 352.88,97.44 351.03,104.60 350.91,105.11 349.17,114.08 347.99,121.96 347.31,127.18 345.79,143.87 345.46,149.67 343.60,204.55 M343.60,204.55 345.43,160.73 345.45,160.22 347.31,130.51 347.48,128.70 349.16,114.98 350.18,108.48 351.02,103.24 352.60,95.00 352.87,93.86 354.73,87.22 356.03,84.04 356.58,83.07 358.44,80.53 359.32,79.83 360.29,79.37 362.15,78.79 362.61,78.65 364.00,78.25 365.54,77.81 365.86,77.70 367.71,77.00 369.57,76.26 369.93,76.12 371.42,75.55 373.28,74.84 375.13,74.15 376.99,73.50 377.24,73.42 378.84,72.91 380.70,72.34 382.55,71.80 384.41,71.30 386.26,70.83 387.48,70.56 388.12,70.42 389.97,70.04 391.83,69.68 393.68,69.33 395.54,69.01 397.39,68.71 399.25,68.43 401.10,68.17 402.11,68.03 402.96,67.92 404.81,67.68 406.67,67.45 408.52,67.23 410.38,67.02 412.23,66.83 414.09,66.65 415.94,66.49 417.80,66.35 417.89,66.34 419.65,66.23 421.51,66.12 423.36,66.02 425.22,65.94 427.07,65.86 428.93,65.79 430.78,65.73 432.64,65.67 434.49,65.60 436.35,65.54 438.20,65.48 440.06,65.41 441.91,65.33 443.77,65.24 445.62,65.15 447.48,65.04 449.33,64.92 451.19,64.77 452.56,64.66 453.04,64.61 454.90,64.31 456.75,63.86 458.61,63.30 460.46,62.67 462.32,62.03 464.17,61.40 466.03,60.83 467.88,60.36 469.74,60.04 470.72,59.94 471.59,59.88 473.45,59.77 475.30,59.68 477.16,59.60 479.01,59.53 480.87,59.47 482.72,59.41 484.58,59.35 486.43,59.28 486.75,59.27 488.29,59.21 490.14,59.14 492.00,59.09 493.85,59.03 495.71,58.97 497.56,58.90 499.42,58.81 501.27,58.70 502.84,58.59 503.13,58.57 504.98,58.35 506.50,57.92 506.84,57.49 507.81,52.86 508.40,36.01 508.69,10.73 M509.09,10.73 508.87,44.43 508.51,59.60 507.63,66.01 507.24,66.10 505.39,66.32 504.70,66.34 503.54,66.39 501.69,66.44 499.84,66.49 497.99,66.52 496.14,66.54 494.29,66.57 492.44,66.59 490.59,66.62 488.74,66.65 487.15,66.68 486.89,66.69 485.03,66.73 483.18,66.77 481.33,66.82 479.48,66.87 477.63,66.95 476.15,67.02 475.78,67.05 473.93,67.37 472.08,67.94 470.23,68.67 468.38,69.48 466.53,70.28 464.68,70.98 462.83,71.50 461.33,71.74 460.98,71.77 459.13,71.92 457.28,72.05 455.43,72.17 453.58,72.27 451.73,72.36 449.88,72.44 448.03,72.51 446.18,72.58 444.32,72.63 442.47,72.69 440.62,72.74 438.77,72.78 436.92,72.83 435.07,72.88 433.22,72.93 431.37,72.98 429.52,73.04 427.67,73.11 425.82,73.18 423.97,73.27 422.12,73.37 420.27,73.47 418.51,73.59 418.42,73.60 416.57,73.75 414.72,73.93 412.87,74.14 411.02,74.37 409.17,74.63 407.32,74.91 405.47,75.20 403.61,75.50 402.91,75.61 401.76,75.81 399.91,76.17 398.06,76.56 396.21,76.98 394.36,77.42 392.51,77.88 390.66,78.36 388.81,78.85 388.28,78.99 386.96,79.34 385.11,79.88 383.26,80.44 381.41,81.02 379.56,81.60 378.77,81.85 377.71,82.19 375.86,82.82 374.01,83.44 372.16,84.02 371.46,84.21 370.31,84.49 368.46,84.88 367.07,85.22 366.61,85.36 364.76,85.99 364.15,86.23 362.90,86.79 361.05,87.80 360.86,87.92 359.20,88.93 357.56,90.28 357.35,90.50 355.50,93.25 354.27,95.84 353.65,97.54 351.80,104.72 351.71,105.11 349.95,114.19 348.79,121.96 348.10,127.29 346.59,143.87 346.25,149.80 344.40,204.55 M344.40,204.55 346.23,160.73 346.25,160.34 348.10,130.66 348.28,128.70 349.95,115.11 350.98,108.48 351.79,103.40 353.40,95.00 353.64,93.99 355.49,87.34 356.83,84.04 357.34,83.15 359.19,80.58 360.12,79.83 361.04,79.40 362.88,78.81 363.41,78.65 364.73,78.27 366.34,77.81 366.58,77.73 368.43,77.03 370.28,76.29 370.73,76.12 372.13,75.59 373.97,74.88 375.82,74.19 377.67,73.54 378.04,73.42 379.52,72.95 381.37,72.38 383.22,71.84 385.07,71.33 386.91,70.87 388.28,70.56 388.76,70.45 390.61,70.07 392.46,69.71 394.31,69.37 396.16,69.05 398.00,68.74 399.85,68.46 401.70,68.19 402.91,68.03 403.55,67.94 405.40,67.70 407.25,67.47 409.09,67.25 410.94,67.03 412.79,66.84 414.64,66.66 416.49,66.49 418.34,66.35 418.43,66.34 420.19,66.23 422.03,66.12 423.88,66.02 425.73,65.94 427.58,65.86 429.43,65.79 431.28,65.73 433.12,65.66 434.97,65.60 436.82,65.54 438.67,65.48 440.52,65.41 442.37,65.33 444.21,65.24 446.06,65.15 447.91,65.04 449.76,64.92 451.61,64.77 452.98,64.66 453.46,64.61 455.31,64.31 457.15,63.86 459.00,63.30 460.85,62.67 462.70,62.03 464.55,61.40 466.40,60.83 468.24,60.36 470.09,60.04 471.07,59.94 471.94,59.88 473.79,59.77 475.64,59.68 477.49,59.60 479.33,59.53 481.18,59.47 483.03,59.41 484.88,59.35 486.73,59.28 486.97,59.27 488.58,59.20 490.42,59.14 492.27,59.09 494.12,59.03 495.97,58.97 497.82,58.90 499.67,58.81 501.52,58.70 503.06,58.59 503.36,58.57 505.21,58.35 506.72,57.92 507.06,57.48 508.03,52.86 508.62,36.01 508.91,10.73 M509.31,10.73 509.09,44.43 508.72,59.60 507.85,66.01 507.47,66.10 505.62,66.31 504.92,66.34 503.78,66.39 501.93,66.44 500.09,66.48 498.25,66.52 496.40,66.54 494.56,66.57 492.71,66.59 490.87,66.61 489.03,66.65 487.37,66.68 487.18,66.69 485.34,66.73 483.49,66.77 481.65,66.82 479.81,66.87 477.96,66.95 476.49,67.02 476.12,67.05 474.27,67.37 472.43,67.94 470.59,68.67 468.74,69.48 466.90,70.28 465.05,70.98 463.21,71.50 461.72,71.74 461.37,71.77 459.52,71.92 457.68,72.05 455.84,72.17 453.99,72.27 452.15,72.36 450.30,72.44 448.46,72.51 446.62,72.57 444.77,72.63 442.93,72.68 441.08,72.73 439.24,72.78 437.40,72.83 435.55,72.88 433.71,72.93 431.86,72.98 430.02,73.04 428.18,73.11 426.33,73.18 424.49,73.27 422.64,73.36 420.80,73.47 419.05,73.59 418.96,73.60 417.11,73.75 415.27,73.93 413.43,74.15 411.58,74.39 409.74,74.65 407.89,74.93 406.05,75.23 404.21,75.53 403.71,75.61 402.36,75.85 400.52,76.21 398.67,76.60 396.83,77.02 394.99,77.47 393.14,77.93 391.30,78.40 389.45,78.89 389.08,78.99 387.61,79.39 385.77,79.92 383.92,80.48 382.08,81.06 380.23,81.64 379.57,81.85 378.39,82.23 376.55,82.86 374.70,83.48 372.86,84.04 372.26,84.21 371.01,84.51 369.17,84.90 367.87,85.22 367.33,85.38 365.48,86.02 364.95,86.23 363.64,86.83 361.80,87.83 361.66,87.92 359.95,88.97 358.36,90.28 358.11,90.55 356.26,93.32 355.07,95.84 354.42,97.64 352.58,104.83 352.51,105.11 350.73,114.31 349.59,121.96 348.89,127.40 347.39,143.87 347.04,149.93 345.20,204.55 M345.20,204.55 347.03,160.73 347.04,160.47 348.88,130.81 349.08,128.70 350.73,115.24 351.78,108.48 352.57,103.56 354.20,95.00 354.41,94.12 356.25,87.46 357.63,84.04 358.09,83.23 359.94,80.63 360.92,79.83 361.78,79.42 363.62,78.83 364.21,78.65 365.46,78.29 367.14,77.81 367.30,77.75 369.14,77.07 370.99,76.33 371.53,76.12 372.83,75.62 374.67,74.92 376.51,74.23 378.35,73.58 378.84,73.42 380.20,72.99 382.04,72.42 383.88,71.88 385.72,71.37 387.56,70.91 389.08,70.56 389.41,70.49 391.25,70.10 393.09,69.74 394.93,69.40 396.77,69.08 398.61,68.78 400.46,68.49 402.30,68.22 403.71,68.03 404.14,67.97 405.98,67.73 407.82,67.49 409.67,67.26 411.51,67.05 413.35,66.85 415.19,66.66 417.03,66.50 418.88,66.35 418.97,66.34 420.72,66.23 422.56,66.12 424.40,66.02 426.24,65.94 428.08,65.86 429.93,65.79 431.77,65.72 433.61,65.66 435.45,65.60 437.29,65.54 439.14,65.47 440.98,65.41 442.82,65.33 444.66,65.24 446.50,65.15 448.35,65.04 450.19,64.92 452.03,64.77 453.39,64.66 453.87,64.61 455.71,64.31 457.55,63.86 459.40,63.30 461.24,62.67 463.08,62.03 464.92,61.40 466.76,60.83 468.61,60.36 470.45,60.04 471.42,59.94 472.29,59.88 474.13,59.77 475.97,59.68 477.82,59.60 479.66,59.53 481.50,59.47 483.34,59.41 485.18,59.34 487.02,59.27 487.19,59.27 488.87,59.20 490.71,59.14 492.55,59.08 494.39,59.03 496.23,58.97 498.08,58.90 499.92,58.81 501.76,58.70 503.28,58.59 503.60,58.57 505.44,58.35 506.93,57.92 507.29,57.47 508.25,52.86 508.83,36.01 509.13,10.73 M509.53,10.73 509.31,44.43 508.94,59.60 508.06,66.01 507.69,66.10 505.85,66.31 505.14,66.34 504.02,66.39 502.18,66.44 500.34,66.48 498.50,66.52 496.67,66.54 494.83,66.57 492.99,66.59 491.15,66.61 489.32,66.64 487.59,66.68 487.48,66.68 485.64,66.73 483.80,66.77 481.97,66.82 480.13,66.87 478.29,66.95 476.82,67.02 476.45,67.05 474.62,67.37 472.78,67.94 470.94,68.67 469.10,69.48 467.27,70.28 465.43,70.98 463.59,71.50 462.10,71.74 461.76,71.77 459.92,71.92 458.08,72.05 456.24,72.17 454.41,72.27 452.57,72.36 450.73,72.44 448.89,72.51 447.06,72.57 445.22,72.63 443.38,72.68 441.54,72.73 439.71,72.78 437.87,72.83 436.03,72.87 434.19,72.92 432.36,72.98 430.52,73.04 428.68,73.11 426.84,73.18 425.01,73.27 423.17,73.36 421.33,73.47 419.59,73.59 419.50,73.60 417.66,73.75 415.82,73.94 413.98,74.16 412.15,74.40 410.31,74.67 408.47,74.96 406.63,75.26 404.80,75.57 404.51,75.61 402.96,75.89 401.12,76.25 399.28,76.65 397.45,77.07 395.61,77.51 393.77,77.97 391.93,78.45 390.10,78.93 389.88,78.99 388.26,79.43 386.42,79.97 384.59,80.53 382.75,81.10 380.91,81.68 380.37,81.85 379.07,82.27 377.24,82.90 375.40,83.51 373.56,84.07 373.06,84.21 371.72,84.53 369.89,84.92 368.67,85.22 368.05,85.40 366.21,86.05 365.75,86.23 364.37,86.86 362.54,87.87 362.46,87.92 360.70,89.00 359.16,90.28 358.86,90.60 357.02,93.40 355.87,95.84 355.19,97.74 353.35,104.95 353.31,105.11 351.51,114.43 350.39,121.96 349.67,127.51 348.19,143.87 347.84,150.06 346.00,204.55 M346.00,204.55 347.83,160.73 347.84,160.59 349.67,130.96 349.88,128.70 351.51,115.37 352.58,108.48 353.34,103.72 355.00,95.00 355.18,94.25 357.01,87.58 358.43,84.04 358.85,83.31 360.68,80.69 361.72,79.83 362.52,79.44 364.35,78.85 365.01,78.65 366.19,78.31 367.94,77.81 368.02,77.78 369.86,77.10 371.69,76.36 372.33,76.12 373.53,75.66 375.37,74.96 377.20,74.27 379.04,73.62 379.64,73.42 380.87,73.03 382.71,72.46 384.54,71.92 386.38,71.41 388.21,70.94 389.88,70.56 390.05,70.52 391.88,70.14 393.72,69.78 395.55,69.43 397.39,69.11 399.22,68.81 401.06,68.52 402.90,68.25 404.51,68.03 404.73,68.00 406.57,67.75 408.40,67.51 410.24,67.28 412.07,67.06 413.91,66.85 415.74,66.67 417.58,66.50 419.41,66.35 419.51,66.34 421.25,66.23 423.08,66.12 424.92,66.02 426.76,65.93 428.59,65.86 430.43,65.79 432.26,65.72 434.10,65.66 435.93,65.60 437.77,65.54 439.60,65.47 441.44,65.40 443.27,65.33 445.11,65.24 446.94,65.15 448.78,65.04 450.61,64.92 452.45,64.77 453.81,64.66 454.29,64.61 456.12,64.31 457.96,63.86 459.79,63.30 461.63,62.67 463.46,62.03 465.30,61.40 467.13,60.83 468.97,60.36 470.80,60.04 471.78,59.94 472.64,59.88 474.47,59.77 476.31,59.68 478.14,59.60 479.98,59.53 481.82,59.47 483.65,59.41 485.49,59.34 487.32,59.27 487.41,59.27 489.16,59.20 490.99,59.14 492.83,59.08 494.66,59.03 496.50,58.97 498.33,58.89 500.17,58.81 502.00,58.70 503.49,58.59 503.84,58.56 505.67,58.35 507.15,57.92 507.51,57.45 508.47,52.86 509.05,36.01 509.35,10.73 M509.75,10.73 509.53,44.43 509.16,59.60 508.28,66.01 507.91,66.10 506.08,66.31 505.36,66.34 504.25,66.39 502.42,66.44 500.59,66.48 498.76,66.52 496.93,66.54 495.10,66.56 493.27,66.59 491.44,66.61 489.61,66.64 487.81,66.68 487.78,66.68 485.94,66.73 484.11,66.77 482.28,66.81 480.45,66.87 478.62,66.95 477.16,67.02 476.79,67.05 474.96,67.37 473.13,67.94 471.30,68.67 469.47,69.48 467.64,70.28 465.81,70.98 463.97,71.51 462.49,71.74 462.14,71.77 460.31,71.92 458.48,72.05 456.65,72.17 454.82,72.27 452.99,72.36 451.16,72.44 449.33,72.51 447.50,72.57 445.67,72.63 443.83,72.68 442.00,72.73 440.17,72.78 438.34,72.82 436.51,72.87 434.68,72.92 432.85,72.98 431.02,73.04 429.19,73.10 427.36,73.18 425.53,73.26 423.70,73.36 421.86,73.47 420.13,73.59 420.03,73.60 418.20,73.75 416.37,73.94 414.54,74.17 412.71,74.42 410.88,74.69 409.05,74.98 407.22,75.29 405.39,75.60 405.31,75.61 403.56,75.93 401.73,76.30 399.89,76.69 398.06,77.11 396.23,77.56 394.40,78.02 392.57,78.49 390.74,78.97 390.68,78.99 388.91,79.47 387.08,80.01 385.25,80.57 383.42,81.14 381.59,81.72 381.17,81.85 379.76,82.31 377.92,82.93 376.09,83.55 374.26,84.10 373.86,84.21 372.43,84.55 370.60,84.94 369.47,85.22 368.77,85.43 366.94,86.07 366.55,86.23 365.11,86.89 363.28,87.90 363.26,87.92 361.45,89.04 359.96,90.28 359.62,90.65 357.79,93.47 356.67,95.84 355.95,97.85 354.12,105.06 354.11,105.11 352.29,114.55 351.19,121.96 350.46,127.62 348.99,143.87 348.63,150.19 346.80,204.55 M346.80,204.55 348.63,160.73 348.63,160.72 350.46,131.12 350.68,128.70 352.29,115.50 353.38,108.48 354.12,103.88 355.80,95.00 355.94,94.39 357.77,87.70 359.23,84.04 359.60,83.39 361.43,80.75 362.52,79.83 363.26,79.47 365.09,78.87 365.81,78.65 366.92,78.33 368.74,77.81 368.75,77.80 370.57,77.13 372.40,76.40 373.13,76.12 374.23,75.70 376.06,75.00 377.89,74.31 379.72,73.66 380.44,73.42 381.55,73.07 383.38,72.50 385.20,71.96 387.03,71.45 388.86,70.98 390.68,70.56 390.69,70.56 392.52,70.17 394.35,69.81 396.18,69.47 398.01,69.15 399.84,68.84 401.66,68.56 403.49,68.29 405.31,68.03 405.32,68.03 407.15,67.78 408.98,67.53 410.81,67.30 412.64,67.07 414.47,66.86 416.29,66.67 418.12,66.50 419.95,66.35 420.04,66.34 421.78,66.23 423.61,66.12 425.44,66.02 427.27,65.93 429.10,65.85 430.93,65.78 432.75,65.72 434.58,65.66 436.41,65.60 438.24,65.54 440.07,65.47 441.90,65.40 443.73,65.33 445.56,65.24 447.38,65.15 449.21,65.04 451.04,64.91 452.87,64.77 454.22,64.66 454.70,64.61 456.53,64.31 458.36,63.86 460.19,63.30 462.01,62.67 463.84,62.03 465.67,61.40 467.50,60.83 469.33,60.36 471.16,60.04 472.13,59.94 472.99,59.88 474.82,59.77 476.65,59.68 478.47,59.60 480.30,59.53 482.13,59.47 483.96,59.40 485.79,59.34 487.62,59.27 487.62,59.27 489.45,59.20 491.28,59.13 493.10,59.08 494.93,59.02 496.76,58.96 498.59,58.89 500.42,58.81 502.25,58.70 503.71,58.59 504.08,58.56 505.91,58.34 507.37,57.92 507.73,57.44 508.69,52.86 509.27,36.01 509.56,10.73 M509.96,10.73 509.74,44.43 509.38,59.60 508.50,66.01 508.14,66.10 506.32,66.31 505.58,66.34 504.49,66.38 502.67,66.44 500.84,66.48 499.02,66.52 497.19,66.54 495.37,66.56 493.54,66.59 491.72,66.61 489.90,66.64 488.07,66.68 488.02,66.68 486.25,66.72 484.42,66.77 482.60,66.81 480.77,66.87 478.95,66.95 477.49,67.02 477.13,67.05 475.30,67.37 473.48,67.94 471.65,68.67 469.83,69.48 468.00,70.28 466.18,70.98 464.36,71.51 462.88,71.74 462.53,71.77 460.71,71.92 458.88,72.05 457.06,72.16 455.23,72.27 453.41,72.36 451.59,72.44 449.76,72.51 447.94,72.57 446.11,72.63 444.29,72.68 442.46,72.73 440.64,72.77 438.82,72.82 436.99,72.87 435.17,72.92 433.34,72.97 431.52,73.03 429.69,73.10 427.87,73.18 426.05,73.26 424.22,73.36 422.40,73.47 420.66,73.59 420.57,73.60 418.75,73.75 416.92,73.95 415.10,74.18 413.28,74.44 411.45,74.72 409.63,75.01 407.80,75.32 406.11,75.61 405.98,75.64 404.15,75.97 402.33,76.34 400.51,76.74 398.68,77.16 396.86,77.60 395.03,78.06 393.21,78.53 391.48,78.99 391.38,79.01 389.56,79.51 387.73,80.05 385.91,80.61 384.09,81.19 382.26,81.76 381.97,81.85 380.44,82.35 378.61,82.97 376.79,83.58 374.96,84.13 374.66,84.21 373.14,84.57 371.32,84.96 370.27,85.22 369.49,85.45 367.67,86.10 367.35,86.23 365.84,86.93 364.06,87.92 364.02,87.94 362.19,89.08 360.76,90.28 360.37,90.71 358.55,93.55 357.47,95.84 356.72,97.95 354.91,105.11 354.90,105.18 353.07,114.67 351.99,121.96 351.25,127.73 349.79,143.87 349.42,150.32 347.60,204.55 M347.60,204.55 349.42,160.84 349.43,160.73 351.24,131.27 351.48,128.70 353.07,115.63 354.18,108.48 354.89,104.04 356.60,95.00 356.71,94.52 358.53,87.82 360.03,84.04 360.36,83.46 362.18,80.80 363.32,79.83 364.00,79.49 365.82,78.88 366.61,78.65 367.64,78.35 369.47,77.83 369.54,77.81 371.29,77.17 373.11,76.44 373.93,76.12 374.93,75.74 376.76,75.04 378.58,74.35 380.40,73.70 381.24,73.42 382.22,73.11 384.05,72.54 385.87,72.00 387.69,71.49 389.51,71.02 391.33,70.59 391.48,70.56 393.16,70.20 394.98,69.84 396.80,69.50 398.62,69.18 400.45,68.88 402.27,68.59 404.09,68.32 405.91,68.06 406.11,68.03 407.73,67.80 409.56,67.56 411.38,67.32 413.20,67.09 415.02,66.87 416.85,66.67 418.67,66.50 420.49,66.35 420.58,66.34 422.31,66.22 424.14,66.11 425.96,66.02 427.78,65.93 429.60,65.85 431.42,65.78 433.25,65.72 435.07,65.66 436.89,65.60 438.71,65.53 440.54,65.47 442.36,65.40 444.18,65.33 446.00,65.24 447.82,65.15 449.65,65.04 451.47,64.91 453.29,64.77 454.64,64.66 455.11,64.61 456.94,64.31 458.76,63.86 460.58,63.30 462.40,62.68 464.23,62.03 466.05,61.40 467.87,60.83 469.69,60.36 471.51,60.04 472.48,59.94 473.34,59.88 475.16,59.77 476.98,59.67 478.80,59.60 480.63,59.53 482.45,59.46 484.27,59.40 486.09,59.34 487.84,59.27 487.91,59.26 489.74,59.19 491.56,59.13 493.38,59.08 495.20,59.02 497.03,58.96 498.85,58.89 500.67,58.80 502.49,58.70 503.93,58.59 504.32,58.56 506.14,58.34 507.59,57.92 507.96,57.42 508.90,52.86 509.49,36.01 509.78,10.73 M510.18,10.73 509.96,44.43 509.60,59.60 508.72,66.01 508.36,66.10 506.55,66.31 505.79,66.34 504.73,66.38 502.91,66.44 501.09,66.48 499.28,66.51 497.46,66.54 495.64,66.56 493.82,66.59 492.00,66.61 490.19,66.64 488.37,66.68 488.24,66.68 486.55,66.72 484.73,66.76 482.92,66.81 481.10,66.87 479.28,66.94 477.83,67.02 477.46,67.05 475.64,67.37 473.83,67.94 472.01,68.67 470.19,69.48 468.37,70.28 466.56,70.98 464.74,71.51 463.27,71.74 462.92,71.77 461.10,71.92 459.28,72.05 457.47,72.16 455.65,72.27 453.83,72.36 452.01,72.44 450.20,72.51 448.38,72.57 446.56,72.63 444.74,72.68 442.92,72.73 441.11,72.77 439.29,72.82 437.47,72.87 435.65,72.92 433.84,72.97 432.02,73.03 430.20,73.10 428.38,73.17 426.56,73.26 424.75,73.36 422.93,73.47 421.20,73.59 421.11,73.60 419.29,73.76 417.48,73.96 415.66,74.19 413.84,74.45 412.02,74.74 410.20,75.04 408.39,75.36 406.91,75.61 406.57,75.67 404.75,76.02 402.93,76.39 401.12,76.79 399.30,77.21 397.48,77.65 395.66,78.11 393.84,78.57 392.28,78.99 392.03,79.05 390.21,79.56 388.39,80.10 386.57,80.66 384.76,81.23 382.94,81.80 382.77,81.85 381.12,82.39 379.30,83.01 377.48,83.61 375.67,84.15 375.46,84.21 373.85,84.58 372.03,84.98 371.07,85.22 370.21,85.48 368.40,86.13 368.15,86.23 366.58,86.96 364.86,87.92 364.76,87.97 362.94,89.11 361.56,90.28 361.12,90.76 359.31,93.62 358.27,95.84 357.49,98.06 355.71,105.11 355.67,105.30 353.85,114.79 352.79,121.96 352.04,127.84 350.59,143.87 350.22,150.45 348.40,204.55 M348.40,204.55 350.22,160.97 350.23,160.73 352.03,131.43 352.28,128.70 353.85,115.77 354.98,108.48 355.66,104.20 357.40,95.00 357.48,94.65 359.29,87.95 360.83,84.04 361.11,83.54 362.93,80.86 364.12,79.83 364.74,79.52 366.56,78.90 367.41,78.65 368.37,78.37 370.19,77.85 370.34,77.81 372.00,77.20 373.82,76.47 374.73,76.12 375.64,75.77 377.45,75.08 379.27,74.39 381.08,73.74 382.04,73.42 382.90,73.15 384.71,72.58 386.53,72.04 388.35,71.53 390.16,71.05 391.98,70.62 392.28,70.56 393.79,70.24 395.61,69.88 397.42,69.54 399.24,69.22 401.06,68.91 402.87,68.62 404.69,68.35 406.50,68.09 406.91,68.03 408.32,67.83 410.13,67.58 411.95,67.33 413.77,67.10 415.58,66.88 417.40,66.68 419.21,66.50 421.03,66.35 421.12,66.34 422.84,66.22 424.66,66.11 426.48,66.01 428.29,65.93 430.11,65.85 431.92,65.78 433.74,65.72 435.56,65.65 437.37,65.59 439.19,65.53 441.00,65.47 442.82,65.40 444.63,65.32 446.45,65.24 448.27,65.15 450.08,65.04 451.90,64.91 453.71,64.77 455.06,64.66 455.53,64.61 457.34,64.31 459.16,63.86 460.98,63.30 462.79,62.68 464.61,62.03 466.42,61.40 468.24,60.83 470.05,60.36 471.87,60.04 472.83,59.94 473.69,59.88 475.50,59.77 477.32,59.67 479.13,59.59 480.95,59.52 482.76,59.46 484.58,59.40 486.40,59.33 488.06,59.27 488.21,59.26 490.03,59.19 491.84,59.13 493.66,59.08 495.47,59.02 497.29,58.96 499.11,58.89 500.92,58.80 502.74,58.69 504.15,58.59 504.55,58.56 506.37,58.34 507.81,57.92 508.18,57.41 509.12,52.86 509.71,36.01 510.00,10.73 M510.40,10.73 510.18,44.43 509.81,59.60 508.94,66.01 508.59,66.09 506.77,66.31 506.01,66.34 504.96,66.38 503.14,66.44 501.33,66.48 499.51,66.51 497.70,66.54 495.88,66.56 494.07,66.58 492.25,66.61 490.44,66.64 488.62,66.68 488.46,66.68 486.81,66.72 485.00,66.76 483.18,66.81 481.37,66.87 479.55,66.94 478.10,67.02 477.74,67.05 475.92,67.37 474.11,67.94 472.29,68.67 470.48,69.48 468.66,70.28 466.85,70.98 465.03,71.51 463.56,71.74 463.22,71.77 461.41,71.92 459.59,72.05 457.78,72.16 455.96,72.27 454.15,72.36 452.33,72.44 450.52,72.51 448.70,72.57 446.89,72.63 445.07,72.68 443.26,72.72 441.44,72.77 439.63,72.82 437.82,72.86 436.00,72.91 434.19,72.97 432.37,73.03 430.56,73.10 428.74,73.17 426.93,73.26 425.11,73.36 423.30,73.47 421.57,73.59 421.48,73.60 419.67,73.76 417.86,73.96 416.04,74.20 414.23,74.46 412.41,74.75 410.60,75.06 408.78,75.37 407.41,75.61 406.97,75.69 405.15,76.04 403.34,76.41 401.52,76.81 399.71,77.23 397.89,77.67 396.08,78.13 394.27,78.60 392.78,78.99 392.45,79.07 390.64,79.58 388.82,80.12 387.01,80.68 385.19,81.25 383.38,81.82 383.27,81.85 381.56,82.41 379.75,83.03 377.93,83.63 376.12,84.17 375.96,84.21 374.30,84.59 372.49,84.99 371.57,85.22 370.68,85.49 368.86,86.14 368.65,86.23 367.05,86.97 365.36,87.92 365.23,87.99 363.42,89.13 362.06,90.28 361.60,90.79 359.79,93.66 358.77,95.84 357.97,98.11 356.21,105.11 356.16,105.35 354.34,114.85 353.29,121.96 352.53,127.90 351.09,143.87 350.71,150.52 348.90,204.55" stroke="#e2281f" stroke-width="1.8"/></g><path d="M78.70,221.60v-3.8M78.70,2.30v3.8M127.50,221.60v-3.8M127.50,2.30v3.8M176.30,221.60v-3.8M176.30,2.30v3.8M225.10,221.60v-3.8M225.10,2.30v3.8M273.90,221.60v-3.8M273.90,2.30v3.8M54.30,221.60v-1.7M54.30,2.30v1.7M103.10,221.60v-1.7M103.10,2.30v1.7M151.90,221.60v-1.7M151.90,2.30v1.7M200.70,221.60v-1.7M200.70,2.30v1.7M249.50,221.60v-1.7M249.50,2.30v1.7M54.30,221.60h3.8M273.90,221.60h-3.8M54.30,187.86h3.8M273.90,187.86h-3.8M54.30,154.12h3.8M273.90,154.12h-3.8M54.30,120.38h3.8M273.90,120.38h-3.8M54.30,86.65h3.8M273.90,86.65h-3.8M54.30,52.91h3.8M273.90,52.91h-3.8M54.30,19.17h3.8M273.90,19.17h-3.8M54.30,204.73h1.7M273.90,204.73h-1.7M54.30,170.99h1.7M273.90,170.99h-1.7M54.30,137.25h1.7M273.90,137.25h-1.7M54.30,103.52h1.7M273.90,103.52h-1.7M54.30,69.78h1.7M273.90,69.78h-1.7M54.30,36.04h1.7M273.90,36.04h-1.7M54.30,2.30h1.7M273.90,2.30h-1.7" stroke="#222222" stroke-width="1.2" fill="none"/><rect x="54.30" y="2.30" width="219.60" height="219.30" stroke="#222222" stroke-width="1.5" fill="none"/><path d="M365.37,221.40v-3.8M365.37,2.30v3.8M438.50,221.40v-3.8M438.50,2.30v3.8M511.63,221.40v-3.8M511.63,2.30v3.8M328.80,221.40v-1.7M328.80,2.30v1.7M401.93,221.40v-1.7M401.93,2.30v1.7M475.07,221.40v-1.7M475.07,2.30v1.7M548.20,221.40v-1.7M548.20,2.30v1.7M328.80,221.40h3.8M548.20,221.40h-3.8M328.80,187.69h3.8M548.20,187.69h-3.8M328.80,153.98h3.8M548.20,153.98h-3.8M328.80,120.28h3.8M548.20,120.28h-3.8M328.80,86.57h3.8M548.20,86.57h-3.8M328.80,52.86h3.8M548.20,52.86h-3.8M328.80,19.15h3.8M548.20,19.15h-3.8M328.80,204.55h1.7M548.20,204.55h-1.7M328.80,170.84h1.7M548.20,170.84h-1.7M328.80,137.13h1.7M548.20,137.13h-1.7M328.80,103.42h1.7M548.20,103.42h-1.7M328.80,69.72h1.7M548.20,69.72h-1.7M328.80,36.01h1.7M548.20,36.01h-1.7M328.80,2.30h1.7M548.20,2.30h-1.7" stroke="#222222" stroke-width="1.2" fill="none"/><rect x="328.80" y="2.30" width="219.40" height="219.10" stroke="#222222" stroke-width="1.5" fill="none"/><path d="M70.67,496.60v-3.8M70.67,277.10v3.8M136.53,496.60v-3.8M136.53,277.10v3.8M202.40,496.60v-3.8M202.40,277.10v3.8M268.27,496.60v-3.8M268.27,277.10v3.8M334.13,496.60v-3.8M334.13,277.10v3.8M400.00,496.60v-3.8M400.00,277.10v3.8M465.87,496.60v-3.8M465.87,277.10v3.8M531.73,496.60v-3.8M531.73,277.10v3.8M103.60,496.60v-1.7M103.60,277.10v1.7M169.47,496.60v-1.7M169.47,277.10v1.7M235.33,496.60v-1.7M235.33,277.10v1.7M301.20,496.60v-1.7M301.20,277.10v1.7M367.07,496.60v-1.7M367.07,277.10v1.7M432.93,496.60v-1.7M432.93,277.10v1.7M498.80,496.60v-1.7M498.80,277.10v1.7M54.20,496.60h3.8M548.20,496.60h-3.8M54.20,452.70h3.8M548.20,452.70h-3.8M54.20,408.80h3.8M548.20,408.80h-3.8M54.20,364.90h3.8M548.20,364.90h-3.8M54.20,321.00h3.8M548.20,321.00h-3.8M54.20,277.10h3.8M548.20,277.10h-3.8M54.20,474.65h1.7M548.20,474.65h-1.7M54.20,430.75h1.7M548.20,430.75h-1.7M54.20,386.85h1.7M548.20,386.85h-1.7M54.20,342.95h1.7M548.20,342.95h-1.7M54.20,299.05h1.7M548.20,299.05h-1.7" stroke="#222222" stroke-width="1.2" fill="none"/><rect x="54.20" y="277.10" width="494.00" height="219.50" stroke="#222222" stroke-width="1.5" fill="none"/><text transform="translate(49.70,227.20) scale(1,1.0)" font-size="15" text-anchor="end" stroke="#222222" stroke-width="0.25" >2.4</text><text transform="translate(49.70,193.46) scale(1,1.0)" font-size="15" text-anchor="end" stroke="#222222" stroke-width="0.25" >2.6</text><text transform="translate(49.70,159.72) scale(1,1.0)" font-size="15" text-anchor="end" stroke="#222222" stroke-width="0.25" >2.8</text><text transform="translate(49.70,125.98) scale(1,1.0)" font-size="15" text-anchor="end" stroke="#222222" stroke-width="0.25" >3.0</text><text transform="translate(49.70,92.25) scale(1,1.0)" font-size="15" text-anchor="end" stroke="#222222" stroke-width="0.25" >3.2</text><text transform="translate(49.70,58.51) scale(1,1.0)" font-size="15" text-anchor="end" stroke="#222222" stroke-width="0.25" >3.4</text><text transform="translate(49.70,24.77) scale(1,1.0)" font-size="15" text-anchor="end" stroke="#222222" stroke-width="0.25" >3.6</text><text transform="translate(324.20,227.00) scale(1,1.0)" font-size="15" text-anchor="end" stroke="#222222" stroke-width="0.25" >2.4</text><text transform="translate(324.20,193.29) scale(1,1.0)" font-size="15" text-anchor="end" stroke="#222222" stroke-width="0.25" >2.6</text><text transform="translate(324.20,159.58) scale(1,1.0)" font-size="15" text-anchor="end" stroke="#222222" stroke-width="0.25" >2.8</text><text transform="translate(324.20,125.88) scale(1,1.0)" font-size="15" text-anchor="end" stroke="#222222" stroke-width="0.25" >3.0</text><text transform="translate(324.20,92.17) scale(1,1.0)" font-size="15" text-anchor="end" stroke="#222222" stroke-width="0.25" >3.2</text><text transform="translate(324.20,58.46) scale(1,1.0)" font-size="15" text-anchor="end" stroke="#222222" stroke-width="0.25" >3.4</text><text transform="translate(324.20,24.75) scale(1,1.0)" font-size="15" text-anchor="end" stroke="#222222" stroke-width="0.25" >3.6</text><text transform="translate(78.70,237.50) scale(1,1.0)" font-size="15" text-anchor="middle" stroke="#222222" stroke-width="0.25" >−100</text><text transform="translate(127.50,237.50) scale(1,1.0)" font-size="15" text-anchor="middle" stroke="#222222" stroke-width="0.25" >0</text><text transform="translate(176.30,237.50) scale(1,1.0)" font-size="15" text-anchor="middle" stroke="#222222" stroke-width="0.25" >100</text><text transform="translate(225.10,237.50) scale(1,1.0)" font-size="15" text-anchor="middle" stroke="#222222" stroke-width="0.25" >200</text><text transform="translate(273.90,237.50) scale(1,1.0)" font-size="15" text-anchor="middle" stroke="#222222" stroke-width="0.25" >300</text><text transform="translate(365.37,237.50) scale(1,1.0)" font-size="15" text-anchor="middle" stroke="#222222" stroke-width="0.25" >−100</text><text transform="translate(438.50,237.50) scale(1,1.0)" font-size="15" text-anchor="middle" stroke="#222222" stroke-width="0.25" >0</text><text transform="translate(511.63,237.50) scale(1,1.0)" font-size="15" text-anchor="middle" stroke="#222222" stroke-width="0.25" >100</text><text transform="translate(164.10,255.50) scale(1,1.0)" font-size="15" text-anchor="middle" stroke="#222222" stroke-width="0.25" >Capacity / mAh</text><text transform="translate(438.50,255.50) scale(1,1.0)" font-size="15" text-anchor="middle" stroke="#222222" stroke-width="0.25" >Capacity / mAh</text><text transform="translate(19.30,111.95) rotate(-90)" font-size="15" text-anchor="middle" stroke="#222222" stroke-width="0.25">Voltage / V</text><text transform="translate(293.80,111.85) rotate(-90)" font-size="15" text-anchor="middle" stroke="#222222" stroke-width="0.25">Voltage / V</text><text x="61.10" y="17.70" font-size="14.5" text-anchor="start" font-weight="bold" >a</text><text x="76.10" y="19.60" font-size="14.8" text-anchor="start" font-weight="bold" >CTRL</text><text x="76.10" y="35.60" font-size="14.8" text-anchor="start" font-weight="bold" >UHPC 40°C</text><text x="335.20" y="18.00" font-size="14.5" text-anchor="start" font-weight="bold" >b</text><text x="351.30" y="19.60" font-size="14.8" text-anchor="start" font-weight="bold" >2% VC</text><text x="351.30" y="35.60" font-size="14.8" text-anchor="start" font-weight="bold" >UHPC 40°C</text><path d="M411.5,186.9h15.2" stroke="#222222" stroke-width="1.3"/><path d="M411.5,203.3h15.2" stroke="#e2281f" stroke-width="1.3"/><text transform="translate(438.50,191.90) scale(1,1.0)" font-size="15" text-anchor="start" stroke="#222222" stroke-width="0.25" >100°C heating</text><text transform="translate(438.50,208.30) scale(1,1.0)" font-size="15" text-anchor="start" stroke="#222222" stroke-width="0.25" >120°C heating</text><text transform="translate(49.80,502.20) scale(1,1.0)" font-size="15" text-anchor="end" stroke="#222222" stroke-width="0.25" >0.95</text><text transform="translate(49.80,458.30) scale(1,1.0)" font-size="15" text-anchor="end" stroke="#222222" stroke-width="0.25" >0.96</text><text transform="translate(49.80,414.40) scale(1,1.0)" font-size="15" text-anchor="end" stroke="#222222" stroke-width="0.25" >0.97</text><text transform="translate(49.80,370.50) scale(1,1.0)" font-size="15" text-anchor="end" stroke="#222222" stroke-width="0.25" >0.98</text><text transform="translate(49.80,326.60) scale(1,1.0)" font-size="15" text-anchor="end" stroke="#222222" stroke-width="0.25" >0.99</text><text transform="translate(49.80,282.70) scale(1,1.0)" font-size="15" text-anchor="end" stroke="#222222" stroke-width="0.25" >1.00</text><text transform="translate(70.67,512.60) scale(1,1.0)" font-size="15" text-anchor="middle" stroke="#222222" stroke-width="0.25" >2</text><text transform="translate(136.53,512.60) scale(1,1.0)" font-size="15" text-anchor="middle" stroke="#222222" stroke-width="0.25" >4</text><text transform="translate(202.40,512.60) scale(1,1.0)" font-size="15" text-anchor="middle" stroke="#222222" stroke-width="0.25" >6</text><text transform="translate(268.27,512.60) scale(1,1.0)" font-size="15" text-anchor="middle" stroke="#222222" stroke-width="0.25" >8</text><text transform="translate(334.13,512.60) scale(1,1.0)" font-size="15" text-anchor="middle" stroke="#222222" stroke-width="0.25" >10</text><text transform="translate(400.00,512.60) scale(1,1.0)" font-size="15" text-anchor="middle" stroke="#222222" stroke-width="0.25" >12</text><text transform="translate(465.87,512.60) scale(1,1.0)" font-size="15" text-anchor="middle" stroke="#222222" stroke-width="0.25" >14</text><text transform="translate(531.73,512.60) scale(1,1.0)" font-size="15" text-anchor="middle" stroke="#222222" stroke-width="0.25" >16</text><text transform="translate(301.20,530.50) scale(1,1.0)" font-size="15" text-anchor="middle" stroke="#222222" stroke-width="0.25" >Cycle number</text><text transform="translate(12.40,388.05) rotate(-90)" font-size="15" text-anchor="middle" stroke="#222222" stroke-width="0.25">CE</text><text x="69.50" y="292.60" font-size="14.5" text-anchor="start" font-weight="bold" >c</text><g clip-path="url(#cc)"><circle cx="70.67" cy="338.10" r="4.6" fill="#222222"/><circle cx="103.60" cy="318.80" r="4.6" fill="#222222"/><circle cx="136.53" cy="314.00" r="4.6" fill="#222222"/><circle cx="169.47" cy="312.10" r="4.6" fill="#222222"/><circle cx="202.40" cy="310.70" r="4.6" fill="#222222"/><circle cx="235.33" cy="309.90" r="4.6" fill="#222222"/><circle cx="268.27" cy="309.10" r="4.6" fill="#222222"/><circle cx="301.20" cy="309.40" r="4.6" fill="#222222"/><circle cx="334.13" cy="309.40" r="4.6" fill="#222222"/><circle cx="367.07" cy="309.10" r="4.6" fill="#222222"/><circle cx="400.00" cy="309.10" r="4.6" fill="#222222"/><circle cx="432.93" cy="309.60" r="4.6" fill="#222222"/><circle cx="465.87" cy="310.30" r="4.6" fill="#222222"/><circle cx="498.80" cy="308.60" r="4.6" fill="#222222"/><circle cx="531.73" cy="309.60" r="4.6" fill="#222222"/><circle cx="70.67" cy="398.90" r="4.1" fill="none" stroke="#222222" stroke-width="1.1"/><circle cx="103.60" cy="430.40" r="4.1" fill="none" stroke="#222222" stroke-width="1.1"/><circle cx="136.53" cy="464.40" r="4.1" fill="none" stroke="#222222" stroke-width="1.1"/><circle cx="169.47" cy="496.30" r="4.1" fill="none" stroke="#222222" stroke-width="1.1"/><circle cx="70.67" cy="310.20" r="4.1" fill="none" stroke="#e2281f" stroke-width="1.1"/><circle cx="103.60" cy="300.70" r="4.1" fill="none" stroke="#e2281f" stroke-width="1.1"/><circle cx="136.53" cy="295.30" r="4.1" fill="none" stroke="#e2281f" stroke-width="1.1"/><circle cx="169.47" cy="292.00" r="4.1" fill="none" stroke="#e2281f" stroke-width="1.1"/><circle cx="202.40" cy="290.10" r="4.1" fill="none" stroke="#e2281f" stroke-width="1.1"/><circle cx="235.33" cy="288.80" r="4.1" fill="none" stroke="#e2281f" stroke-width="1.1"/><circle cx="268.27" cy="287.60" r="4.1" fill="none" stroke="#e2281f" stroke-width="1.1"/><circle cx="301.20" cy="286.60" r="4.1" fill="none" stroke="#e2281f" stroke-width="1.1"/><circle cx="334.13" cy="285.60" r="4.1" fill="none" stroke="#e2281f" stroke-width="1.1"/><circle cx="367.07" cy="285.00" r="4.1" fill="none" stroke="#e2281f" stroke-width="1.1"/><circle cx="400.00" cy="284.60" r="4.1" fill="none" stroke="#e2281f" stroke-width="1.1"/><circle cx="432.93" cy="284.30" r="4.1" fill="none" stroke="#e2281f" stroke-width="1.1"/><circle cx="465.87" cy="284.00" r="4.1" fill="none" stroke="#e2281f" stroke-width="1.1"/><circle cx="498.80" cy="283.80" r="4.1" fill="none" stroke="#e2281f" stroke-width="1.1"/><circle cx="531.73" cy="283.60" r="4.1" fill="none" stroke="#e2281f" stroke-width="1.1"/><circle cx="70.67" cy="329.10" r="4.6" fill="#e2281f"/><circle cx="103.60" cy="310.10" r="4.6" fill="#e2281f"/><circle cx="136.53" cy="301.80" r="4.6" fill="#e2281f"/><circle cx="169.47" cy="296.80" r="4.6" fill="#e2281f"/><circle cx="202.40" cy="292.90" r="4.6" fill="#e2281f"/><circle cx="235.33" cy="290.50" r="4.6" fill="#e2281f"/><circle cx="268.27" cy="288.80" r="4.6" fill="#e2281f"/><circle cx="301.20" cy="287.80" r="4.6" fill="#e2281f"/><circle cx="334.13" cy="286.80" r="4.6" fill="#e2281f"/><circle cx="367.07" cy="286.00" r="4.6" fill="#e2281f"/><circle cx="400.00" cy="285.20" r="4.6" fill="#e2281f"/><circle cx="432.93" cy="284.60" r="4.6" fill="#e2281f"/><circle cx="465.87" cy="284.20" r="4.6" fill="#e2281f"/><circle cx="498.80" cy="283.80" r="4.6" fill="#e2281f"/><circle cx="531.73" cy="283.60" r="4.6" fill="#e2281f"/></g><circle cx="413.6" cy="430.1" r="4.1" fill="none" stroke="#222222" stroke-width="1.1"/><circle cx="413.6" cy="446.4" r="4.1" fill="none" stroke="#e2281f" stroke-width="1.1"/><circle cx="413.6" cy="462.7" r="4.6" fill="#222222"/><circle cx="413.6" cy="479.0" r="4.6" fill="#e2281f"/><text transform="translate(433.00,435.40) scale(1,1.0)" font-size="15" text-anchor="start" stroke="#222222" stroke-width="0.25" >CTRL 100°C</text><text transform="translate(433.00,451.70) scale(1,1.0)" font-size="15" text-anchor="start" stroke="#222222" stroke-width="0.25" >2% VC 100°C</text><text transform="translate(433.00,468.00) scale(1,1.0)" font-size="15" text-anchor="start" stroke="#222222" stroke-width="0.25" >CTRL 120°C</text><text transform="translate(433.00,484.30) scale(1,1.0)" font-size="15" text-anchor="start" stroke="#222222" stroke-width="0.25" >2% VC 120°C</text></svg>
</body></html>
